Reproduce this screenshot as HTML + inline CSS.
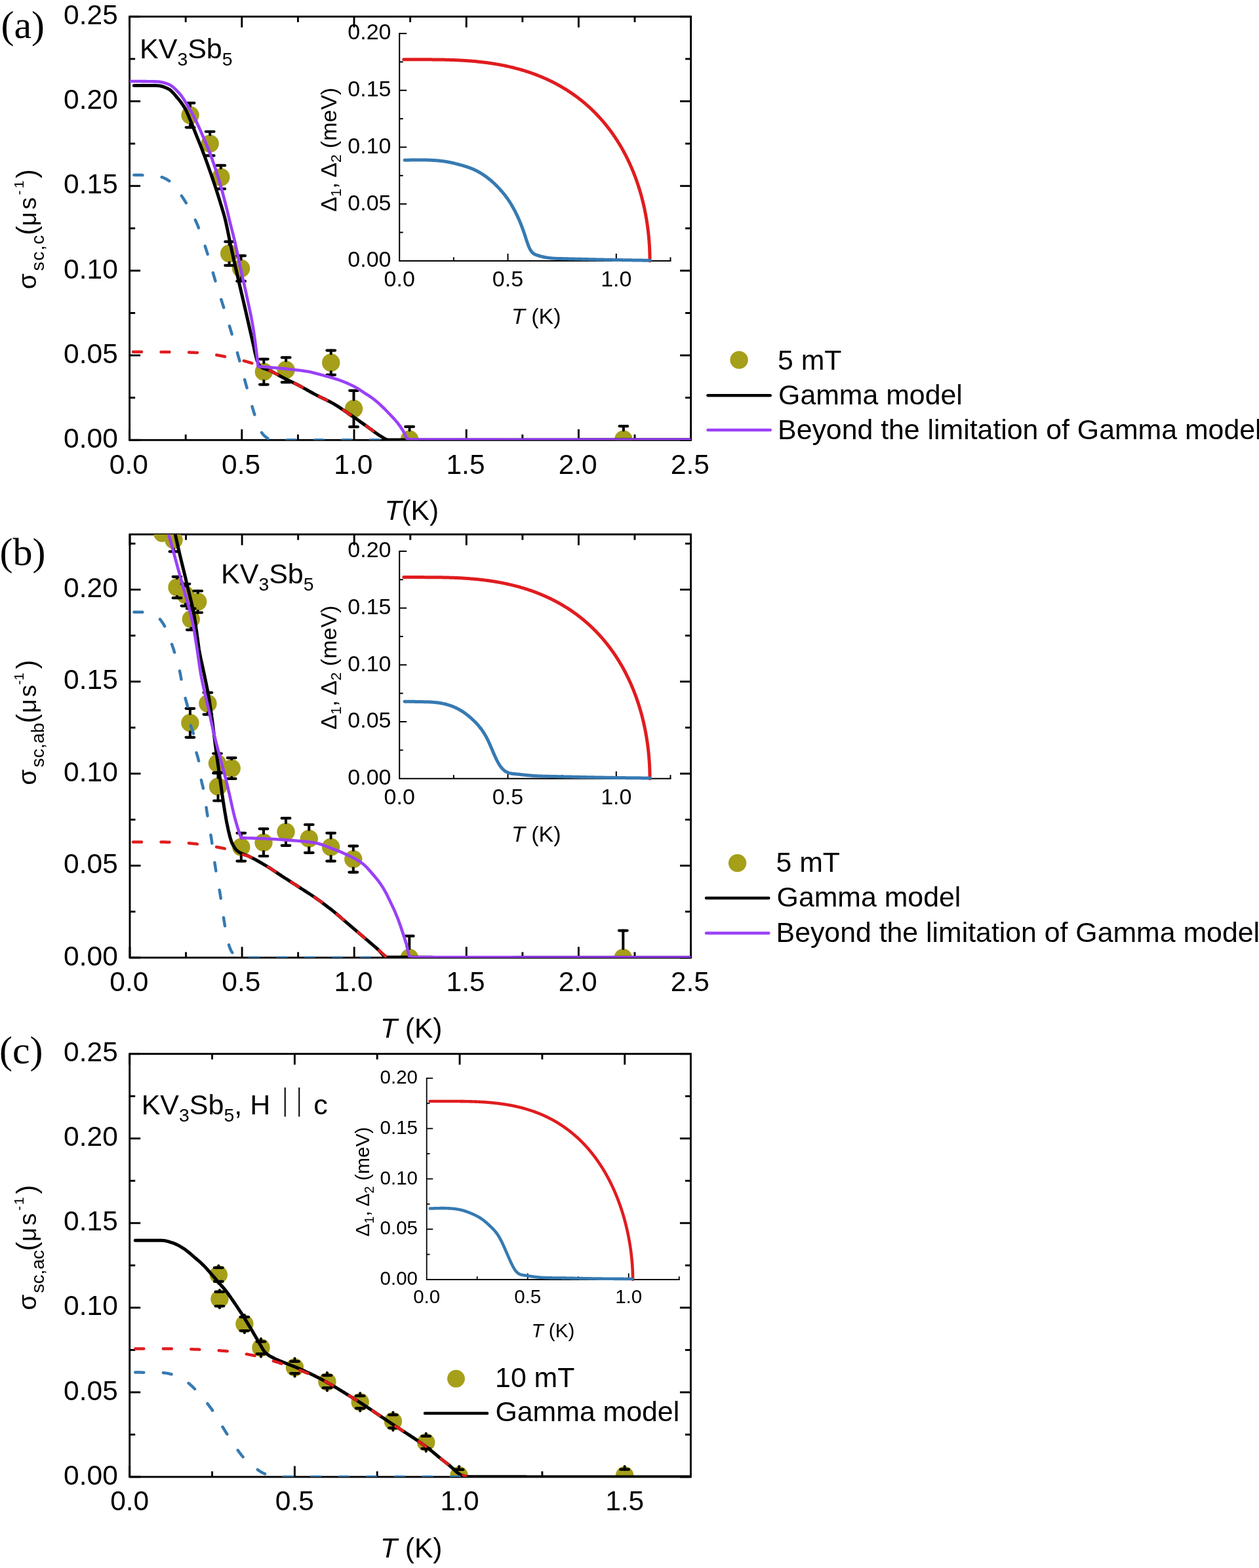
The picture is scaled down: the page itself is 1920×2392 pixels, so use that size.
<!DOCTYPE html>
<html><head><meta charset="utf-8"><title>figure</title>
<style>html,body{margin:0;padding:0;background:#fff;}svg{display:block;}</style></head>
<body><svg width="1920" height="2392" viewBox="0 0 1920 2392">
<rect width="1920" height="2392" fill="#fff"/>
<defs>
<clipPath id="cA"><rect x="197.6" y="25.3" width="856" height="646"/></clipPath>
<clipPath id="cB"><rect x="198" y="815.2" width="855.5" height="645.7"/></clipPath>
<clipPath id="cC"><rect x="197.7" y="1607.7" width="855.7" height="645.3"/></clipPath>
<clipPath id="cA2"><rect x="197.6" y="25.3" width="856" height="649"/></clipPath>
<clipPath id="cB2"><rect x="198" y="815.2" width="855.5" height="648.7"/></clipPath>
<clipPath id="cC2"><rect x="197.7" y="1607.7" width="855.7" height="648.3"/></clipPath>
</defs>
<rect x="197.6" y="25.3" width="856" height="646" fill="none" stroke="#000" stroke-width="2.9"/>
<line x1="197.6" y1="671.3" x2="197.6" y2="654.8" stroke="#000" stroke-width="2.9" stroke-linecap="butt"/>
<line x1="197.6" y1="25.3" x2="197.6" y2="41.8" stroke="#000" stroke-width="2.9" stroke-linecap="butt"/>
<line x1="368.8" y1="671.3" x2="368.8" y2="654.8" stroke="#000" stroke-width="2.9" stroke-linecap="butt"/>
<line x1="368.8" y1="25.3" x2="368.8" y2="41.8" stroke="#000" stroke-width="2.9" stroke-linecap="butt"/>
<line x1="540" y1="671.3" x2="540" y2="654.8" stroke="#000" stroke-width="2.9" stroke-linecap="butt"/>
<line x1="540" y1="25.3" x2="540" y2="41.8" stroke="#000" stroke-width="2.9" stroke-linecap="butt"/>
<line x1="711.2" y1="671.3" x2="711.2" y2="654.8" stroke="#000" stroke-width="2.9" stroke-linecap="butt"/>
<line x1="711.2" y1="25.3" x2="711.2" y2="41.8" stroke="#000" stroke-width="2.9" stroke-linecap="butt"/>
<line x1="882.4" y1="671.3" x2="882.4" y2="654.8" stroke="#000" stroke-width="2.9" stroke-linecap="butt"/>
<line x1="882.4" y1="25.3" x2="882.4" y2="41.8" stroke="#000" stroke-width="2.9" stroke-linecap="butt"/>
<line x1="1053.6" y1="671.3" x2="1053.6" y2="654.8" stroke="#000" stroke-width="2.9" stroke-linecap="butt"/>
<line x1="1053.6" y1="25.3" x2="1053.6" y2="41.8" stroke="#000" stroke-width="2.9" stroke-linecap="butt"/>
<line x1="283.2" y1="671.3" x2="283.2" y2="662.8" stroke="#000" stroke-width="2.9" stroke-linecap="butt"/>
<line x1="283.2" y1="25.3" x2="283.2" y2="33.8" stroke="#000" stroke-width="2.9" stroke-linecap="butt"/>
<line x1="454.4" y1="671.3" x2="454.4" y2="662.8" stroke="#000" stroke-width="2.9" stroke-linecap="butt"/>
<line x1="454.4" y1="25.3" x2="454.4" y2="33.8" stroke="#000" stroke-width="2.9" stroke-linecap="butt"/>
<line x1="625.6" y1="671.3" x2="625.6" y2="662.8" stroke="#000" stroke-width="2.9" stroke-linecap="butt"/>
<line x1="625.6" y1="25.3" x2="625.6" y2="33.8" stroke="#000" stroke-width="2.9" stroke-linecap="butt"/>
<line x1="796.8" y1="671.3" x2="796.8" y2="662.8" stroke="#000" stroke-width="2.9" stroke-linecap="butt"/>
<line x1="796.8" y1="25.3" x2="796.8" y2="33.8" stroke="#000" stroke-width="2.9" stroke-linecap="butt"/>
<line x1="968" y1="671.3" x2="968" y2="662.8" stroke="#000" stroke-width="2.9" stroke-linecap="butt"/>
<line x1="968" y1="25.3" x2="968" y2="33.8" stroke="#000" stroke-width="2.9" stroke-linecap="butt"/>
<line x1="197.6" y1="671.3" x2="214.1" y2="671.3" stroke="#000" stroke-width="2.9" stroke-linecap="butt"/>
<line x1="1053.6" y1="671.3" x2="1037.1" y2="671.3" stroke="#000" stroke-width="2.9" stroke-linecap="butt"/>
<line x1="197.6" y1="542.1" x2="214.1" y2="542.1" stroke="#000" stroke-width="2.9" stroke-linecap="butt"/>
<line x1="1053.6" y1="542.1" x2="1037.1" y2="542.1" stroke="#000" stroke-width="2.9" stroke-linecap="butt"/>
<line x1="197.6" y1="412.9" x2="214.1" y2="412.9" stroke="#000" stroke-width="2.9" stroke-linecap="butt"/>
<line x1="1053.6" y1="412.9" x2="1037.1" y2="412.9" stroke="#000" stroke-width="2.9" stroke-linecap="butt"/>
<line x1="197.6" y1="283.7" x2="214.1" y2="283.7" stroke="#000" stroke-width="2.9" stroke-linecap="butt"/>
<line x1="1053.6" y1="283.7" x2="1037.1" y2="283.7" stroke="#000" stroke-width="2.9" stroke-linecap="butt"/>
<line x1="197.6" y1="154.5" x2="214.1" y2="154.5" stroke="#000" stroke-width="2.9" stroke-linecap="butt"/>
<line x1="1053.6" y1="154.5" x2="1037.1" y2="154.5" stroke="#000" stroke-width="2.9" stroke-linecap="butt"/>
<line x1="197.6" y1="25.3" x2="214.1" y2="25.3" stroke="#000" stroke-width="2.9" stroke-linecap="butt"/>
<line x1="1053.6" y1="25.3" x2="1037.1" y2="25.3" stroke="#000" stroke-width="2.9" stroke-linecap="butt"/>
<line x1="197.6" y1="606.7" x2="206.1" y2="606.7" stroke="#000" stroke-width="2.9" stroke-linecap="butt"/>
<line x1="1053.6" y1="606.7" x2="1045.1" y2="606.7" stroke="#000" stroke-width="2.9" stroke-linecap="butt"/>
<line x1="197.6" y1="477.5" x2="206.1" y2="477.5" stroke="#000" stroke-width="2.9" stroke-linecap="butt"/>
<line x1="1053.6" y1="477.5" x2="1045.1" y2="477.5" stroke="#000" stroke-width="2.9" stroke-linecap="butt"/>
<line x1="197.6" y1="348.3" x2="206.1" y2="348.3" stroke="#000" stroke-width="2.9" stroke-linecap="butt"/>
<line x1="1053.6" y1="348.3" x2="1045.1" y2="348.3" stroke="#000" stroke-width="2.9" stroke-linecap="butt"/>
<line x1="197.6" y1="219.1" x2="206.1" y2="219.1" stroke="#000" stroke-width="2.9" stroke-linecap="butt"/>
<line x1="1053.6" y1="219.1" x2="1045.1" y2="219.1" stroke="#000" stroke-width="2.9" stroke-linecap="butt"/>
<line x1="197.6" y1="89.9" x2="206.1" y2="89.9" stroke="#000" stroke-width="2.9" stroke-linecap="butt"/>
<line x1="1053.6" y1="89.9" x2="1045.1" y2="89.9" stroke="#000" stroke-width="2.9" stroke-linecap="butt"/>
<text x="179.8" y="682.9" font-size="42.5" text-anchor="end" font-family='"Liberation Sans", Arial, Helvetica, sans-serif' >0.00</text>
<text x="179.8" y="553.7" font-size="42.5" text-anchor="end" font-family='"Liberation Sans", Arial, Helvetica, sans-serif' >0.05</text>
<text x="179.8" y="424.5" font-size="42.5" text-anchor="end" font-family='"Liberation Sans", Arial, Helvetica, sans-serif' >0.10</text>
<text x="179.8" y="295.3" font-size="42.5" text-anchor="end" font-family='"Liberation Sans", Arial, Helvetica, sans-serif' >0.15</text>
<text x="179.8" y="166.1" font-size="42.5" text-anchor="end" font-family='"Liberation Sans", Arial, Helvetica, sans-serif' >0.20</text>
<text x="179.8" y="36.9" font-size="42.5" text-anchor="end" font-family='"Liberation Sans", Arial, Helvetica, sans-serif' >0.25</text>
<text x="196.4" y="722.5" font-size="42.5" text-anchor="middle" font-family='"Liberation Sans", Arial, Helvetica, sans-serif' >0.0</text>
<text x="367.6" y="722.5" font-size="42.5" text-anchor="middle" font-family='"Liberation Sans", Arial, Helvetica, sans-serif' >0.5</text>
<text x="538.8" y="722.5" font-size="42.5" text-anchor="middle" font-family='"Liberation Sans", Arial, Helvetica, sans-serif' >1.0</text>
<text x="710" y="722.5" font-size="42.5" text-anchor="middle" font-family='"Liberation Sans", Arial, Helvetica, sans-serif' >1.5</text>
<text x="881.2" y="722.5" font-size="42.5" text-anchor="middle" font-family='"Liberation Sans", Arial, Helvetica, sans-serif' >2.0</text>
<text x="1052.4" y="722.5" font-size="42.5" text-anchor="middle" font-family='"Liberation Sans", Arial, Helvetica, sans-serif' >2.5</text>
<g fill="#a59f19" clip-path="url(#cA)"><circle cx="290.05" cy="175.69" r="13.7"/><circle cx="320.18" cy="219.1" r="13.7"/><circle cx="336.79" cy="270.26" r="13.7"/><circle cx="349.63" cy="386.8" r="13.7"/><circle cx="367.6" cy="409.54" r="13.7"/><circle cx="402.36" cy="567.16" r="13.7"/><circle cx="436.12" cy="564.32" r="13.7"/><circle cx="504.73" cy="553.21" r="13.7"/><circle cx="539.49" cy="623.5" r="13.7"/><circle cx="624.57" cy="670.27" r="13.7"/><circle cx="950.88" cy="670.27" r="13.7"/></g>
<g stroke="#000" stroke-linecap="round" clip-path="url(#cA)"><line x1="290.05" y1="161.99" x2="290.05" y2="157.08" stroke-width="4"/><line x1="290.05" y1="189.39" x2="290.05" y2="194.29" stroke-width="4"/><line x1="283.75" y1="157.08" x2="296.35" y2="157.08" stroke-width="4.2"/><line x1="283.75" y1="194.29" x2="296.35" y2="194.29" stroke-width="4.2"/><line x1="320.18" y1="205.4" x2="320.18" y2="200.75" stroke-width="4"/><line x1="320.18" y1="232.8" x2="320.18" y2="237.45" stroke-width="4"/><line x1="313.88" y1="200.75" x2="326.48" y2="200.75" stroke-width="4.2"/><line x1="313.88" y1="237.45" x2="326.48" y2="237.45" stroke-width="4.2"/><line x1="336.79" y1="256.56" x2="336.79" y2="252.43" stroke-width="4"/><line x1="336.79" y1="283.96" x2="336.79" y2="288.09" stroke-width="4"/><line x1="330.49" y1="252.43" x2="343.09" y2="252.43" stroke-width="4.2"/><line x1="330.49" y1="288.09" x2="343.09" y2="288.09" stroke-width="4.2"/><line x1="349.63" y1="373.1" x2="349.63" y2="368.71" stroke-width="4"/><line x1="349.63" y1="400.5" x2="349.63" y2="404.89" stroke-width="4"/><line x1="343.33" y1="368.71" x2="355.93" y2="368.71" stroke-width="4.2"/><line x1="343.33" y1="404.89" x2="355.93" y2="404.89" stroke-width="4.2"/><line x1="367.6" y1="395.84" x2="367.6" y2="390.16" stroke-width="4"/><line x1="367.6" y1="423.24" x2="367.6" y2="428.92" stroke-width="4"/><line x1="361.3" y1="390.16" x2="373.9" y2="390.16" stroke-width="4.2"/><line x1="361.3" y1="428.92" x2="373.9" y2="428.92" stroke-width="4.2"/><line x1="402.36" y1="553.46" x2="402.36" y2="547.78" stroke-width="4"/><line x1="402.36" y1="580.86" x2="402.36" y2="586.54" stroke-width="4"/><line x1="396.06" y1="547.78" x2="408.66" y2="547.78" stroke-width="4.2"/><line x1="396.06" y1="586.54" x2="408.66" y2="586.54" stroke-width="4.2"/><line x1="436.12" y1="550.62" x2="436.12" y2="545.46" stroke-width="4"/><line x1="436.12" y1="578.02" x2="436.12" y2="583.19" stroke-width="4"/><line x1="429.82" y1="545.46" x2="442.42" y2="545.46" stroke-width="4.2"/><line x1="429.82" y1="583.19" x2="442.42" y2="583.19" stroke-width="4.2"/><line x1="504.73" y1="539.51" x2="504.73" y2="534.61" stroke-width="4"/><line x1="504.73" y1="566.91" x2="504.73" y2="571.82" stroke-width="4"/><line x1="498.43" y1="534.61" x2="511.03" y2="534.61" stroke-width="4.2"/><line x1="498.43" y1="571.82" x2="511.03" y2="571.82" stroke-width="4.2"/><line x1="539.49" y1="609.8" x2="539.49" y2="595.85" stroke-width="4"/><line x1="539.49" y1="637.2" x2="539.49" y2="651.14" stroke-width="4"/><line x1="533.19" y1="595.85" x2="545.79" y2="595.85" stroke-width="4.2"/><line x1="533.19" y1="651.14" x2="545.79" y2="651.14" stroke-width="4.2"/><line x1="624.57" y1="656.57" x2="624.57" y2="650.89" stroke-width="4"/><line x1="624.57" y1="683.97" x2="624.57" y2="689.65" stroke-width="4"/><line x1="618.27" y1="650.89" x2="630.87" y2="650.89" stroke-width="4.2"/><line x1="618.27" y1="689.65" x2="630.87" y2="689.65" stroke-width="4.2"/><line x1="950.88" y1="656.57" x2="950.88" y2="650.11" stroke-width="4"/><line x1="950.88" y1="683.97" x2="950.88" y2="690.42" stroke-width="4"/><line x1="944.58" y1="650.11" x2="957.18" y2="650.11" stroke-width="4.2"/><line x1="944.58" y1="690.42" x2="957.18" y2="690.42" stroke-width="4.2"/></g>
<path d="M204.4 130.6 L207.24 130.6 L210.08 130.6 L212.92 130.6 L215.76 130.6 L218.6 130.6 L221.44 130.6 L224.28 130.6 L227.12 130.6 L229.96 130.6 L232.8 130.6 L235.64 130.6 L238.48 130.6 L241.32 130.64 L244.16 131.01 L247 131.7 L249.84 132.65 L252.68 133.79 L255.52 135.05 L258.36 136.54 L261.2 138.79 L264.04 141.66 L266.88 144.92 L269.72 148.34 L272.56 151.73 L275.4 155.3 L278.24 159.23 L281.08 163.64 L283.92 168.77 L286.76 175.04 L289.6 181.86 L292.44 188.69 L295.28 195.78 L298.12 203.01 L300.96 210.15 L303.8 217.14 L306.64 224.17 L309.48 231.47 L312.33 239.13 L315.17 247.01 L318.01 255 L320.85 263.01 L323.69 271.13 L326.53 279.48 L329.37 288.09 L332.21 296.95 L335.05 306.07 L337.89 315.27 L340.73 324.68 L343.57 335.17 L346.41 347.87 L349.25 362 L352.09 375.72 L354.93 388.65 L357.77 401.35 L360.61 413.88 L363.45 426.32 L366.29 438.56 L369.13 450.69 L371.97 462.84 L374.81 475.1 L377.65 487.57 L380.49 500.15 L383.33 512.7 L386.17 525.3 L389.01 538.72 L391.85 549.57 L394.69 556.66 L397.53 559.66 L400.37 561.28 L403.21 562.42 L406.05 563.32 L408.89 564.22 L411.73 565.37 L414.57 566.78 L417.41 568.28 L420.25 569.83 L423.09 571.41 L425.93 572.98 L428.77 574.53 L431.61 576.02 L434.45 577.46 L437.29 578.87 L440.13 580.27 L442.97 581.65 L445.81 583.03 L448.65 584.43 L451.49 585.84 L454.33 587.28 L457.17 588.76 L460.01 590.28 L462.85 591.84 L465.69 593.43 L468.53 595.03 L471.37 596.64 L474.21 598.23 L477.05 599.8 L479.89 601.34 L482.73 602.84 L485.57 604.27 L488.41 605.66 L491.25 607.02 L494.09 608.37 L496.93 609.74 L499.77 611.13 L502.61 612.58 L505.45 614.09 L508.29 615.68 L511.13 617.37 L513.97 619.12 L516.81 620.94 L519.65 622.81 L522.49 624.71 L525.34 626.63 L528.18 628.57 L531.02 630.5 L533.86 632.42 L536.7 634.36 L539.54 636.33 L542.38 638.33 L545.22 640.33 L548.06 642.34 L550.9 644.36 L553.74 646.37 L556.58 648.37 L559.42 650.37 L562.26 652.43 L565.1 654.52 L567.94 656.63 L570.78 658.72 L573.62 660.77 L576.46 662.74 L579.3 664.62 L582.14 666.37 L584.98 668.08 L587.82 669.9 L590.66 670.89 L593.5 670.9 L596.34 670.9 L599.18 670.9 L602.02 670.9 L604.86 670.9 L607.7 670.9 L610.54 670.9 L613.38 670.9 L616.22 670.9 L619.06 670.9 L621.9 670.9 L624.74 670.9 L627.58 670.9 L630.42 670.9 L633.26 670.9 L636.1 670.9 L638.94 670.9 L641.78 670.9 L644.62 670.9 L647.46 670.9 L650.3 670.9 L653.14 670.9 L655.98 670.9 L658.82 670.9 L661.66 670.9 L664.5 670.9 L667.34 670.9 L670.18 670.9 L673.02 670.9 L675.86 670.9 L678.7 670.9 L681.54 670.9 L684.38 670.9 L687.22 670.9 L690.06 670.9 L692.9 670.9 L695.74 670.9 L698.58 670.9 L701.42 670.9 L704.26 670.9 L707.1 670.9 L709.94 670.9 L712.78 670.9 L715.62 670.9 L718.46 670.9 L721.3 670.9 L724.14 670.9 L726.98 670.9 L729.82 670.9 L732.66 670.9 L735.51 670.9 L738.35 670.9 L741.19 670.9 L744.03 670.9 L746.87 670.9 L749.71 670.9 L752.55 670.9 L755.39 670.9 L758.23 670.9 L761.07 670.9 L763.91 670.89 L766.75 670.89 L769.59 670.89 L772.43 670.89 L775.27 670.89 L778.11 670.89 L780.95 670.89 L783.79 670.89 L786.63 670.89 L789.47 670.89 L792.31 670.89 L795.15 670.89 L797.99 670.89 L800.83 670.89 L803.67 670.89 L806.51 670.89 L809.35 670.89 L812.19 670.89 L815.03 670.89 L817.87 670.89 L820.71 670.89 L823.55 670.89 L826.39 670.89 L829.23 670.89 L832.07 670.89 L834.91 670.89 L837.75 670.88 L840.59 670.88 L843.43 670.88 L846.27 670.88 L849.11 670.88 L851.95 670.88 L854.79 670.88 L857.63 670.88 L860.47 670.88 L863.31 670.88 L866.15 670.88 L868.99 670.88 L871.83 670.88 L874.67 670.88 L877.51 670.88 L880.35 670.88 L883.19 670.87 L886.03 670.87 L888.87 670.87 L891.71 670.87 L894.55 670.87 L897.39 670.87 L900.23 670.87 L903.07 670.87 L905.91 670.87 L908.75 670.87 L911.59 670.87 L914.43 670.87 L917.27 670.86 L920.11 670.86 L922.95 670.86 L925.79 670.86 L928.63 670.86 L931.47 670.86 L934.31 670.86 L937.15 670.86 L939.99 670.86 L942.83 670.86 L945.67 670.85 L948.52 670.85 L951.36 670.85 L954.2 670.85 L957.04 670.85 L959.88 670.85 L962.72 670.85 L965.56 670.85 L968.4 670.85 L971.24 670.84 L974.08 670.84 L976.92 670.84 L979.76 670.84 L982.6 670.84 L985.44 670.84 L988.28 670.84 L991.12 670.84 L993.96 670.83 L996.8 670.83 L999.64 670.83 L1002.48 670.83 L1005.32 670.83 L1008.16 670.83 L1011 670.83 L1013.84 670.82 L1016.68 670.82 L1019.52 670.82 L1022.36 670.82 L1025.2 670.82 L1028.04 670.82 L1030.88 670.81 L1033.72 670.81 L1036.56 670.81 L1039.4 670.81 L1042.24 670.81 L1045.08 670.81 L1047.92 670.8 L1050.76 670.8 L1053.6 670.8" fill="none" stroke="#000" stroke-width="5" stroke-linejoin="round" stroke-linecap="round" clip-path="url(#cA)"/>
<path d="M203 536.8 L204.3 536.8 L205.6 536.8 L206.89 536.8 L208.19 536.8 L209.49 536.8 L210.79 536.8 L212.08 536.8 L213.38 536.81 L214.68 536.81 L215.98 536.81 L217.27 536.81 L218.57 536.81 L219.87 536.81 L221.17 536.82 L222.46 536.82 L223.76 536.82 L225.06 536.82 L226.36 536.83 L227.66 536.83 L228.95 536.83 L230.25 536.84 L231.55 536.84 L232.85 536.84 L234.14 536.85 L235.44 536.85 L236.74 536.85 L238.04 536.86 L239.33 536.86 L240.63 536.87 L241.93 536.87 L243.23 536.88 L244.53 536.88 L245.82 536.88 L247.12 536.89 L248.42 536.89 L249.72 536.9 L251.01 536.9 L252.31 536.91 L253.61 536.92 L254.91 536.93 L256.2 536.94 L257.5 536.95 L258.8 536.96 L260.1 536.98 L261.39 536.99 L262.69 537.01 L263.99 537.02 L265.29 537.04 L266.59 537.06 L267.88 537.08 L269.18 537.11 L270.48 537.13 L271.78 537.15 L273.07 537.18 L274.37 537.21 L275.67 537.23 L276.97 537.26 L278.26 537.29 L279.56 537.33 L280.86 537.36 L282.16 537.39 L283.45 537.43 L284.75 537.46 L286.05 537.5 L287.35 537.54 L288.65 537.58 L289.94 537.62 L291.24 537.66 L292.54 537.71 L293.84 537.75 L295.13 537.8 L296.43 537.84 L297.73 537.89 L299.03 537.94 L300.32 537.99 L301.62 538.04 L302.92 538.09 L304.22 538.15 L305.52 538.2 L306.81 538.26 L308.11 538.34 L309.41 538.44 L310.71 538.55 L312 538.67 L313.3 538.81 L314.6 538.96 L315.9 539.12 L317.19 539.29 L318.49 539.47 L319.79 539.67 L321.09 539.87 L322.38 540.08 L323.68 540.3 L324.98 540.52 L326.28 540.75 L327.58 540.99 L328.87 541.24 L330.17 541.48 L331.47 541.73 L332.77 541.99 L334.06 542.24 L335.36 542.5 L336.66 542.76 L337.96 543.02 L339.25 543.28 L340.55 543.54 L341.85 543.8 L343.15 544.05 L344.44 544.3 L345.74 544.55 L347.04 544.8 L348.34 545.05 L349.64 545.31 L350.93 545.57 L352.23 545.83 L353.53 546.11 L354.83 546.38 L356.12 546.66 L357.42 546.95 L358.72 547.24 L360.02 547.54 L361.31 547.84 L362.61 548.14 L363.91 548.45 L365.21 548.77 L366.51 549.09 L367.8 549.42 L369.1 549.75 L370.4 550.08 L371.7 550.42 L372.99 550.76 L374.29 551.12 L375.59 551.48 L376.89 551.84 L378.18 552.22 L379.48 552.6 L380.78 552.99 L382.08 553.39 L383.37 553.8 L384.67 554.21 L385.97 554.64 L387.27 555.07 L388.57 555.51 L389.86 555.96 L391.16 556.42 L392.46 556.89 L393.76 557.38 L395.05 557.88 L396.35 558.4 L397.65 558.93 L398.95 559.48 L400.24 560.04 L401.54 560.61 L402.84 561.19 L404.14 561.78 L405.43 562.38 L406.73 562.98 L408.03 563.59 L409.33 564.21 L410.63 564.83 L411.92 565.46 L413.22 566.1 L414.52 566.76 L415.82 567.43 L417.11 568.13 L418.41 568.83 L419.71 569.54 L421.01 570.26 L422.3 570.98 L423.6 571.7 L424.9 572.42 L426.2 573.13 L427.49 573.84 L428.79 574.54 L430.09 575.23 L431.39 575.9 L432.69 576.57 L433.98 577.22 L435.28 577.88 L436.58 578.52 L437.88 579.16 L439.17 579.8 L440.47 580.43 L441.77 581.07 L443.07 581.7 L444.36 582.33 L445.66 582.96 L446.96 583.6 L448.26 584.23 L449.56 584.87 L450.85 585.52 L452.15 586.17 L453.45 586.83 L454.75 587.49 L456.04 588.17 L457.34 588.85 L458.64 589.54 L459.94 590.24 L461.23 590.95 L462.53 591.67 L463.83 592.39 L465.13 593.11 L466.42 593.84 L467.72 594.58 L469.02 595.31 L470.32 596.04 L471.62 596.77 L472.91 597.5 L474.21 598.23 L475.51 598.95 L476.81 599.67 L478.1 600.38 L479.4 601.08 L480.7 601.77 L482 602.46 L483.29 603.13 L484.59 603.78 L485.89 604.43 L487.19 605.07 L488.48 605.69 L489.78 606.32 L491.08 606.94 L492.38 607.56 L493.68 608.18 L494.97 608.79 L496.27 609.42 L497.57 610.05 L498.87 610.68 L500.16 611.33 L501.46 611.98 L502.76 612.65 L504.06 613.33 L505.35 614.03 L506.65 614.75 L507.95 615.48 L509.25 616.24 L510.55 617.01 L511.84 617.8 L513.14 618.6 L514.44 619.42 L515.74 620.24 L517.03 621.08 L518.33 621.93 L519.63 622.79 L520.93 623.65 L522.22 624.53 L523.52 625.4 L524.82 626.28 L526.12 627.16 L527.41 628.05 L528.71 628.93 L530.01 629.81 L531.31 630.69 L532.61 631.57 L533.9 632.45 L535.2 633.34 L536.5 634.23 L537.8 635.12 L539.09 636.03 L540.39 636.93 L541.69 637.84 L542.99 638.76 L544.28 639.67 L545.58 640.59 L546.88 641.51 L548.18 642.43 L549.47 643.35 L550.77 644.27 L552.07 645.19 L553.37 646.11 L554.67 647.03 L555.96 647.94 L557.26 648.85 L558.56 649.76 L559.86 650.69 L561.15 651.62 L562.45 652.57 L563.75 653.52 L565.05 654.48 L566.34 655.45 L567.64 656.41 L568.94 657.37 L570.24 658.32 L571.54 659.27 L572.83 660.21 L574.13 661.13 L575.43 662.04 L576.73 662.92 L578.02 663.79 L579.32 664.63 L580.62 665.45 L581.92 666.24 L583.21 666.99 L584.51 667.72 L585.81 668.4 L587.11 669.06 L588.4 669.69 L589.7 670.3 L591 670.9" fill="none" stroke="#e01c1f" stroke-width="4.5" stroke-linejoin="round" stroke-linecap="round" stroke-dasharray="13 29.5" clip-path="url(#cA)"/>
<path d="M204.4 267 L205.71 267 L207.01 267.01 L208.32 267.01 L209.63 267.02 L210.93 267.03 L212.24 267.05 L213.54 267.07 L214.85 267.08 L216.16 267.11 L217.46 267.13 L218.77 267.15 L220.08 267.18 L221.38 267.21 L222.69 267.24 L224 267.27 L225.3 267.31 L226.61 267.36 L227.91 267.42 L229.22 267.51 L230.53 267.61 L231.83 267.73 L233.14 267.86 L234.45 268.01 L235.75 268.17 L237.06 268.35 L238.37 268.55 L239.67 268.75 L240.98 268.97 L242.28 269.2 L243.59 269.44 L244.9 269.71 L246.2 270.06 L247.51 270.48 L248.82 270.97 L250.12 271.53 L251.43 272.14 L252.74 272.81 L254.04 273.53 L255.35 274.3 L256.65 275.11 L257.96 275.96 L259.27 276.84 L260.57 277.81 L261.88 278.96 L263.19 280.27 L264.49 281.73 L265.8 283.31 L267.11 284.99 L268.41 286.75 L269.72 288.58 L271.02 290.44 L272.33 292.33 L273.64 294.21 L274.94 296.08 L276.25 297.91 L277.56 299.8 L278.86 301.73 L280.17 303.73 L281.47 305.78 L282.78 307.88 L284.09 310.04 L285.39 312.25 L286.7 314.49 L288.01 316.77 L289.31 319.08 L290.62 321.44 L291.93 323.85 L293.23 326.32 L294.54 328.86 L295.84 331.48 L297.15 334.19 L298.46 337 L299.76 339.92 L301.07 342.97 L302.38 346.18 L303.68 349.53 L304.99 353.01 L306.3 356.61 L307.6 360.3 L308.91 364.08 L310.21 367.94 L311.52 371.85 L312.83 375.81 L314.13 379.8 L315.44 383.88 L316.75 388.12 L318.05 392.5 L319.36 396.99 L320.67 401.55 L321.97 406.15 L323.28 410.77 L324.58 415.37 L325.89 419.92 L327.2 424.41 L328.5 428.78 L329.81 433.06 L331.12 437.29 L332.42 441.47 L333.73 445.62 L335.04 449.75 L336.34 453.87 L337.65 457.98 L338.95 462.09 L340.26 466.22 L341.57 470.38 L342.87 474.57 L344.18 478.79 L345.49 483 L346.79 487.22 L348.1 491.45 L349.41 495.7 L350.71 499.98 L352.02 504.28 L353.32 508.62 L354.63 513 L355.94 517.43 L357.24 521.88 L358.55 526.36 L359.86 530.88 L361.16 535.43 L362.47 540.01 L363.78 544.63 L365.08 549.29 L366.39 553.98 L367.69 558.75 L369 563.62 L370.31 568.53 L371.61 573.47 L372.92 578.41 L374.23 583.3 L375.53 588.12 L376.84 592.84 L378.15 597.56 L379.45 602.27 L380.76 606.96 L382.06 611.61 L383.37 616.19 L384.68 620.69 L385.98 625.08 L387.29 629.35 L388.6 633.54 L389.9 637.84 L391.21 642.15 L392.52 646.27 L393.82 650.03 L395.13 653.24 L396.43 655.77 L397.74 657.96 L399.05 659.92 L400.35 661.68 L401.66 663.23 L402.97 664.57 L404.27 665.73 L405.58 666.8 L406.88 667.81 L408.19 668.72 L409.5 669.49 L410.8 670.07 L412.11 670.42 L413.42 670.66 L414.72 670.87 L416.03 671.04 L417.34 671.18 L418.64 671.27 L419.95 671.3 L421.25 671.3 L422.56 671.3 L423.87 671.3 L425.17 671.3 L426.48 671.3 L427.79 671.3 L429.09 671.3 L430.4 671.3 L431.71 671.3 L433.01 671.3 L434.32 671.3 L435.62 671.3 L436.93 671.3 L438.24 671.3 L439.54 671.3 L440.85 671.3 L442.16 671.3 L443.46 671.3 L444.77 671.3 L446.08 671.3 L447.38 671.3 L448.69 671.3 L449.99 671.3 L451.3 671.3 L452.61 671.3 L453.91 671.3 L455.22 671.3 L456.53 671.3 L457.83 671.3 L459.14 671.3 L460.45 671.3 L461.75 671.3 L463.06 671.3 L464.36 671.3 L465.67 671.3 L466.98 671.3 L468.28 671.3 L469.59 671.3 L470.9 671.3 L472.2 671.3 L473.51 671.3 L474.82 671.3 L476.12 671.3 L477.43 671.3 L478.73 671.3 L480.04 671.3 L481.35 671.3 L482.65 671.3 L483.96 671.3 L485.27 671.3 L486.57 671.3 L487.88 671.3 L489.19 671.3 L490.49 671.3 L491.8 671.3 L493.1 671.3 L494.41 671.3 L495.72 671.3 L497.02 671.3 L498.33 671.3 L499.64 671.3 L500.94 671.3 L502.25 671.3 L503.56 671.3 L504.86 671.3 L506.17 671.3 L507.47 671.3 L508.78 671.3 L510.09 671.3 L511.39 671.3 L512.7 671.3 L514.01 671.3 L515.31 671.3 L516.62 671.3 L517.93 671.3 L519.23 671.3 L520.54 671.3 L521.84 671.3 L523.15 671.3 L524.46 671.3 L525.76 671.3 L527.07 671.3 L528.38 671.3 L529.68 671.3 L530.99 671.3 L532.29 671.3 L533.6 671.3 L534.91 671.3 L536.21 671.3 L537.52 671.3 L538.83 671.3 L540.13 671.3 L541.44 671.3 L542.75 671.3 L544.05 671.3 L545.36 671.3 L546.66 671.3 L547.97 671.3 L549.28 671.3 L550.58 671.3 L551.89 671.3 L553.2 671.3 L554.5 671.3 L555.81 671.3 L557.12 671.3 L558.42 671.3 L559.73 671.3 L561.03 671.3 L562.34 671.3 L563.65 671.3 L564.95 671.3 L566.26 671.3 L567.57 671.3 L568.87 671.3 L570.18 671.3 L571.49 671.3 L572.79 671.3 L574.1 671.3 L575.4 671.3 L576.71 671.3 L578.02 671.3 L579.32 671.3 L580.63 671.3 L581.94 671.3 L583.24 671.3 L584.55 671.3 L585.86 671.3 L587.16 671.3 L588.47 671.3 L589.77 671.3 L591.08 671.3 L592.39 671.3 L593.69 671.3 L595 671.3" fill="none" stroke="#367ab2" stroke-width="4.5" stroke-linejoin="round" stroke-linecap="round" stroke-dasharray="13 29.5" clip-path="url(#cA)"/>
<path d="M198.7 124 L199.97 124 L201.25 124 L202.52 124 L203.8 124.01 L205.07 124.01 L206.34 124.01 L207.62 124.02 L208.89 124.03 L210.16 124.03 L211.44 124.04 L212.71 124.05 L213.99 124.06 L215.26 124.07 L216.53 124.08 L217.81 124.1 L219.08 124.11 L220.36 124.13 L221.63 124.14 L222.9 124.16 L224.18 124.18 L225.45 124.2 L226.72 124.22 L228 124.24 L229.27 124.26 L230.55 124.29 L231.82 124.31 L233.09 124.34 L234.37 124.36 L235.64 124.39 L236.92 124.42 L238.19 124.45 L239.46 124.49 L240.74 124.53 L242.01 124.62 L243.28 124.76 L244.56 124.95 L245.83 125.18 L247.11 125.45 L248.38 125.75 L249.65 126.09 L250.93 126.46 L252.2 126.85 L253.48 127.27 L254.75 127.7 L256.02 128.15 L257.3 128.63 L258.57 129.22 L259.85 129.93 L261.12 130.75 L262.39 131.67 L263.67 132.67 L264.94 133.76 L266.21 134.92 L267.49 136.14 L268.76 137.41 L270.04 138.72 L271.31 140.06 L272.58 141.42 L273.86 142.8 L275.13 144.31 L276.41 145.96 L277.68 147.73 L278.95 149.6 L280.23 151.56 L281.5 153.58 L282.77 155.65 L284.05 157.75 L285.32 159.86 L286.6 161.96 L287.87 164.07 L289.14 166.23 L290.42 168.43 L291.69 170.69 L292.97 172.99 L294.24 175.35 L295.51 177.75 L296.79 180.21 L298.06 182.72 L299.33 185.31 L300.61 187.97 L301.88 190.71 L303.16 193.51 L304.43 196.36 L305.7 199.24 L306.98 202.15 L308.25 205.08 L309.53 208.01 L310.8 210.95 L312.07 213.91 L313.35 216.9 L314.62 219.93 L315.89 223 L317.17 226.13 L318.44 229.33 L319.72 232.6 L320.99 235.95 L322.26 239.39 L323.54 242.91 L324.81 246.52 L326.09 250.2 L327.36 253.95 L328.63 257.78 L329.91 261.68 L331.18 265.68 L332.45 269.78 L333.73 273.97 L335 278.25 L336.28 282.63 L337.55 287.09 L338.82 291.68 L340.1 296.38 L341.37 301.18 L342.65 306.06 L343.92 311.02 L345.19 316.07 L346.47 321.29 L347.74 326.63 L349.02 332.02 L350.29 337.35 L351.56 342.56 L352.84 347.57 L354.11 352.48 L355.38 357.42 L356.66 362.5 L357.93 367.85 L359.21 373.47 L360.48 379.3 L361.75 385.26 L363.03 391.31 L364.3 397.38 L365.58 403.4 L366.85 409.31 L368.12 415.08 L369.4 420.77 L370.67 426.41 L371.94 432.03 L373.22 437.69 L374.49 443.41 L375.77 449.23 L377.04 455.19 L378.31 461.14 L379.59 467 L380.86 472.92 L382.14 479.02 L383.41 485.43 L384.68 492.29 L385.96 499.74 L387.23 507.93 L388.5 516.91 L389.78 526.6 L391.05 536.92 L392.33 547.78 L393.6 559.1 L398.53 559.44 L403.45 559.81 L408.38 560.19 L413.3 560.59 L418.23 561.01 L423.15 561.45 L428.08 561.91 L433 562.39 L437.93 562.9 L442.85 563.43 L447.78 563.97 L452.7 564.51 L457.63 565.09 L462.56 565.72 L467.48 566.45 L472.41 567.33 L477.33 568.41 L482.26 569.66 L487.18 571 L492.11 572.37 L497.03 573.72 L501.96 575.08 L506.88 576.5 L511.81 578 L516.73 579.62 L521.66 581.39 L526.59 583.33 L531.51 585.46 L536.44 587.78 L541.36 590.29 L546.29 593.12 L551.21 596.39 L556.14 599.68 L561.06 602.77 L565.99 605.99 L570.91 609.67 L575.84 613.82 L580.76 618.27 L585.69 622.98 L590.61 627.99 L595.54 633.13 L600.47 638.32 L605.39 643.99 L610.32 650.57 L615.24 658.1 L620.17 668.51 L625.09 670.41 L630.02 670.42 L634.94 670.43 L639.87 670.45 L644.79 670.46 L649.72 670.47 L654.64 670.48 L659.57 670.49 L664.5 670.51 L669.42 670.52 L674.35 670.53 L679.27 670.54 L684.2 670.55 L689.12 670.56 L694.05 670.57 L698.97 670.58 L703.9 670.58 L708.82 670.59 L713.75 670.6 L718.67 670.61 L723.6 670.62 L728.53 670.63 L733.45 670.63 L738.38 670.64 L743.3 670.65 L748.23 670.66 L753.15 670.66 L758.08 670.67 L763 670.68 L767.93 670.68 L772.85 670.69 L777.78 670.69 L782.7 670.7 L787.63 670.7 L792.56 670.71 L797.48 670.71 L802.41 670.72 L807.33 670.72 L812.26 670.73 L817.18 670.73 L822.11 670.74 L827.03 670.74 L831.96 670.74 L836.88 670.75 L841.81 670.75 L846.73 670.75 L851.66 670.76 L856.59 670.76 L861.51 670.76 L866.44 670.77 L871.36 670.77 L876.29 670.77 L881.21 670.77 L886.14 670.77 L891.06 670.78 L895.99 670.78 L900.91 670.78 L905.84 670.78 L910.76 670.78 L915.69 670.79 L920.61 670.79 L925.54 670.79 L930.47 670.79 L935.39 670.79 L940.32 670.79 L945.24 670.79 L950.17 670.79 L955.09 670.79 L960.02 670.8 L964.94 670.8 L969.87 670.8 L974.79 670.8 L979.72 670.8 L984.64 670.8 L989.57 670.8 L994.5 670.8 L999.42 670.8 L1004.35 670.8 L1009.27 670.8 L1014.2 670.8 L1019.12 670.8 L1024.05 670.8 L1028.97 670.8 L1033.9 670.8 L1038.82 670.8 L1043.75 670.8 L1048.67 670.8 L1053.6 670.8" fill="none" stroke="#9a40f8" stroke-width="4.6" stroke-linejoin="round" stroke-linecap="round" clip-path="url(#cA)"/>
<rect x="198" y="815.2" width="855.5" height="645.7" fill="none" stroke="#000" stroke-width="2.9"/>
<line x1="198" y1="1460.9" x2="198" y2="1444.4" stroke="#000" stroke-width="2.9" stroke-linecap="butt"/>
<line x1="198" y1="815.2" x2="198" y2="831.7" stroke="#000" stroke-width="2.9" stroke-linecap="butt"/>
<line x1="369.1" y1="1460.9" x2="369.1" y2="1444.4" stroke="#000" stroke-width="2.9" stroke-linecap="butt"/>
<line x1="369.1" y1="815.2" x2="369.1" y2="831.7" stroke="#000" stroke-width="2.9" stroke-linecap="butt"/>
<line x1="540.2" y1="1460.9" x2="540.2" y2="1444.4" stroke="#000" stroke-width="2.9" stroke-linecap="butt"/>
<line x1="540.2" y1="815.2" x2="540.2" y2="831.7" stroke="#000" stroke-width="2.9" stroke-linecap="butt"/>
<line x1="711.3" y1="1460.9" x2="711.3" y2="1444.4" stroke="#000" stroke-width="2.9" stroke-linecap="butt"/>
<line x1="711.3" y1="815.2" x2="711.3" y2="831.7" stroke="#000" stroke-width="2.9" stroke-linecap="butt"/>
<line x1="882.4" y1="1460.9" x2="882.4" y2="1444.4" stroke="#000" stroke-width="2.9" stroke-linecap="butt"/>
<line x1="882.4" y1="815.2" x2="882.4" y2="831.7" stroke="#000" stroke-width="2.9" stroke-linecap="butt"/>
<line x1="1053.5" y1="1460.9" x2="1053.5" y2="1444.4" stroke="#000" stroke-width="2.9" stroke-linecap="butt"/>
<line x1="1053.5" y1="815.2" x2="1053.5" y2="831.7" stroke="#000" stroke-width="2.9" stroke-linecap="butt"/>
<line x1="283.55" y1="1460.9" x2="283.55" y2="1452.4" stroke="#000" stroke-width="2.9" stroke-linecap="butt"/>
<line x1="283.55" y1="815.2" x2="283.55" y2="823.7" stroke="#000" stroke-width="2.9" stroke-linecap="butt"/>
<line x1="454.65" y1="1460.9" x2="454.65" y2="1452.4" stroke="#000" stroke-width="2.9" stroke-linecap="butt"/>
<line x1="454.65" y1="815.2" x2="454.65" y2="823.7" stroke="#000" stroke-width="2.9" stroke-linecap="butt"/>
<line x1="625.75" y1="1460.9" x2="625.75" y2="1452.4" stroke="#000" stroke-width="2.9" stroke-linecap="butt"/>
<line x1="625.75" y1="815.2" x2="625.75" y2="823.7" stroke="#000" stroke-width="2.9" stroke-linecap="butt"/>
<line x1="796.85" y1="1460.9" x2="796.85" y2="1452.4" stroke="#000" stroke-width="2.9" stroke-linecap="butt"/>
<line x1="796.85" y1="815.2" x2="796.85" y2="823.7" stroke="#000" stroke-width="2.9" stroke-linecap="butt"/>
<line x1="967.95" y1="1460.9" x2="967.95" y2="1452.4" stroke="#000" stroke-width="2.9" stroke-linecap="butt"/>
<line x1="967.95" y1="815.2" x2="967.95" y2="823.7" stroke="#000" stroke-width="2.9" stroke-linecap="butt"/>
<line x1="198" y1="1460.9" x2="214.5" y2="1460.9" stroke="#000" stroke-width="2.9" stroke-linecap="butt"/>
<line x1="1053.5" y1="1460.9" x2="1037" y2="1460.9" stroke="#000" stroke-width="2.9" stroke-linecap="butt"/>
<line x1="198" y1="1320.53" x2="214.5" y2="1320.53" stroke="#000" stroke-width="2.9" stroke-linecap="butt"/>
<line x1="1053.5" y1="1320.53" x2="1037" y2="1320.53" stroke="#000" stroke-width="2.9" stroke-linecap="butt"/>
<line x1="198" y1="1180.16" x2="214.5" y2="1180.16" stroke="#000" stroke-width="2.9" stroke-linecap="butt"/>
<line x1="1053.5" y1="1180.16" x2="1037" y2="1180.16" stroke="#000" stroke-width="2.9" stroke-linecap="butt"/>
<line x1="198" y1="1039.79" x2="214.5" y2="1039.79" stroke="#000" stroke-width="2.9" stroke-linecap="butt"/>
<line x1="1053.5" y1="1039.79" x2="1037" y2="1039.79" stroke="#000" stroke-width="2.9" stroke-linecap="butt"/>
<line x1="198" y1="899.42" x2="214.5" y2="899.42" stroke="#000" stroke-width="2.9" stroke-linecap="butt"/>
<line x1="1053.5" y1="899.42" x2="1037" y2="899.42" stroke="#000" stroke-width="2.9" stroke-linecap="butt"/>
<line x1="198" y1="1390.72" x2="206.5" y2="1390.72" stroke="#000" stroke-width="2.9" stroke-linecap="butt"/>
<line x1="1053.5" y1="1390.72" x2="1045" y2="1390.72" stroke="#000" stroke-width="2.9" stroke-linecap="butt"/>
<line x1="198" y1="1250.35" x2="206.5" y2="1250.35" stroke="#000" stroke-width="2.9" stroke-linecap="butt"/>
<line x1="1053.5" y1="1250.35" x2="1045" y2="1250.35" stroke="#000" stroke-width="2.9" stroke-linecap="butt"/>
<line x1="198" y1="1109.98" x2="206.5" y2="1109.98" stroke="#000" stroke-width="2.9" stroke-linecap="butt"/>
<line x1="1053.5" y1="1109.98" x2="1045" y2="1109.98" stroke="#000" stroke-width="2.9" stroke-linecap="butt"/>
<line x1="198" y1="969.61" x2="206.5" y2="969.61" stroke="#000" stroke-width="2.9" stroke-linecap="butt"/>
<line x1="1053.5" y1="969.61" x2="1045" y2="969.61" stroke="#000" stroke-width="2.9" stroke-linecap="butt"/>
<line x1="198" y1="829.24" x2="206.5" y2="829.24" stroke="#000" stroke-width="2.9" stroke-linecap="butt"/>
<line x1="1053.5" y1="829.24" x2="1045" y2="829.24" stroke="#000" stroke-width="2.9" stroke-linecap="butt"/>
<text x="179.8" y="1472.5" font-size="42.5" text-anchor="end" font-family='"Liberation Sans", Arial, Helvetica, sans-serif' >0.00</text>
<text x="179.8" y="1332.13" font-size="42.5" text-anchor="end" font-family='"Liberation Sans", Arial, Helvetica, sans-serif' >0.05</text>
<text x="179.8" y="1191.76" font-size="42.5" text-anchor="end" font-family='"Liberation Sans", Arial, Helvetica, sans-serif' >0.10</text>
<text x="179.8" y="1051.39" font-size="42.5" text-anchor="end" font-family='"Liberation Sans", Arial, Helvetica, sans-serif' >0.15</text>
<text x="179.8" y="911.02" font-size="42.5" text-anchor="end" font-family='"Liberation Sans", Arial, Helvetica, sans-serif' >0.20</text>
<text x="196.8" y="1512.3" font-size="42.5" text-anchor="middle" font-family='"Liberation Sans", Arial, Helvetica, sans-serif' >0.0</text>
<text x="367.9" y="1512.3" font-size="42.5" text-anchor="middle" font-family='"Liberation Sans", Arial, Helvetica, sans-serif' >0.5</text>
<text x="539" y="1512.3" font-size="42.5" text-anchor="middle" font-family='"Liberation Sans", Arial, Helvetica, sans-serif' >1.0</text>
<text x="710.1" y="1512.3" font-size="42.5" text-anchor="middle" font-family='"Liberation Sans", Arial, Helvetica, sans-serif' >1.5</text>
<text x="881.2" y="1512.3" font-size="42.5" text-anchor="middle" font-family='"Liberation Sans", Arial, Helvetica, sans-serif' >2.0</text>
<text x="1052.3" y="1512.3" font-size="42.5" text-anchor="middle" font-family='"Liberation Sans", Arial, Helvetica, sans-serif' >2.5</text>
<g fill="#a59f19" clip-path="url(#cB)"><circle cx="247.6" cy="813.3" r="13.7"/><circle cx="265" cy="823.7" r="13.7"/><circle cx="270" cy="896" r="13.7"/><circle cx="283" cy="907.6" r="13.7"/><circle cx="301.7" cy="918" r="13.7"/><circle cx="291.3" cy="944.6" r="13.7"/><circle cx="289.9" cy="1102.8" r="13.7"/><circle cx="316.9" cy="1073.2" r="13.7"/><circle cx="331.5" cy="1164.5" r="13.7"/><circle cx="353.2" cy="1172" r="13.7"/><circle cx="332.5" cy="1200" r="13.7"/><circle cx="367.8" cy="1292.2" r="13.7"/><circle cx="402" cy="1285.2" r="13.7"/><circle cx="436" cy="1269" r="13.7"/><circle cx="471.3" cy="1279.4" r="13.7"/><circle cx="504.6" cy="1292.2" r="13.7"/><circle cx="538.8" cy="1310.6" r="13.7"/><circle cx="624.3" cy="1460.9" r="13.7"/><circle cx="950.3" cy="1460.9" r="13.7"/></g>
<g stroke="#000" stroke-linecap="round" clip-path="url(#cB)"><line x1="265" y1="810" x2="265" y2="806" stroke-width="4"/><line x1="265" y1="837.4" x2="265" y2="841.4" stroke-width="4"/><line x1="258.7" y1="806" x2="271.3" y2="806" stroke-width="4.2"/><line x1="258.7" y1="841.4" x2="271.3" y2="841.4" stroke-width="4.2"/><line x1="270" y1="882.3" x2="270" y2="879.8" stroke-width="4"/><line x1="270" y1="909.7" x2="270" y2="912.2" stroke-width="4"/><line x1="263.7" y1="879.8" x2="276.3" y2="879.8" stroke-width="4.2"/><line x1="263.7" y1="912.2" x2="276.3" y2="912.2" stroke-width="4.2"/><line x1="283" y1="893.9" x2="283" y2="890.85" stroke-width="4"/><line x1="283" y1="921.3" x2="283" y2="924.35" stroke-width="4"/><line x1="276.7" y1="890.85" x2="289.3" y2="890.85" stroke-width="4.2"/><line x1="276.7" y1="924.35" x2="289.3" y2="924.35" stroke-width="4.2"/><line x1="301.7" y1="904.3" x2="301.7" y2="901.5" stroke-width="4"/><line x1="301.7" y1="931.7" x2="301.7" y2="934.5" stroke-width="4"/><line x1="295.4" y1="901.5" x2="308" y2="901.5" stroke-width="4.2"/><line x1="295.4" y1="934.5" x2="308" y2="934.5" stroke-width="4.2"/><line x1="291.3" y1="930.9" x2="291.3" y2="928.4" stroke-width="4"/><line x1="291.3" y1="958.3" x2="291.3" y2="960.8" stroke-width="4"/><line x1="285" y1="928.4" x2="297.6" y2="928.4" stroke-width="4.2"/><line x1="285" y1="960.8" x2="297.6" y2="960.8" stroke-width="4.2"/><line x1="289.9" y1="1089.1" x2="289.9" y2="1080.8" stroke-width="4"/><line x1="289.9" y1="1116.5" x2="289.9" y2="1124.8" stroke-width="4"/><line x1="283.6" y1="1080.8" x2="296.2" y2="1080.8" stroke-width="4.2"/><line x1="283.6" y1="1124.8" x2="296.2" y2="1124.8" stroke-width="4.2"/><line x1="316.9" y1="1059.5" x2="316.9" y2="1056.6" stroke-width="4"/><line x1="316.9" y1="1086.9" x2="316.9" y2="1089.8" stroke-width="4"/><line x1="310.6" y1="1056.6" x2="323.2" y2="1056.6" stroke-width="4.2"/><line x1="310.6" y1="1089.8" x2="323.2" y2="1089.8" stroke-width="4.2"/><line x1="331.5" y1="1150.8" x2="331.5" y2="1149.5" stroke-width="4"/><line x1="331.5" y1="1178.2" x2="331.5" y2="1179.5" stroke-width="4"/><line x1="325.2" y1="1149.5" x2="337.8" y2="1149.5" stroke-width="4.2"/><line x1="325.2" y1="1179.5" x2="337.8" y2="1179.5" stroke-width="4.2"/><line x1="353.2" y1="1158.3" x2="353.2" y2="1156.1" stroke-width="4"/><line x1="353.2" y1="1185.7" x2="353.2" y2="1187.9" stroke-width="4"/><line x1="346.9" y1="1156.1" x2="359.5" y2="1156.1" stroke-width="4.2"/><line x1="346.9" y1="1187.9" x2="359.5" y2="1187.9" stroke-width="4.2"/><line x1="332.5" y1="1186.3" x2="332.5" y2="1178.5" stroke-width="4"/><line x1="332.5" y1="1213.7" x2="332.5" y2="1221.5" stroke-width="4"/><line x1="326.2" y1="1178.5" x2="338.8" y2="1178.5" stroke-width="4.2"/><line x1="326.2" y1="1221.5" x2="338.8" y2="1221.5" stroke-width="4.2"/><line x1="367.8" y1="1278.5" x2="367.8" y2="1270.8" stroke-width="4"/><line x1="367.8" y1="1305.9" x2="367.8" y2="1313.6" stroke-width="4"/><line x1="361.5" y1="1270.8" x2="374.1" y2="1270.8" stroke-width="4.2"/><line x1="361.5" y1="1313.6" x2="374.1" y2="1313.6" stroke-width="4.2"/><line x1="402" y1="1271.5" x2="402" y2="1264.4" stroke-width="4"/><line x1="402" y1="1298.9" x2="402" y2="1306" stroke-width="4"/><line x1="395.7" y1="1264.4" x2="408.3" y2="1264.4" stroke-width="4.2"/><line x1="395.7" y1="1306" x2="408.3" y2="1306" stroke-width="4.2"/><line x1="436" y1="1255.3" x2="436" y2="1248.2" stroke-width="4"/><line x1="436" y1="1282.7" x2="436" y2="1289.8" stroke-width="4"/><line x1="429.7" y1="1248.2" x2="442.3" y2="1248.2" stroke-width="4.2"/><line x1="429.7" y1="1289.8" x2="442.3" y2="1289.8" stroke-width="4.2"/><line x1="471.3" y1="1265.7" x2="471.3" y2="1258" stroke-width="4"/><line x1="471.3" y1="1293.1" x2="471.3" y2="1300.8" stroke-width="4"/><line x1="465" y1="1258" x2="477.6" y2="1258" stroke-width="4.2"/><line x1="465" y1="1300.8" x2="477.6" y2="1300.8" stroke-width="4.2"/><line x1="504.6" y1="1278.5" x2="504.6" y2="1270.8" stroke-width="4"/><line x1="504.6" y1="1305.9" x2="504.6" y2="1313.6" stroke-width="4"/><line x1="498.3" y1="1270.8" x2="510.9" y2="1270.8" stroke-width="4.2"/><line x1="498.3" y1="1313.6" x2="510.9" y2="1313.6" stroke-width="4.2"/><line x1="538.8" y1="1296.9" x2="538.8" y2="1290.6" stroke-width="4"/><line x1="538.8" y1="1324.3" x2="538.8" y2="1330.6" stroke-width="4"/><line x1="532.5" y1="1290.6" x2="545.1" y2="1290.6" stroke-width="4.2"/><line x1="532.5" y1="1330.6" x2="545.1" y2="1330.6" stroke-width="4.2"/><line x1="624.3" y1="1447.2" x2="624.3" y2="1427.9" stroke-width="4"/><line x1="624.3" y1="1474.6" x2="624.3" y2="1493.9" stroke-width="4"/><line x1="618" y1="1427.9" x2="630.6" y2="1427.9" stroke-width="4.2"/><line x1="618" y1="1493.9" x2="630.6" y2="1493.9" stroke-width="4.2"/><line x1="950.3" y1="1447.2" x2="950.3" y2="1419.6" stroke-width="4"/><line x1="950.3" y1="1474.6" x2="950.3" y2="1502.2" stroke-width="4"/><line x1="944" y1="1419.6" x2="956.6" y2="1419.6" stroke-width="4.2"/><line x1="944" y1="1502.2" x2="956.6" y2="1502.2" stroke-width="4.2"/></g>
<path d="M266.6 812 L269.23 824.11 L271.86 835.86 L274.5 847.23 L277.13 858.11 L279.76 868.8 L282.39 879.71 L285.02 890.74 L287.65 901.79 L290.29 912.32 L292.92 923 L295.55 935.81 L298.18 952.02 L300.81 970.89 L303.44 990.36 L306.08 1004.17 L308.71 1016.03 L311.34 1028.32 L313.97 1040.77 L316.6 1053.77 L319.24 1068.78 L321.87 1086.2 L324.5 1105.18 L327.13 1126.55 L329.76 1147.24 L332.39 1165.61 L335.03 1184.01 L337.66 1203.47 L340.29 1221.99 L342.92 1238.69 L345.55 1253.89 L348.18 1266.31 L350.82 1277.23 L353.45 1285.41 L356.08 1290.5 L358.71 1294.52 L361.34 1297.56 L363.98 1299.62 L366.61 1301.14 L369.24 1302.34 L371.87 1303.35 L374.5 1304.28 L377.13 1305.25 L379.77 1306.39 L382.4 1307.68 L385.03 1309.03 L387.66 1310.41 L390.29 1311.82 L392.93 1313.27 L395.56 1314.76 L398.19 1316.26 L400.82 1317.79 L403.45 1319.34 L406.08 1320.91 L408.72 1322.52 L411.35 1324.18 L413.98 1325.88 L416.61 1327.6 L419.24 1329.34 L421.87 1331.1 L424.51 1332.85 L427.14 1334.6 L429.77 1336.33 L432.4 1338.04 L435.03 1339.74 L437.67 1341.44 L440.3 1343.14 L442.93 1344.84 L445.56 1346.54 L448.19 1348.24 L450.82 1349.95 L453.46 1351.65 L456.09 1353.36 L458.72 1355.07 L461.35 1356.76 L463.98 1358.44 L466.61 1360.12 L469.25 1361.81 L471.88 1363.51 L474.51 1365.23 L477.14 1366.98 L479.77 1368.77 L482.41 1370.59 L485.04 1372.45 L487.67 1374.34 L490.3 1376.25 L492.93 1378.19 L495.56 1380.16 L498.2 1382.16 L500.83 1384.18 L503.46 1386.23 L506.09 1388.3 L508.72 1390.4 L511.35 1392.56 L513.99 1394.75 L516.62 1396.99 L519.25 1399.25 L521.88 1401.52 L524.51 1403.81 L527.15 1406.09 L529.78 1408.37 L532.41 1410.62 L535.04 1412.87 L537.67 1415.11 L540.3 1417.35 L542.94 1419.6 L545.57 1421.84 L548.2 1424.09 L550.83 1426.34 L553.46 1428.59 L556.09 1430.85 L558.73 1433.11 L561.36 1435.37 L563.99 1437.62 L566.62 1439.88 L569.25 1442.15 L571.89 1444.43 L574.52 1446.72 L577.15 1449.03 L579.78 1451.8 L582.41 1454.92 L585.04 1457.78 L587.68 1459.76 L590.31 1460.3 L592.94 1460.3 L595.57 1460.31 L598.2 1460.31 L600.84 1460.31 L603.47 1460.32 L606.1 1460.32 L608.73 1460.32 L611.36 1460.33 L613.99 1460.33 L616.63 1460.33 L619.26 1460.33 L621.89 1460.34 L624.52 1460.34 L627.15 1460.34 L629.78 1460.35 L632.42 1460.35 L635.05 1460.35 L637.68 1460.35 L640.31 1460.36 L642.94 1460.36 L645.58 1460.36 L648.21 1460.36 L650.84 1460.37 L653.47 1460.37 L656.1 1460.37 L658.73 1460.37 L661.37 1460.38 L664 1460.38 L666.63 1460.38 L669.26 1460.38 L671.89 1460.39 L674.52 1460.39 L677.16 1460.39 L679.79 1460.39 L682.42 1460.4 L685.05 1460.4 L687.68 1460.4 L690.32 1460.4 L692.95 1460.4 L695.58 1460.41 L698.21 1460.41 L700.84 1460.41 L703.47 1460.41 L706.11 1460.41 L708.74 1460.42 L711.37 1460.42 L714 1460.42 L716.63 1460.42 L719.26 1460.42 L721.9 1460.42 L724.53 1460.43 L727.16 1460.43 L729.79 1460.43 L732.42 1460.43 L735.06 1460.43 L737.69 1460.43 L740.32 1460.44 L742.95 1460.44 L745.58 1460.44 L748.21 1460.44 L750.85 1460.44 L753.48 1460.44 L756.11 1460.44 L758.74 1460.45 L761.37 1460.45 L764.01 1460.45 L766.64 1460.45 L769.27 1460.45 L771.9 1460.45 L774.53 1460.45 L777.16 1460.46 L779.8 1460.46 L782.43 1460.46 L785.06 1460.46 L787.69 1460.46 L790.32 1460.46 L792.95 1460.46 L795.59 1460.46 L798.22 1460.46 L800.85 1460.47 L803.48 1460.47 L806.11 1460.47 L808.75 1460.47 L811.38 1460.47 L814.01 1460.47 L816.64 1460.47 L819.27 1460.47 L821.9 1460.47 L824.54 1460.47 L827.17 1460.47 L829.8 1460.48 L832.43 1460.48 L835.06 1460.48 L837.69 1460.48 L840.33 1460.48 L842.96 1460.48 L845.59 1460.48 L848.22 1460.48 L850.85 1460.48 L853.49 1460.48 L856.12 1460.48 L858.75 1460.48 L861.38 1460.48 L864.01 1460.48 L866.64 1460.49 L869.28 1460.49 L871.91 1460.49 L874.54 1460.49 L877.17 1460.49 L879.8 1460.49 L882.43 1460.49 L885.07 1460.49 L887.7 1460.49 L890.33 1460.49 L892.96 1460.49 L895.59 1460.49 L898.23 1460.49 L900.86 1460.49 L903.49 1460.49 L906.12 1460.49 L908.75 1460.49 L911.38 1460.49 L914.02 1460.49 L916.65 1460.49 L919.28 1460.49 L921.91 1460.49 L924.54 1460.49 L927.17 1460.5 L929.81 1460.5 L932.44 1460.5 L935.07 1460.5 L937.7 1460.5 L940.33 1460.5 L942.97 1460.5 L945.6 1460.5 L948.23 1460.5 L950.86 1460.5 L953.49 1460.5 L956.12 1460.5 L958.76 1460.5 L961.39 1460.5 L964.02 1460.5 L966.65 1460.5 L969.28 1460.5 L971.92 1460.5 L974.55 1460.5 L977.18 1460.5 L979.81 1460.5 L982.44 1460.5 L985.07 1460.5 L987.71 1460.5 L990.34 1460.5 L992.97 1460.5 L995.6 1460.5 L998.23 1460.5 L1000.86 1460.5 L1003.5 1460.5 L1006.13 1460.5 L1008.76 1460.5 L1011.39 1460.5 L1014.02 1460.5 L1016.66 1460.5 L1019.29 1460.5 L1021.92 1460.5 L1024.55 1460.5 L1027.18 1460.5 L1029.81 1460.5 L1032.45 1460.5 L1035.08 1460.5 L1037.71 1460.5 L1040.34 1460.5 L1042.97 1460.5 L1045.6 1460.5 L1048.24 1460.5 L1050.87 1460.5 L1053.5 1460.5" fill="none" stroke="#000" stroke-width="5" stroke-linejoin="round" stroke-linecap="round" clip-path="url(#cB)"/>
<path d="M203 1284.5 L204.29 1284.5 L205.59 1284.5 L206.88 1284.5 L208.17 1284.5 L209.47 1284.5 L210.76 1284.5 L212.05 1284.5 L213.35 1284.5 L214.64 1284.51 L215.93 1284.51 L217.23 1284.51 L218.52 1284.51 L219.81 1284.51 L221.11 1284.52 L222.4 1284.52 L223.69 1284.52 L224.99 1284.52 L226.28 1284.52 L227.57 1284.53 L228.87 1284.53 L230.16 1284.53 L231.45 1284.54 L232.75 1284.54 L234.04 1284.54 L235.33 1284.55 L236.63 1284.55 L237.92 1284.56 L239.21 1284.56 L240.51 1284.56 L241.8 1284.57 L243.09 1284.57 L244.39 1284.58 L245.68 1284.58 L246.97 1284.59 L248.27 1284.59 L249.56 1284.6 L250.85 1284.6 L252.15 1284.62 L253.44 1284.63 L254.73 1284.65 L256.03 1284.68 L257.32 1284.71 L258.61 1284.74 L259.91 1284.78 L261.2 1284.82 L262.49 1284.87 L263.79 1284.92 L265.08 1284.97 L266.37 1285.03 L267.67 1285.08 L268.96 1285.15 L270.25 1285.21 L271.55 1285.28 L272.84 1285.35 L274.13 1285.42 L275.43 1285.5 L276.72 1285.58 L278.01 1285.66 L279.31 1285.74 L280.6 1285.82 L281.89 1285.9 L283.19 1285.99 L284.48 1286.08 L285.77 1286.16 L287.07 1286.25 L288.36 1286.34 L289.65 1286.43 L290.95 1286.53 L292.24 1286.64 L293.53 1286.76 L294.83 1286.89 L296.12 1287.03 L297.41 1287.17 L298.71 1287.33 L300 1287.49 L301.29 1287.66 L302.58 1287.83 L303.88 1288.01 L305.17 1288.2 L306.46 1288.39 L307.76 1288.58 L309.05 1288.78 L310.34 1288.98 L311.64 1289.18 L312.93 1289.38 L314.22 1289.59 L315.52 1289.79 L316.81 1290 L318.1 1290.2 L319.4 1290.41 L320.69 1290.61 L321.98 1290.81 L323.28 1291.02 L324.57 1291.23 L325.86 1291.44 L327.16 1291.65 L328.45 1291.87 L329.74 1292.09 L331.04 1292.31 L332.33 1292.54 L333.62 1292.78 L334.92 1293.02 L336.21 1293.26 L337.5 1293.52 L338.8 1293.77 L340.09 1294.04 L341.38 1294.31 L342.68 1294.6 L343.97 1294.89 L345.26 1295.18 L346.56 1295.49 L347.85 1295.81 L349.14 1296.16 L350.44 1296.54 L351.73 1296.94 L353.02 1297.36 L354.32 1297.79 L355.61 1298.24 L356.9 1298.71 L358.2 1299.18 L359.49 1299.67 L360.78 1300.15 L362.08 1300.64 L363.37 1301.13 L364.66 1301.61 L365.96 1302.09 L367.25 1302.56 L368.54 1303.02 L369.84 1303.47 L371.13 1303.9 L372.42 1304.31 L373.72 1304.69 L375.01 1305.04 L376.3 1305.38 L377.6 1305.74 L378.89 1306.12 L380.18 1306.57 L381.48 1307.06 L382.77 1307.59 L384.06 1308.17 L385.36 1308.77 L386.65 1309.41 L387.94 1310.08 L389.24 1310.78 L390.53 1311.5 L391.82 1312.24 L393.12 1312.99 L394.41 1313.77 L395.7 1314.55 L397 1315.34 L398.29 1316.14 L399.58 1316.94 L400.88 1317.74 L402.17 1318.54 L403.46 1319.33 L404.76 1320.11 L406.05 1320.89 L407.34 1321.67 L408.64 1322.47 L409.93 1323.28 L411.22 1324.1 L412.52 1324.93 L413.81 1325.77 L415.1 1326.61 L416.4 1327.46 L417.69 1328.31 L418.98 1329.17 L420.28 1330.03 L421.57 1330.89 L422.86 1331.76 L424.16 1332.62 L425.45 1333.48 L426.74 1334.34 L428.04 1335.19 L429.33 1336.04 L430.62 1336.89 L431.92 1337.72 L433.21 1338.56 L434.5 1339.4 L435.8 1340.23 L437.09 1341.07 L438.38 1341.91 L439.68 1342.74 L440.97 1343.58 L442.26 1344.41 L443.56 1345.25 L444.85 1346.08 L446.14 1346.92 L447.44 1347.75 L448.73 1348.59 L450.02 1349.43 L451.32 1350.27 L452.61 1351.1 L453.9 1351.94 L455.2 1352.78 L456.49 1353.62 L457.78 1354.46 L459.08 1355.29 L460.37 1356.13 L461.66 1356.95 L462.96 1357.78 L464.25 1358.61 L465.54 1359.43 L466.84 1360.26 L468.13 1361.09 L469.42 1361.92 L470.72 1362.76 L472.01 1363.6 L473.3 1364.44 L474.6 1365.29 L475.89 1366.15 L477.18 1367.01 L478.48 1367.88 L479.77 1368.76 L481.06 1369.66 L482.36 1370.56 L483.65 1371.47 L484.94 1372.38 L486.24 1373.31 L487.53 1374.24 L488.82 1375.17 L490.12 1376.12 L491.41 1377.07 L492.7 1378.02 L493.99 1378.98 L495.29 1379.95 L496.58 1380.93 L497.87 1381.91 L499.17 1382.9 L500.46 1383.9 L501.75 1384.9 L503.05 1385.9 L504.34 1386.92 L505.63 1387.94 L506.93 1388.96 L508.22 1390 L509.51 1391.05 L510.81 1392.11 L512.1 1393.18 L513.39 1394.26 L514.69 1395.35 L515.98 1396.44 L517.27 1397.55 L518.57 1398.66 L519.86 1399.77 L521.15 1400.89 L522.45 1402.01 L523.74 1403.14 L525.03 1404.26 L526.33 1405.38 L527.62 1406.5 L528.91 1407.62 L530.21 1408.74 L531.5 1409.85 L532.79 1410.95 L534.09 1412.05 L535.38 1413.16 L536.67 1414.26 L537.97 1415.36 L539.26 1416.46 L540.55 1417.56 L541.85 1418.67 L543.14 1419.77 L544.43 1420.87 L545.73 1421.98 L547.02 1423.08 L548.31 1424.19 L549.61 1425.29 L550.9 1426.4 L552.19 1427.51 L553.49 1428.61 L554.78 1429.72 L556.07 1430.83 L557.37 1431.94 L558.66 1433.05 L559.95 1434.16 L561.25 1435.27 L562.54 1436.38 L563.83 1437.49 L565.13 1438.6 L566.42 1439.71 L567.71 1440.82 L569.01 1441.94 L570.3 1443.06 L571.59 1444.18 L572.89 1445.3 L574.18 1446.43 L575.47 1447.56 L576.77 1448.69 L578.06 1449.84 L579.35 1450.98 L580.65 1452.13 L581.94 1453.29 L583.23 1454.45 L584.53 1455.61 L585.82 1456.78 L587.11 1457.95 L588.41 1459.12 L589.7 1460.3" fill="none" stroke="#e01c1f" stroke-width="4.5" stroke-linejoin="round" stroke-linecap="round" stroke-dasharray="13 29.5" clip-path="url(#cB)"/>
<path d="M204.4 933.7 L205.62 933.7 L206.84 933.7 L208.06 933.7 L209.28 933.7 L210.5 933.7 L211.72 933.7 L212.94 933.7 L214.16 933.7 L215.37 933.7 L216.59 933.7 L217.81 933.7 L219.03 933.7 L220.25 933.7 L221.47 933.74 L222.69 933.84 L223.91 934.02 L225.13 934.27 L226.35 934.58 L227.57 934.95 L228.79 935.37 L230.01 935.85 L231.23 936.37 L232.45 936.94 L233.67 937.54 L234.88 938.18 L236.1 938.86 L237.32 939.56 L238.54 940.29 L239.76 941.04 L240.98 941.82 L242.2 942.81 L243.42 944.02 L244.64 945.44 L245.86 947.02 L247.08 948.75 L248.3 950.6 L249.52 952.55 L250.74 954.56 L251.96 956.79 L253.18 959.32 L254.4 962.12 L255.61 965.12 L256.83 968.29 L258.05 971.57 L259.27 974.91 L260.49 978.26 L261.71 981.64 L262.93 985.2 L264.15 988.91 L265.37 992.75 L266.59 996.69 L267.81 1000.65 L269.03 1004.64 L270.25 1008.77 L271.47 1013.13 L272.69 1017.81 L273.91 1022.96 L275.13 1029.14 L276.34 1035.62 L277.56 1041.68 L278.78 1047.73 L280 1053.64 L281.22 1059.28 L282.44 1064.48 L283.66 1068.87 L284.88 1073.03 L286.1 1077.88 L287.32 1084.82 L288.54 1093.71 L289.76 1102.02 L290.98 1107.52 L292.2 1111.15 L293.42 1114.31 L294.64 1118.15 L295.85 1124.17 L297.07 1132.77 L298.29 1141.5 L299.51 1147.92 L300.73 1152.24 L301.95 1156.17 L303.17 1161.25 L304.39 1169.98 L305.61 1180.97 L306.83 1189.7 L308.05 1195.15 L309.27 1199.75 L310.49 1205.27 L311.71 1212.42 L312.93 1220.56 L314.15 1229.1 L315.37 1237.41 L316.58 1245.04 L317.8 1252.31 L319.02 1259.43 L320.24 1266.58 L321.46 1273.93 L322.68 1281.68 L323.9 1290.13 L325.12 1299.17 L326.34 1308.33 L327.56 1317.14 L328.78 1325.14 L330 1332.32 L331.22 1339.02 L332.44 1345.49 L333.66 1352.02 L334.88 1358.88 L336.09 1366.33 L337.31 1374.49 L338.53 1383.04 L339.75 1391.65 L340.97 1399.97 L342.19 1407.67 L343.41 1414.86 L344.63 1421.97 L345.85 1428.62 L347.07 1434.41 L348.29 1438.97 L349.51 1442.9 L350.73 1446.43 L351.95 1449.43 L353.17 1451.77 L354.39 1453.38 L355.61 1454.78 L356.82 1456.09 L358.04 1457.29 L359.26 1458.36 L360.48 1459.27 L361.7 1460 L362.92 1460.53 L364.14 1460.84 L365.36 1460.9 L366.58 1460.9 L367.8 1460.9 L369.02 1460.9 L370.24 1460.9 L371.46 1460.9 L372.68 1460.9 L373.9 1460.9 L375.12 1460.9 L376.34 1460.9 L377.55 1460.9 L378.77 1460.9 L379.99 1460.9 L381.21 1460.9 L382.43 1460.9 L383.65 1460.9 L384.87 1460.9 L386.09 1460.9 L387.31 1460.9 L388.53 1460.9 L389.75 1460.9 L390.97 1460.9 L392.19 1460.9 L393.41 1460.9 L394.63 1460.9 L395.85 1460.9 L397.06 1460.9 L398.28 1460.9 L399.5 1460.9 L400.72 1460.9 L401.94 1460.9 L403.16 1460.9 L404.38 1460.9 L405.6 1460.9 L406.82 1460.9 L408.04 1460.9 L409.26 1460.9 L410.48 1460.9 L411.7 1460.9 L412.92 1460.9 L414.14 1460.9 L415.36 1460.9 L416.58 1460.9 L417.79 1460.9 L419.01 1460.9 L420.23 1460.9 L421.45 1460.9 L422.67 1460.9 L423.89 1460.9 L425.11 1460.9 L426.33 1460.9 L427.55 1460.9 L428.77 1460.9 L429.99 1460.9 L431.21 1460.9 L432.43 1460.9 L433.65 1460.9 L434.87 1460.9 L436.09 1460.9 L437.31 1460.9 L438.52 1460.9 L439.74 1460.9 L440.96 1460.9 L442.18 1460.9 L443.4 1460.9 L444.62 1460.9 L445.84 1460.9 L447.06 1460.9 L448.28 1460.9 L449.5 1460.9 L450.72 1460.9 L451.94 1460.9 L453.16 1460.9 L454.38 1460.9 L455.6 1460.9 L456.82 1460.9 L458.03 1460.9 L459.25 1460.9 L460.47 1460.9 L461.69 1460.9 L462.91 1460.9 L464.13 1460.9 L465.35 1460.9 L466.57 1460.9 L467.79 1460.9 L469.01 1460.9 L470.23 1460.9 L471.45 1460.9 L472.67 1460.9 L473.89 1460.9 L475.11 1460.9 L476.33 1460.9 L477.55 1460.9 L478.76 1460.9 L479.98 1460.9 L481.2 1460.9 L482.42 1460.9 L483.64 1460.9 L484.86 1460.9 L486.08 1460.9 L487.3 1460.9 L488.52 1460.9 L489.74 1460.9 L490.96 1460.9 L492.18 1460.9 L493.4 1460.9 L494.62 1460.9 L495.84 1460.9 L497.06 1460.9 L498.27 1460.9 L499.49 1460.9 L500.71 1460.9 L501.93 1460.9 L503.15 1460.9 L504.37 1460.9 L505.59 1460.9 L506.81 1460.9 L508.03 1460.9 L509.25 1460.9 L510.47 1460.9 L511.69 1460.9 L512.91 1460.9 L514.13 1460.9 L515.35 1460.9 L516.57 1460.9 L517.79 1460.9 L519 1460.9 L520.22 1460.9 L521.44 1460.9 L522.66 1460.9 L523.88 1460.9 L525.1 1460.9 L526.32 1460.9 L527.54 1460.9 L528.76 1460.9 L529.98 1460.9 L531.2 1460.9 L532.42 1460.9 L533.64 1460.9 L534.86 1460.9 L536.08 1460.9 L537.3 1460.9 L538.52 1460.9 L539.73 1460.9 L540.95 1460.9 L542.17 1460.9 L543.39 1460.9 L544.61 1460.9 L545.83 1460.9 L547.05 1460.9 L548.27 1460.9 L549.49 1460.9 L550.71 1460.9 L551.93 1460.9 L553.15 1460.9 L554.37 1460.9 L555.59 1460.9 L556.81 1460.9 L558.03 1460.9 L559.24 1460.9 L560.46 1460.9 L561.68 1460.9 L562.9 1460.9 L564.12 1460.9 L565.34 1460.9 L566.56 1460.9 L567.78 1460.9 L569 1460.9" fill="none" stroke="#367ab2" stroke-width="4.5" stroke-linejoin="round" stroke-linecap="round" stroke-dasharray="13 29.5" clip-path="url(#cB)"/>
<path d="M256.2 812 L257.06 815.03 L257.92 818.06 L258.78 821.11 L259.63 824.17 L260.49 827.23 L261.35 830.31 L262.21 833.4 L263.07 836.49 L263.93 839.59 L264.78 842.71 L265.64 845.84 L266.5 849 L267.36 852.18 L268.22 855.36 L269.08 858.54 L269.94 861.71 L270.79 864.86 L271.65 867.99 L272.51 871.09 L273.37 874.18 L274.23 877.25 L275.09 880.31 L275.94 883.36 L276.8 886.41 L277.66 889.46 L278.52 892.5 L279.38 895.56 L280.24 898.6 L281.1 901.61 L281.95 904.59 L282.81 907.55 L283.67 910.53 L284.53 913.53 L285.39 916.57 L286.25 919.67 L287.1 922.85 L287.96 926.13 L288.82 929.43 L289.68 932.74 L290.54 936.11 L291.4 939.57 L292.26 943.15 L293.11 946.91 L293.97 950.86 L294.83 955.06 L295.69 959.67 L296.55 964.69 L297.41 969.99 L298.26 975.45 L299.12 980.92 L299.98 986.38 L300.84 992.1 L301.7 998.02 L302.56 1004.03 L303.42 1010.02 L304.27 1015.89 L305.13 1021.51 L305.99 1026.79 L306.85 1031.6 L307.71 1036.08 L308.57 1040.33 L309.42 1044.39 L310.28 1048.29 L311.14 1052.07 L312 1055.76 L312.86 1059.38 L313.72 1062.99 L314.58 1066.6 L315.43 1070.26 L316.29 1073.99 L317.15 1077.83 L318.01 1081.74 L318.87 1085.67 L319.73 1089.63 L320.58 1093.6 L321.44 1097.57 L322.3 1101.52 L323.16 1105.44 L324.02 1109.32 L324.88 1113.14 L325.74 1116.9 L326.59 1120.57 L327.45 1124.16 L328.31 1127.67 L329.17 1131.11 L330.03 1134.5 L330.89 1137.84 L331.74 1141.14 L332.6 1144.41 L333.46 1147.66 L334.32 1150.91 L335.18 1154.15 L336.04 1157.4 L336.9 1160.65 L337.75 1163.84 L338.61 1167 L339.47 1170.13 L340.33 1173.25 L341.19 1176.4 L342.05 1179.57 L342.9 1182.8 L343.76 1186.1 L344.62 1189.49 L345.48 1192.99 L346.34 1196.59 L347.2 1200.26 L348.06 1203.95 L348.91 1207.63 L349.77 1211.34 L350.63 1215.13 L351.49 1218.99 L352.35 1222.88 L353.21 1226.78 L354.06 1230.64 L354.92 1234.45 L355.78 1238.17 L356.64 1241.78 L357.5 1245.23 L358.36 1248.51 L359.22 1251.62 L360.07 1254.65 L360.93 1257.62 L361.79 1260.5 L362.65 1263.31 L363.51 1266.04 L364.37 1268.68 L365.22 1271.23 L366.08 1273.69 L366.94 1276.04 L367.8 1278.3 L372.14 1278.36 L376.48 1278.45 L380.82 1278.55 L385.16 1278.67 L389.5 1278.8 L393.84 1278.94 L398.18 1279.1 L402.52 1279.28 L406.86 1279.48 L411.2 1279.71 L415.54 1279.96 L419.88 1280.23 L424.22 1280.52 L428.56 1280.82 L432.9 1281.13 L437.24 1281.45 L441.58 1281.78 L445.92 1282.11 L450.26 1282.45 L454.6 1282.79 L458.94 1283.17 L463.28 1283.58 L467.62 1284.03 L471.96 1284.55 L476.3 1285.14 L480.64 1285.81 L484.98 1286.76 L489.32 1288.02 L493.66 1289.53 L498 1291.18 L502.34 1292.91 L506.68 1294.61 L511.02 1296.27 L515.36 1297.97 L519.7 1299.74 L524.04 1301.6 L528.38 1303.55 L532.72 1305.61 L537.06 1307.79 L541.39 1310.07 L545.73 1312.54 L550.07 1315.31 L554.41 1318.51 L558.75 1322.58 L563.09 1327.38 L567.43 1332.38 L571.77 1337.37 L576.11 1342.73 L580.45 1348.67 L584.79 1355.28 L589.13 1363.06 L593.47 1372.05 L597.81 1381.05 L602.15 1390.29 L606.49 1400.81 L610.83 1412.77 L615.17 1425.97 L619.51 1439.56 L623.85 1458.38 L628.19 1460.21 L632.53 1460.22 L636.87 1460.22 L641.21 1460.23 L645.55 1460.24 L649.89 1460.25 L654.23 1460.26 L658.57 1460.27 L662.91 1460.27 L667.25 1460.28 L671.59 1460.29 L675.93 1460.29 L680.27 1460.3 L684.61 1460.31 L688.95 1460.32 L693.29 1460.32 L697.63 1460.33 L701.97 1460.33 L706.31 1460.34 L710.65 1460.35 L714.99 1460.35 L719.33 1460.36 L723.67 1460.36 L728.01 1460.37 L732.35 1460.37 L736.69 1460.38 L741.03 1460.38 L745.37 1460.39 L749.71 1460.39 L754.05 1460.4 L758.39 1460.4 L762.73 1460.41 L767.07 1460.41 L771.41 1460.41 L775.75 1460.42 L780.09 1460.42 L784.43 1460.43 L788.77 1460.43 L793.11 1460.43 L797.45 1460.44 L801.79 1460.44 L806.13 1460.44 L810.47 1460.44 L814.81 1460.45 L819.15 1460.45 L823.49 1460.45 L827.83 1460.46 L832.17 1460.46 L836.51 1460.46 L840.85 1460.46 L845.19 1460.47 L849.53 1460.47 L853.87 1460.47 L858.21 1460.47 L862.55 1460.47 L866.89 1460.47 L871.23 1460.48 L875.57 1460.48 L879.91 1460.48 L884.24 1460.48 L888.58 1460.48 L892.92 1460.48 L897.26 1460.49 L901.6 1460.49 L905.94 1460.49 L910.28 1460.49 L914.62 1460.49 L918.96 1460.49 L923.3 1460.49 L927.64 1460.49 L931.98 1460.49 L936.32 1460.49 L940.66 1460.49 L945 1460.49 L949.34 1460.5 L953.68 1460.5 L958.02 1460.5 L962.36 1460.5 L966.7 1460.5 L971.04 1460.5 L975.38 1460.5 L979.72 1460.5 L984.06 1460.5 L988.4 1460.5 L992.74 1460.5 L997.08 1460.5 L1001.42 1460.5 L1005.76 1460.5 L1010.1 1460.5 L1014.44 1460.5 L1018.78 1460.5 L1023.12 1460.5 L1027.46 1460.5 L1031.8 1460.5 L1036.14 1460.5 L1040.48 1460.5 L1044.82 1460.5 L1049.16 1460.5 L1053.5 1460.5" fill="none" stroke="#9a40f8" stroke-width="4.6" stroke-linejoin="round" stroke-linecap="round" clip-path="url(#cB)"/>
<rect x="197.7" y="1607.7" width="855.7" height="645.3" fill="none" stroke="#000" stroke-width="2.9"/>
<line x1="197.7" y1="2253" x2="197.7" y2="2236.5" stroke="#000" stroke-width="2.9" stroke-linecap="butt"/>
<line x1="197.7" y1="1607.7" x2="197.7" y2="1624.2" stroke="#000" stroke-width="2.9" stroke-linecap="butt"/>
<line x1="449.38" y1="2253" x2="449.38" y2="2236.5" stroke="#000" stroke-width="2.9" stroke-linecap="butt"/>
<line x1="449.38" y1="1607.7" x2="449.38" y2="1624.2" stroke="#000" stroke-width="2.9" stroke-linecap="butt"/>
<line x1="701.05" y1="2253" x2="701.05" y2="2236.5" stroke="#000" stroke-width="2.9" stroke-linecap="butt"/>
<line x1="701.05" y1="1607.7" x2="701.05" y2="1624.2" stroke="#000" stroke-width="2.9" stroke-linecap="butt"/>
<line x1="952.73" y1="2253" x2="952.73" y2="2236.5" stroke="#000" stroke-width="2.9" stroke-linecap="butt"/>
<line x1="952.73" y1="1607.7" x2="952.73" y2="1624.2" stroke="#000" stroke-width="2.9" stroke-linecap="butt"/>
<line x1="323.54" y1="2253" x2="323.54" y2="2244.5" stroke="#000" stroke-width="2.9" stroke-linecap="butt"/>
<line x1="323.54" y1="1607.7" x2="323.54" y2="1616.2" stroke="#000" stroke-width="2.9" stroke-linecap="butt"/>
<line x1="575.21" y1="2253" x2="575.21" y2="2244.5" stroke="#000" stroke-width="2.9" stroke-linecap="butt"/>
<line x1="575.21" y1="1607.7" x2="575.21" y2="1616.2" stroke="#000" stroke-width="2.9" stroke-linecap="butt"/>
<line x1="826.89" y1="2253" x2="826.89" y2="2244.5" stroke="#000" stroke-width="2.9" stroke-linecap="butt"/>
<line x1="826.89" y1="1607.7" x2="826.89" y2="1616.2" stroke="#000" stroke-width="2.9" stroke-linecap="butt"/>
<line x1="197.7" y1="2253" x2="214.2" y2="2253" stroke="#000" stroke-width="2.9" stroke-linecap="butt"/>
<line x1="1053.4" y1="2253" x2="1036.9" y2="2253" stroke="#000" stroke-width="2.9" stroke-linecap="butt"/>
<line x1="197.7" y1="2123.94" x2="214.2" y2="2123.94" stroke="#000" stroke-width="2.9" stroke-linecap="butt"/>
<line x1="1053.4" y1="2123.94" x2="1036.9" y2="2123.94" stroke="#000" stroke-width="2.9" stroke-linecap="butt"/>
<line x1="197.7" y1="1994.88" x2="214.2" y2="1994.88" stroke="#000" stroke-width="2.9" stroke-linecap="butt"/>
<line x1="1053.4" y1="1994.88" x2="1036.9" y2="1994.88" stroke="#000" stroke-width="2.9" stroke-linecap="butt"/>
<line x1="197.7" y1="1865.82" x2="214.2" y2="1865.82" stroke="#000" stroke-width="2.9" stroke-linecap="butt"/>
<line x1="1053.4" y1="1865.82" x2="1036.9" y2="1865.82" stroke="#000" stroke-width="2.9" stroke-linecap="butt"/>
<line x1="197.7" y1="1736.76" x2="214.2" y2="1736.76" stroke="#000" stroke-width="2.9" stroke-linecap="butt"/>
<line x1="1053.4" y1="1736.76" x2="1036.9" y2="1736.76" stroke="#000" stroke-width="2.9" stroke-linecap="butt"/>
<line x1="197.7" y1="1607.7" x2="214.2" y2="1607.7" stroke="#000" stroke-width="2.9" stroke-linecap="butt"/>
<line x1="1053.4" y1="1607.7" x2="1036.9" y2="1607.7" stroke="#000" stroke-width="2.9" stroke-linecap="butt"/>
<line x1="197.7" y1="2188.47" x2="206.2" y2="2188.47" stroke="#000" stroke-width="2.9" stroke-linecap="butt"/>
<line x1="1053.4" y1="2188.47" x2="1044.9" y2="2188.47" stroke="#000" stroke-width="2.9" stroke-linecap="butt"/>
<line x1="197.7" y1="2059.41" x2="206.2" y2="2059.41" stroke="#000" stroke-width="2.9" stroke-linecap="butt"/>
<line x1="1053.4" y1="2059.41" x2="1044.9" y2="2059.41" stroke="#000" stroke-width="2.9" stroke-linecap="butt"/>
<line x1="197.7" y1="1930.35" x2="206.2" y2="1930.35" stroke="#000" stroke-width="2.9" stroke-linecap="butt"/>
<line x1="1053.4" y1="1930.35" x2="1044.9" y2="1930.35" stroke="#000" stroke-width="2.9" stroke-linecap="butt"/>
<line x1="197.7" y1="1801.29" x2="206.2" y2="1801.29" stroke="#000" stroke-width="2.9" stroke-linecap="butt"/>
<line x1="1053.4" y1="1801.29" x2="1044.9" y2="1801.29" stroke="#000" stroke-width="2.9" stroke-linecap="butt"/>
<line x1="197.7" y1="1672.23" x2="206.2" y2="1672.23" stroke="#000" stroke-width="2.9" stroke-linecap="butt"/>
<line x1="1053.4" y1="1672.23" x2="1044.9" y2="1672.23" stroke="#000" stroke-width="2.9" stroke-linecap="butt"/>
<text x="179.8" y="2264.6" font-size="42.5" text-anchor="end" font-family='"Liberation Sans", Arial, Helvetica, sans-serif' >0.00</text>
<text x="179.8" y="2135.54" font-size="42.5" text-anchor="end" font-family='"Liberation Sans", Arial, Helvetica, sans-serif' >0.05</text>
<text x="179.8" y="2006.48" font-size="42.5" text-anchor="end" font-family='"Liberation Sans", Arial, Helvetica, sans-serif' >0.10</text>
<text x="179.8" y="1877.42" font-size="42.5" text-anchor="end" font-family='"Liberation Sans", Arial, Helvetica, sans-serif' >0.15</text>
<text x="179.8" y="1748.36" font-size="42.5" text-anchor="end" font-family='"Liberation Sans", Arial, Helvetica, sans-serif' >0.20</text>
<text x="179.8" y="1619.3" font-size="42.5" text-anchor="end" font-family='"Liberation Sans", Arial, Helvetica, sans-serif' >0.25</text>
<text x="197.7" y="2304.3" font-size="42.5" text-anchor="middle" font-family='"Liberation Sans", Arial, Helvetica, sans-serif' >0.0</text>
<text x="449.38" y="2304.3" font-size="42.5" text-anchor="middle" font-family='"Liberation Sans", Arial, Helvetica, sans-serif' >0.5</text>
<text x="701.05" y="2304.3" font-size="42.5" text-anchor="middle" font-family='"Liberation Sans", Arial, Helvetica, sans-serif' >1.0</text>
<text x="952.73" y="2304.3" font-size="42.5" text-anchor="middle" font-family='"Liberation Sans", Arial, Helvetica, sans-serif' >1.5</text>
<g fill="#a59f19" clip-path="url(#cC)"><circle cx="333.3" cy="1944.4" r="13.7"/><circle cx="334.9" cy="1981.6" r="13.7"/><circle cx="372.9" cy="2019.6" r="13.7"/><circle cx="398" cy="2056" r="13.7"/><circle cx="449.5" cy="2086" r="13.7"/><circle cx="498.9" cy="2107.7" r="13.7"/><circle cx="549.2" cy="2138.9" r="13.7"/><circle cx="599.4" cy="2168.3" r="13.7"/><circle cx="649.7" cy="2200.4" r="13.7"/><circle cx="700" cy="2250.6" r="13.7"/><circle cx="952.6" cy="2250.7" r="13.7"/></g>
<g stroke="#000" stroke-linecap="round" clip-path="url(#cC)"><line x1="333.3" y1="1930.7" x2="333.3" y2="1933.9" stroke-width="4"/><line x1="333.3" y1="1958.1" x2="333.3" y2="1954.9" stroke-width="4"/><line x1="327" y1="1933.9" x2="339.6" y2="1933.9" stroke-width="4.2"/><line x1="327" y1="1954.9" x2="339.6" y2="1954.9" stroke-width="4.2"/><line x1="334.9" y1="1967.9" x2="334.9" y2="1970.7" stroke-width="4"/><line x1="334.9" y1="1995.3" x2="334.9" y2="1992.5" stroke-width="4"/><line x1="328.6" y1="1970.7" x2="341.2" y2="1970.7" stroke-width="4.2"/><line x1="328.6" y1="1992.5" x2="341.2" y2="1992.5" stroke-width="4.2"/><line x1="372.9" y1="2005.9" x2="372.9" y2="2009.1" stroke-width="4"/><line x1="372.9" y1="2033.3" x2="372.9" y2="2030.1" stroke-width="4"/><line x1="366.6" y1="2009.1" x2="379.2" y2="2009.1" stroke-width="4.2"/><line x1="366.6" y1="2030.1" x2="379.2" y2="2030.1" stroke-width="4.2"/><line x1="398" y1="2042.3" x2="398" y2="2046.7" stroke-width="4"/><line x1="398" y1="2069.7" x2="398" y2="2065.3" stroke-width="4"/><line x1="391.7" y1="2046.7" x2="404.3" y2="2046.7" stroke-width="4.2"/><line x1="391.7" y1="2065.3" x2="404.3" y2="2065.3" stroke-width="4.2"/><line x1="449.5" y1="2072.3" x2="449.5" y2="2076.9" stroke-width="4"/><line x1="449.5" y1="2099.7" x2="449.5" y2="2095.1" stroke-width="4"/><line x1="443.2" y1="2076.9" x2="455.8" y2="2076.9" stroke-width="4.2"/><line x1="443.2" y1="2095.1" x2="455.8" y2="2095.1" stroke-width="4.2"/><line x1="498.9" y1="2094" x2="498.9" y2="2098.2" stroke-width="4"/><line x1="498.9" y1="2121.4" x2="498.9" y2="2117.2" stroke-width="4"/><line x1="492.6" y1="2098.2" x2="505.2" y2="2098.2" stroke-width="4.2"/><line x1="492.6" y1="2117.2" x2="505.2" y2="2117.2" stroke-width="4.2"/><line x1="549.2" y1="2125.2" x2="549.2" y2="2129.4" stroke-width="4"/><line x1="549.2" y1="2152.6" x2="549.2" y2="2148.4" stroke-width="4"/><line x1="542.9" y1="2129.4" x2="555.5" y2="2129.4" stroke-width="4.2"/><line x1="542.9" y1="2148.4" x2="555.5" y2="2148.4" stroke-width="4.2"/><line x1="599.4" y1="2154.6" x2="599.4" y2="2158.3" stroke-width="4"/><line x1="599.4" y1="2182" x2="599.4" y2="2178.3" stroke-width="4"/><line x1="593.1" y1="2158.3" x2="605.7" y2="2158.3" stroke-width="4.2"/><line x1="593.1" y1="2178.3" x2="605.7" y2="2178.3" stroke-width="4.2"/><line x1="649.7" y1="2186.7" x2="649.7" y2="2190.9" stroke-width="4"/><line x1="649.7" y1="2214.1" x2="649.7" y2="2209.9" stroke-width="4"/><line x1="643.4" y1="2190.9" x2="656" y2="2190.9" stroke-width="4.2"/><line x1="643.4" y1="2209.9" x2="656" y2="2209.9" stroke-width="4.2"/><line x1="700" y1="2236.9" x2="700" y2="2241.9" stroke-width="4"/><line x1="700" y1="2264.3" x2="700" y2="2259.3" stroke-width="4"/><line x1="693.7" y1="2241.9" x2="706.3" y2="2241.9" stroke-width="4.2"/><line x1="693.7" y1="2259.3" x2="706.3" y2="2259.3" stroke-width="4.2"/><line x1="952.6" y1="2237" x2="952.6" y2="2241.7" stroke-width="4"/><line x1="952.6" y1="2264.4" x2="952.6" y2="2259.7" stroke-width="4"/><line x1="946.3" y1="2241.7" x2="958.9" y2="2241.7" stroke-width="4.2"/><line x1="946.3" y1="2259.7" x2="958.9" y2="2259.7" stroke-width="4.2"/></g>
<path d="M206.3 1892.3 L209.13 1892.3 L211.97 1892.3 L214.8 1892.3 L217.63 1892.3 L220.47 1892.3 L223.3 1892.3 L226.13 1892.3 L228.96 1892.3 L231.8 1892.3 L234.63 1892.3 L237.46 1892.3 L240.3 1892.3 L243.13 1892.3 L245.96 1892.3 L248.8 1892.39 L251.63 1892.76 L254.46 1893.38 L257.3 1894.16 L260.13 1895.03 L262.96 1895.92 L265.8 1896.93 L268.63 1898.16 L271.46 1899.57 L274.29 1901.13 L277.13 1902.8 L279.96 1904.54 L282.79 1906.51 L285.63 1908.7 L288.46 1911.04 L291.29 1913.46 L294.13 1915.9 L296.96 1918.31 L299.79 1920.73 L302.63 1923.19 L305.46 1925.73 L308.29 1928.37 L311.13 1931.12 L313.96 1934.07 L316.79 1937.21 L319.62 1940.47 L322.46 1943.77 L325.29 1947.01 L328.12 1950.26 L330.96 1953.52 L333.79 1956.79 L336.62 1960.06 L339.46 1963.27 L342.29 1966.51 L345.12 1969.95 L347.96 1973.69 L350.79 1977.69 L353.62 1981.83 L356.45 1986 L359.29 1990.15 L362.12 1994.35 L364.95 1998.6 L367.79 2002.93 L370.62 2007.34 L373.45 2011.86 L376.29 2016.46 L379.12 2021.12 L381.95 2025.82 L384.79 2030.59 L387.62 2035.46 L390.45 2040.35 L393.29 2045.12 L396.12 2049.94 L398.95 2055.01 L401.78 2059.72 L404.62 2063.43 L407.45 2065.9 L410.28 2067.89 L413.12 2069.57 L415.95 2071.06 L418.78 2072.49 L421.62 2073.84 L424.45 2075.08 L427.28 2076.25 L430.12 2077.36 L432.95 2078.46 L435.78 2079.57 L438.62 2080.71 L441.45 2081.84 L444.28 2082.96 L447.11 2084.07 L449.95 2085.2 L452.78 2086.37 L455.61 2087.58 L458.45 2088.82 L461.28 2090.08 L464.11 2091.37 L466.95 2092.68 L469.78 2094.01 L472.61 2095.36 L475.45 2096.71 L478.28 2098.09 L481.11 2099.48 L483.94 2100.9 L486.78 2102.34 L489.61 2103.82 L492.44 2105.34 L495.28 2106.89 L498.11 2108.47 L500.94 2110.07 L503.78 2111.69 L506.61 2113.33 L509.44 2114.99 L512.28 2116.67 L515.11 2118.37 L517.94 2120.08 L520.78 2121.81 L523.61 2123.55 L526.44 2125.29 L529.27 2127.05 L532.11 2128.82 L534.94 2130.6 L537.77 2132.38 L540.61 2134.16 L543.44 2135.95 L546.27 2137.74 L549.11 2139.55 L551.94 2141.39 L554.77 2143.23 L557.61 2145.1 L560.44 2146.97 L563.27 2148.86 L566.11 2150.75 L568.94 2152.66 L571.77 2154.56 L574.6 2156.48 L577.44 2158.39 L580.27 2160.31 L583.1 2162.23 L585.94 2164.14 L588.77 2166.05 L591.6 2167.96 L594.44 2169.86 L597.27 2171.74 L600.1 2173.61 L602.94 2175.47 L605.77 2177.32 L608.6 2179.15 L611.43 2180.98 L614.27 2182.81 L617.1 2184.64 L619.93 2186.48 L622.77 2188.32 L625.6 2190.18 L628.43 2192.04 L631.27 2193.93 L634.1 2195.84 L636.93 2197.77 L639.77 2199.72 L642.6 2201.71 L645.43 2203.74 L648.27 2205.79 L651.1 2207.92 L653.93 2210.12 L656.76 2212.38 L659.6 2214.68 L662.43 2217.02 L665.26 2219.37 L668.1 2221.73 L670.93 2224.07 L673.76 2226.39 L676.6 2228.67 L679.43 2230.89 L682.26 2233.05 L685.1 2235.28 L687.93 2237.75 L690.76 2240.36 L693.59 2242.99 L696.43 2245.51 L699.26 2247.83 L702.09 2249.82 L704.93 2251.38 L707.76 2252.37 L710.59 2252.7 L713.43 2252.71 L716.26 2252.71 L719.09 2252.72 L721.93 2252.73 L724.76 2252.73 L727.59 2252.74 L730.43 2252.75 L733.26 2252.75 L736.09 2252.76 L738.92 2252.76 L741.76 2252.77 L744.59 2252.78 L747.42 2252.78 L750.26 2252.79 L753.09 2252.79 L755.92 2252.8 L758.76 2252.8 L761.59 2252.81 L764.42 2252.81 L767.26 2252.82 L770.09 2252.82 L772.92 2252.83 L775.76 2252.83 L778.59 2252.84 L781.42 2252.84 L784.25 2252.85 L787.09 2252.85 L789.92 2252.86 L792.75 2252.86 L795.59 2252.86 L798.42 2252.87 L801.25 2252.87 L804.09 2252.88 L806.92 2252.88 L809.75 2252.88 L812.59 2252.89 L815.42 2252.89 L818.25 2252.89 L821.08 2252.9 L823.92 2252.9 L826.75 2252.9 L829.58 2252.91 L832.42 2252.91 L835.25 2252.91 L838.08 2252.92 L840.92 2252.92 L843.75 2252.92 L846.58 2252.92 L849.42 2252.93 L852.25 2252.93 L855.08 2252.93 L857.92 2252.94 L860.75 2252.94 L863.58 2252.94 L866.41 2252.94 L869.25 2252.94 L872.08 2252.95 L874.91 2252.95 L877.75 2252.95 L880.58 2252.95 L883.41 2252.96 L886.25 2252.96 L889.08 2252.96 L891.91 2252.96 L894.75 2252.96 L897.58 2252.96 L900.41 2252.97 L903.25 2252.97 L906.08 2252.97 L908.91 2252.97 L911.74 2252.97 L914.58 2252.97 L917.41 2252.98 L920.24 2252.98 L923.08 2252.98 L925.91 2252.98 L928.74 2252.98 L931.58 2252.98 L934.41 2252.98 L937.24 2252.98 L940.08 2252.98 L942.91 2252.99 L945.74 2252.99 L948.57 2252.99 L951.41 2252.99 L954.24 2252.99 L957.07 2252.99 L959.91 2252.99 L962.74 2252.99 L965.57 2252.99 L968.41 2252.99 L971.24 2252.99 L974.07 2252.99 L976.91 2252.99 L979.74 2252.99 L982.57 2253 L985.41 2253 L988.24 2253 L991.07 2253 L993.9 2253 L996.74 2253 L999.57 2253 L1002.4 2253 L1005.24 2253 L1008.07 2253 L1010.9 2253 L1013.74 2253 L1016.57 2253 L1019.4 2253 L1022.24 2253 L1025.07 2253 L1027.9 2253 L1030.74 2253 L1033.57 2253 L1036.4 2253 L1039.23 2253 L1042.07 2253 L1044.9 2253 L1047.73 2253 L1050.57 2253 L1053.4 2253" fill="none" stroke="#000" stroke-width="5" stroke-linejoin="round" stroke-linecap="round" clip-path="url(#cC)"/>
<path d="M206.3 2057.6 L207.99 2057.6 L209.67 2057.6 L211.36 2057.6 L213.04 2057.6 L214.73 2057.6 L216.42 2057.6 L218.1 2057.6 L219.79 2057.6 L221.47 2057.6 L223.16 2057.6 L224.85 2057.6 L226.53 2057.6 L228.22 2057.6 L229.9 2057.6 L231.59 2057.6 L233.28 2057.6 L234.96 2057.6 L236.65 2057.6 L238.33 2057.6 L240.02 2057.6 L241.71 2057.6 L243.39 2057.6 L245.08 2057.6 L246.76 2057.6 L248.45 2057.6 L250.13 2057.6 L251.82 2057.6 L253.51 2057.6 L255.19 2057.6 L256.88 2057.6 L258.56 2057.6 L260.25 2057.61 L261.94 2057.62 L263.62 2057.63 L265.31 2057.65 L266.99 2057.67 L268.68 2057.69 L270.37 2057.72 L272.05 2057.75 L273.74 2057.78 L275.42 2057.82 L277.11 2057.86 L278.8 2057.9 L280.48 2057.94 L282.17 2057.99 L283.85 2058.03 L285.54 2058.08 L287.23 2058.13 L288.91 2058.18 L290.6 2058.23 L292.28 2058.28 L293.97 2058.33 L295.66 2058.39 L297.34 2058.44 L299.03 2058.49 L300.71 2058.54 L302.4 2058.6 L304.09 2058.66 L305.77 2058.72 L307.46 2058.79 L309.14 2058.86 L310.83 2058.93 L312.52 2059.01 L314.2 2059.09 L315.89 2059.17 L317.57 2059.26 L319.26 2059.34 L320.94 2059.44 L322.63 2059.53 L324.32 2059.63 L326 2059.74 L327.69 2059.84 L329.37 2059.95 L331.06 2060.06 L332.75 2060.18 L334.43 2060.3 L336.12 2060.42 L337.8 2060.55 L339.49 2060.68 L341.18 2060.82 L342.86 2060.96 L344.55 2061.1 L346.23 2061.27 L347.92 2061.44 L349.61 2061.62 L351.29 2061.82 L352.98 2062.03 L354.66 2062.24 L356.35 2062.47 L358.04 2062.7 L359.72 2062.95 L361.41 2063.2 L363.09 2063.46 L364.78 2063.73 L366.47 2064.01 L368.15 2064.3 L369.84 2064.59 L371.52 2064.88 L373.21 2065.19 L374.9 2065.5 L376.58 2065.81 L378.27 2066.13 L379.95 2066.45 L381.64 2066.78 L383.33 2067.11 L385.01 2067.44 L386.7 2067.79 L388.38 2068.16 L390.07 2068.54 L391.75 2068.94 L393.44 2069.36 L395.13 2069.79 L396.81 2070.23 L398.5 2070.68 L400.18 2071.15 L401.87 2071.63 L403.56 2072.11 L405.24 2072.61 L406.93 2073.11 L408.61 2073.62 L410.3 2074.14 L411.99 2074.66 L413.67 2075.19 L415.36 2075.72 L417.04 2076.26 L418.73 2076.79 L420.42 2077.33 L422.1 2077.87 L423.79 2078.41 L425.47 2078.95 L427.16 2079.49 L428.85 2080.05 L430.53 2080.61 L432.22 2081.18 L433.9 2081.75 L435.59 2082.34 L437.28 2082.93 L438.96 2083.53 L440.65 2084.13 L442.33 2084.74 L444.02 2085.36 L445.71 2085.98 L447.39 2086.61 L449.08 2087.24 L450.76 2087.88 L452.45 2088.52 L454.14 2089.17 L455.82 2089.82 L457.51 2090.47 L459.19 2091.13 L460.88 2091.8 L462.56 2092.47 L464.25 2093.14 L465.94 2093.81 L467.62 2094.49 L469.31 2095.17 L470.99 2095.85 L472.68 2096.53 L474.37 2097.23 L476.05 2097.92 L477.74 2098.63 L479.42 2099.34 L481.11 2100.07 L482.8 2100.81 L484.48 2101.56 L486.17 2102.32 L487.85 2103.1 L489.54 2103.9 L491.23 2104.72 L492.91 2105.55 L494.6 2106.41 L496.28 2107.28 L497.97 2108.17 L499.66 2109.08 L501.34 2110.01 L503.03 2110.94 L504.71 2111.9 L506.4 2112.86 L508.09 2113.84 L509.77 2114.83 L511.46 2115.84 L513.14 2116.85 L514.83 2117.87 L516.52 2118.9 L518.2 2119.94 L519.89 2120.99 L521.57 2122.04 L523.26 2123.1 L524.95 2124.17 L526.63 2125.24 L528.32 2126.31 L530 2127.38 L531.69 2128.46 L533.37 2129.54 L535.06 2130.61 L536.75 2131.69 L538.43 2132.77 L540.12 2133.84 L541.8 2134.91 L543.49 2135.98 L545.18 2137.04 L546.86 2138.12 L548.55 2139.2 L550.23 2140.28 L551.92 2141.37 L553.61 2142.47 L555.29 2143.57 L556.98 2144.68 L558.66 2145.79 L560.35 2146.91 L562.04 2148.03 L563.72 2149.16 L565.41 2150.28 L567.09 2151.42 L568.78 2152.55 L570.47 2153.68 L572.15 2154.82 L573.84 2155.96 L575.52 2157.1 L577.21 2158.24 L578.9 2159.38 L580.58 2160.52 L582.27 2161.66 L583.95 2162.8 L585.64 2163.94 L587.33 2165.08 L589.01 2166.22 L590.7 2167.35 L592.38 2168.48 L594.07 2169.61 L595.76 2170.74 L597.44 2171.86 L599.13 2172.97 L600.81 2174.08 L602.5 2175.19 L604.18 2176.29 L605.87 2177.38 L607.56 2178.48 L609.24 2179.57 L610.93 2180.66 L612.61 2181.74 L614.3 2182.83 L615.99 2183.92 L617.67 2185.01 L619.36 2186.1 L621.04 2187.2 L622.73 2188.3 L624.42 2189.4 L626.1 2190.51 L627.79 2191.62 L629.47 2192.73 L631.16 2193.86 L632.85 2194.99 L634.53 2196.13 L636.22 2197.28 L637.9 2198.43 L639.59 2199.6 L641.28 2200.78 L642.96 2201.97 L644.65 2203.17 L646.33 2204.39 L648.02 2205.61 L649.71 2206.86 L651.39 2208.14 L653.08 2209.45 L654.76 2210.78 L656.45 2212.12 L658.14 2213.49 L659.82 2214.87 L661.51 2216.25 L663.19 2217.65 L664.88 2219.05 L666.57 2220.45 L668.25 2221.85 L669.94 2223.25 L671.62 2224.64 L673.31 2226.02 L674.99 2227.39 L676.68 2228.73 L678.37 2230.07 L680.05 2231.37 L681.74 2232.66 L683.42 2233.91 L685.11 2235.16 L686.8 2236.39 L688.48 2237.62 L690.17 2238.83 L691.85 2240.04 L693.54 2241.24 L695.23 2242.43 L696.91 2243.61 L698.6 2244.78 L700.28 2245.94 L701.97 2247.09 L703.66 2248.23 L705.34 2249.36 L707.03 2250.48 L708.71 2251.6 L710.4 2252.7" fill="none" stroke="#e01c1f" stroke-width="4.5" stroke-linejoin="round" stroke-linecap="round" stroke-dasharray="13 29.5" clip-path="url(#cC)"/>
<path d="M206.3 2093.6 L207.97 2093.6 L209.64 2093.6 L211.3 2093.61 L212.97 2093.61 L214.64 2093.62 L216.31 2093.63 L217.98 2093.64 L219.64 2093.65 L221.31 2093.67 L222.98 2093.69 L224.65 2093.71 L226.31 2093.73 L227.98 2093.75 L229.65 2093.77 L231.32 2093.8 L232.99 2093.83 L234.65 2093.86 L236.32 2093.89 L237.99 2093.93 L239.66 2093.97 L241.33 2094.01 L242.99 2094.05 L244.66 2094.09 L246.33 2094.14 L248 2094.19 L249.67 2094.26 L251.33 2094.41 L253 2094.62 L254.67 2094.89 L256.34 2095.22 L258 2095.58 L259.67 2095.99 L261.34 2096.41 L263.01 2096.86 L264.68 2097.32 L266.34 2097.83 L268.01 2098.44 L269.68 2099.13 L271.35 2099.89 L273.02 2100.72 L274.68 2101.62 L276.35 2102.58 L278.02 2103.58 L279.69 2104.63 L281.36 2105.72 L283.02 2106.83 L284.69 2107.97 L286.36 2109.14 L288.03 2110.42 L289.69 2111.82 L291.36 2113.31 L293.03 2114.89 L294.7 2116.53 L296.37 2118.22 L298.03 2119.95 L299.7 2121.69 L301.37 2123.45 L303.04 2125.25 L304.71 2127.09 L306.37 2128.98 L308.04 2130.92 L309.71 2132.89 L311.38 2134.91 L313.05 2136.97 L314.71 2139.07 L316.38 2141.22 L318.05 2143.4 L319.72 2145.62 L321.38 2147.88 L323.05 2150.19 L324.72 2152.61 L326.39 2155.12 L328.06 2157.72 L329.72 2160.39 L331.39 2163.12 L333.06 2165.89 L334.73 2168.69 L336.4 2171.5 L338.06 2174.32 L339.73 2177.12 L341.4 2179.89 L343.07 2182.62 L344.74 2185.29 L346.4 2187.89 L348.07 2190.41 L349.74 2192.92 L351.41 2195.46 L353.07 2198.01 L354.74 2200.56 L356.41 2203.1 L358.08 2205.61 L359.75 2208.09 L361.41 2210.52 L363.08 2212.9 L364.75 2215.22 L366.42 2217.45 L368.09 2219.6 L369.75 2221.64 L371.42 2223.58 L373.09 2225.39 L374.76 2227.11 L376.43 2228.76 L378.09 2230.34 L379.76 2231.86 L381.43 2233.32 L383.1 2234.72 L384.76 2236.07 L386.43 2237.37 L388.1 2238.63 L389.77 2239.84 L391.44 2241.02 L393.1 2242.19 L394.77 2243.33 L396.44 2244.43 L398.11 2245.46 L399.78 2246.42 L401.44 2247.29 L403.11 2248.04 L404.78 2248.72 L406.45 2249.4 L408.12 2250.07 L409.78 2250.72 L411.45 2251.32 L413.12 2251.86 L414.79 2252.31 L416.45 2252.67 L418.12 2252.9 L419.79 2253 L421.46 2253 L423.13 2253 L424.79 2253 L426.46 2253 L428.13 2253 L429.8 2253 L431.47 2253 L433.13 2253 L434.8 2253 L436.47 2253 L438.14 2253 L439.81 2253 L441.47 2253 L443.14 2253 L444.81 2253 L446.48 2253 L448.14 2253 L449.81 2253 L451.48 2253 L453.15 2253 L454.82 2253 L456.48 2253 L458.15 2253 L459.82 2253 L461.49 2253 L463.16 2253 L464.82 2253 L466.49 2253 L468.16 2253 L469.83 2253 L471.49 2253 L473.16 2253 L474.83 2253 L476.5 2253 L478.17 2253 L479.83 2253 L481.5 2253 L483.17 2253 L484.84 2253 L486.51 2253 L488.17 2253 L489.84 2253 L491.51 2253 L493.18 2253 L494.85 2253 L496.51 2253 L498.18 2253 L499.85 2253 L501.52 2253 L503.18 2253 L504.85 2253 L506.52 2253 L508.19 2253 L509.86 2253 L511.52 2253 L513.19 2253 L514.86 2253 L516.53 2253 L518.2 2253 L519.86 2253 L521.53 2253 L523.2 2253 L524.87 2253 L526.54 2253 L528.2 2253 L529.87 2253 L531.54 2253 L533.21 2253 L534.87 2253 L536.54 2253 L538.21 2253 L539.88 2253 L541.55 2253 L543.21 2253 L544.88 2253 L546.55 2253 L548.22 2253 L549.89 2253 L551.55 2253 L553.22 2253 L554.89 2253 L556.56 2253 L558.23 2253 L559.89 2253 L561.56 2253 L563.23 2253 L564.9 2253 L566.56 2253 L568.23 2253 L569.9 2253 L571.57 2253 L573.24 2253 L574.9 2253 L576.57 2253 L578.24 2253 L579.91 2253 L581.58 2253 L583.24 2253 L584.91 2253 L586.58 2253 L588.25 2253 L589.92 2253 L591.58 2253 L593.25 2253 L594.92 2253 L596.59 2253 L598.25 2253 L599.92 2253 L601.59 2253 L603.26 2253 L604.93 2253 L606.59 2253 L608.26 2253 L609.93 2253 L611.6 2253 L613.27 2253 L614.93 2253 L616.6 2253 L618.27 2253 L619.94 2253 L621.61 2253 L623.27 2253 L624.94 2253 L626.61 2253 L628.28 2253 L629.94 2253 L631.61 2253 L633.28 2253 L634.95 2253 L636.62 2253 L638.28 2253 L639.95 2253 L641.62 2253 L643.29 2253 L644.96 2253 L646.62 2253 L648.29 2253 L649.96 2253 L651.63 2253 L653.3 2253 L654.96 2253 L656.63 2253 L658.3 2253 L659.97 2253 L661.63 2253 L663.3 2253 L664.97 2253 L666.64 2253 L668.31 2253 L669.97 2253 L671.64 2253 L673.31 2253 L674.98 2253 L676.65 2253 L678.31 2253 L679.98 2253 L681.65 2253 L683.32 2253 L684.99 2253 L686.65 2253 L688.32 2253 L689.99 2253 L691.66 2253 L693.32 2253 L694.99 2253 L696.66 2253 L698.33 2253 L700 2253 L701.66 2253 L703.33 2253 L705 2253" fill="none" stroke="#367ab2" stroke-width="4.5" stroke-linejoin="round" stroke-linecap="round" stroke-dasharray="13 29.5" clip-path="url(#cC)"/>
<path d="M609.2 51.1 V397.9 H1022.45" fill="none" stroke="#000" stroke-width="2" stroke-linejoin="miter" stroke-linecap="square"/>
<line x1="774.5" y1="397.9" x2="774.5" y2="386.9" stroke="#000" stroke-width="2" stroke-linecap="butt"/>
<line x1="939.8" y1="397.9" x2="939.8" y2="386.9" stroke="#000" stroke-width="2" stroke-linecap="butt"/>
<line x1="691.85" y1="397.9" x2="691.85" y2="392.4" stroke="#000" stroke-width="2" stroke-linecap="butt"/>
<line x1="857.15" y1="397.9" x2="857.15" y2="392.4" stroke="#000" stroke-width="2" stroke-linecap="butt"/>
<line x1="1022.45" y1="397.9" x2="1022.45" y2="392.4" stroke="#000" stroke-width="2" stroke-linecap="butt"/>
<line x1="609.2" y1="311.2" x2="620.2" y2="311.2" stroke="#000" stroke-width="2" stroke-linecap="butt"/>
<line x1="609.2" y1="224.5" x2="620.2" y2="224.5" stroke="#000" stroke-width="2" stroke-linecap="butt"/>
<line x1="609.2" y1="137.8" x2="620.2" y2="137.8" stroke="#000" stroke-width="2" stroke-linecap="butt"/>
<line x1="609.2" y1="51.1" x2="620.2" y2="51.1" stroke="#000" stroke-width="2" stroke-linecap="butt"/>
<line x1="609.2" y1="354.55" x2="614.7" y2="354.55" stroke="#000" stroke-width="2" stroke-linecap="butt"/>
<line x1="609.2" y1="267.85" x2="614.7" y2="267.85" stroke="#000" stroke-width="2" stroke-linecap="butt"/>
<line x1="609.2" y1="181.15" x2="614.7" y2="181.15" stroke="#000" stroke-width="2" stroke-linecap="butt"/>
<line x1="609.2" y1="94.45" x2="614.7" y2="94.45" stroke="#000" stroke-width="2" stroke-linecap="butt"/>
<text x="596.5" y="407.2" font-size="34" text-anchor="end" font-family='"Liberation Sans", Arial, Helvetica, sans-serif' >0.00</text>
<text x="596.5" y="320.5" font-size="34" text-anchor="end" font-family='"Liberation Sans", Arial, Helvetica, sans-serif' >0.05</text>
<text x="596.5" y="233.8" font-size="34" text-anchor="end" font-family='"Liberation Sans", Arial, Helvetica, sans-serif' >0.10</text>
<text x="596.5" y="147.1" font-size="34" text-anchor="end" font-family='"Liberation Sans", Arial, Helvetica, sans-serif' >0.15</text>
<text x="596.5" y="60.4" font-size="34" text-anchor="end" font-family='"Liberation Sans", Arial, Helvetica, sans-serif' >0.20</text>
<text x="609.2" y="437.2" font-size="34" text-anchor="middle" font-family='"Liberation Sans", Arial, Helvetica, sans-serif' >0.0</text>
<text x="774.5" y="437.2" font-size="34" text-anchor="middle" font-family='"Liberation Sans", Arial, Helvetica, sans-serif' >0.5</text>
<text x="939.8" y="437.2" font-size="34" text-anchor="middle" font-family='"Liberation Sans", Arial, Helvetica, sans-serif' >1.0</text>
<path d="M609.2 840.9 V1187.7 H1022.45" fill="none" stroke="#000" stroke-width="2" stroke-linejoin="miter" stroke-linecap="square"/>
<line x1="774.5" y1="1187.7" x2="774.5" y2="1176.7" stroke="#000" stroke-width="2" stroke-linecap="butt"/>
<line x1="939.8" y1="1187.7" x2="939.8" y2="1176.7" stroke="#000" stroke-width="2" stroke-linecap="butt"/>
<line x1="691.85" y1="1187.7" x2="691.85" y2="1182.2" stroke="#000" stroke-width="2" stroke-linecap="butt"/>
<line x1="857.15" y1="1187.7" x2="857.15" y2="1182.2" stroke="#000" stroke-width="2" stroke-linecap="butt"/>
<line x1="1022.45" y1="1187.7" x2="1022.45" y2="1182.2" stroke="#000" stroke-width="2" stroke-linecap="butt"/>
<line x1="609.2" y1="1101" x2="620.2" y2="1101" stroke="#000" stroke-width="2" stroke-linecap="butt"/>
<line x1="609.2" y1="1014.3" x2="620.2" y2="1014.3" stroke="#000" stroke-width="2" stroke-linecap="butt"/>
<line x1="609.2" y1="927.6" x2="620.2" y2="927.6" stroke="#000" stroke-width="2" stroke-linecap="butt"/>
<line x1="609.2" y1="840.9" x2="620.2" y2="840.9" stroke="#000" stroke-width="2" stroke-linecap="butt"/>
<line x1="609.2" y1="1144.35" x2="614.7" y2="1144.35" stroke="#000" stroke-width="2" stroke-linecap="butt"/>
<line x1="609.2" y1="1057.65" x2="614.7" y2="1057.65" stroke="#000" stroke-width="2" stroke-linecap="butt"/>
<line x1="609.2" y1="970.95" x2="614.7" y2="970.95" stroke="#000" stroke-width="2" stroke-linecap="butt"/>
<line x1="609.2" y1="884.25" x2="614.7" y2="884.25" stroke="#000" stroke-width="2" stroke-linecap="butt"/>
<text x="596.5" y="1197" font-size="34" text-anchor="end" font-family='"Liberation Sans", Arial, Helvetica, sans-serif' >0.00</text>
<text x="596.5" y="1110.3" font-size="34" text-anchor="end" font-family='"Liberation Sans", Arial, Helvetica, sans-serif' >0.05</text>
<text x="596.5" y="1023.6" font-size="34" text-anchor="end" font-family='"Liberation Sans", Arial, Helvetica, sans-serif' >0.10</text>
<text x="596.5" y="936.9" font-size="34" text-anchor="end" font-family='"Liberation Sans", Arial, Helvetica, sans-serif' >0.15</text>
<text x="596.5" y="850.2" font-size="34" text-anchor="end" font-family='"Liberation Sans", Arial, Helvetica, sans-serif' >0.20</text>
<text x="609.2" y="1227" font-size="34" text-anchor="middle" font-family='"Liberation Sans", Arial, Helvetica, sans-serif' >0.0</text>
<text x="774.5" y="1227" font-size="34" text-anchor="middle" font-family='"Liberation Sans", Arial, Helvetica, sans-serif' >0.5</text>
<text x="939.8" y="1227" font-size="34" text-anchor="middle" font-family='"Liberation Sans", Arial, Helvetica, sans-serif' >1.0</text>
<path d="M650.7 1644.8 V1952 H1035.7" fill="none" stroke="#000" stroke-width="1.8" stroke-linejoin="miter" stroke-linecap="square"/>
<line x1="804.7" y1="1952" x2="804.7" y2="1942.5" stroke="#000" stroke-width="1.8" stroke-linecap="butt"/>
<line x1="958.7" y1="1952" x2="958.7" y2="1942.5" stroke="#000" stroke-width="1.8" stroke-linecap="butt"/>
<line x1="727.7" y1="1952" x2="727.7" y2="1947.2" stroke="#000" stroke-width="1.8" stroke-linecap="butt"/>
<line x1="881.7" y1="1952" x2="881.7" y2="1947.2" stroke="#000" stroke-width="1.8" stroke-linecap="butt"/>
<line x1="1035.7" y1="1952" x2="1035.7" y2="1947.2" stroke="#000" stroke-width="1.8" stroke-linecap="butt"/>
<line x1="650.7" y1="1875.2" x2="660.2" y2="1875.2" stroke="#000" stroke-width="1.8" stroke-linecap="butt"/>
<line x1="650.7" y1="1798.4" x2="660.2" y2="1798.4" stroke="#000" stroke-width="1.8" stroke-linecap="butt"/>
<line x1="650.7" y1="1721.6" x2="660.2" y2="1721.6" stroke="#000" stroke-width="1.8" stroke-linecap="butt"/>
<line x1="650.7" y1="1644.8" x2="660.2" y2="1644.8" stroke="#000" stroke-width="1.8" stroke-linecap="butt"/>
<line x1="650.7" y1="1913.6" x2="655.5" y2="1913.6" stroke="#000" stroke-width="1.8" stroke-linecap="butt"/>
<line x1="650.7" y1="1836.8" x2="655.5" y2="1836.8" stroke="#000" stroke-width="1.8" stroke-linecap="butt"/>
<line x1="650.7" y1="1760" x2="655.5" y2="1760" stroke="#000" stroke-width="1.8" stroke-linecap="butt"/>
<line x1="650.7" y1="1683.2" x2="655.5" y2="1683.2" stroke="#000" stroke-width="1.8" stroke-linecap="butt"/>
<text x="637" y="1960.1" font-size="29.5" text-anchor="end" font-family='"Liberation Sans", Arial, Helvetica, sans-serif' >0.00</text>
<text x="637" y="1883.3" font-size="29.5" text-anchor="end" font-family='"Liberation Sans", Arial, Helvetica, sans-serif' >0.05</text>
<text x="637" y="1806.5" font-size="29.5" text-anchor="end" font-family='"Liberation Sans", Arial, Helvetica, sans-serif' >0.10</text>
<text x="637" y="1729.7" font-size="29.5" text-anchor="end" font-family='"Liberation Sans", Arial, Helvetica, sans-serif' >0.15</text>
<text x="637" y="1652.9" font-size="29.5" text-anchor="end" font-family='"Liberation Sans", Arial, Helvetica, sans-serif' >0.20</text>
<text x="650.7" y="1987.5" font-size="29.5" text-anchor="middle" font-family='"Liberation Sans", Arial, Helvetica, sans-serif' >0.0</text>
<text x="804.7" y="1987.5" font-size="29.5" text-anchor="middle" font-family='"Liberation Sans", Arial, Helvetica, sans-serif' >0.5</text>
<text x="958.7" y="1987.5" font-size="29.5" text-anchor="middle" font-family='"Liberation Sans", Arial, Helvetica, sans-serif' >1.0</text>
<path d="M615.81 90.81 L617.19 90.81 L618.56 90.81 L619.93 90.81 L621.3 90.81 L622.67 90.81 L624.03 90.81 L625.39 90.81 L626.75 90.81 L628.1 90.81 L629.46 90.81 L630.8 90.81 L632.15 90.81 L633.49 90.81 L634.84 90.81 L636.17 90.81 L637.51 90.81 L638.84 90.81 L640.17 90.81 L641.5 90.81 L642.82 90.82 L644.15 90.82 L645.46 90.82 L646.78 90.82 L648.09 90.83 L649.41 90.83 L650.71 90.83 L652.02 90.84 L653.32 90.84 L654.62 90.85 L655.92 90.86 L657.21 90.86 L658.5 90.87 L659.79 90.88 L661.08 90.89 L662.36 90.9 L663.64 90.91 L664.92 90.93 L666.2 90.94 L667.47 90.96 L668.74 90.97 L670.01 90.99 L671.27 91.01 L672.53 91.03 L673.79 91.05 L675.05 91.07 L676.3 91.1 L677.55 91.12 L678.8 91.15 L680.04 91.18 L681.29 91.21 L682.53 91.24 L683.76 91.28 L685 91.31 L686.23 91.35 L687.46 91.39 L688.69 91.43 L689.91 91.47 L691.13 91.51 L692.35 91.56 L693.56 91.61 L694.78 91.66 L695.99 91.71 L697.2 91.76 L698.4 91.82 L699.6 91.88 L700.8 91.94 L702 92 L703.19 92.06 L704.38 92.13 L705.57 92.2 L706.76 92.27 L707.94 92.34 L709.12 92.41 L710.3 92.49 L711.47 92.57 L712.65 92.65 L713.82 92.73 L714.98 92.82 L716.15 92.91 L717.31 93 L718.47 93.09 L719.62 93.19 L720.78 93.28 L721.93 93.38 L723.08 93.49 L724.22 93.59 L725.37 93.7 L726.51 93.81 L727.64 93.92 L728.78 94.04 L729.91 94.15 L731.04 94.27 L732.17 94.39 L733.29 94.52 L734.41 94.64 L735.53 94.77 L736.65 94.91 L737.76 95.04 L738.87 95.18 L739.98 95.32 L741.09 95.46 L742.19 95.6 L743.29 95.75 L744.39 95.9 L745.48 96.05 L746.57 96.21 L747.66 96.37 L748.75 96.53 L749.84 96.69 L750.92 96.85 L752 97.02 L753.07 97.19 L754.15 97.37 L755.22 97.54 L756.29 97.72 L757.35 97.9 L758.41 98.09 L759.47 98.27 L760.53 98.46 L761.59 98.65 L762.64 98.85 L763.69 99.04 L764.74 99.24 L765.78 99.45 L766.82 99.65 L767.86 99.86 L768.9 100.07 L769.93 100.28 L770.97 100.5 L771.99 100.72 L773.02 100.94 L774.04 101.16 L775.07 101.39 L776.08 101.62 L777.1 101.85 L778.11 102.08 L779.12 102.32 L780.13 102.56 L781.14 102.8 L782.14 103.05 L783.14 103.29 L784.14 103.55 L785.13 103.8 L786.12 104.05 L787.11 104.31 L788.1 104.57 L789.08 104.84 L790.07 105.1 L791.04 105.37 L792.02 105.64 L792.99 105.92 L793.97 106.2 L794.93 106.48 L795.9 106.76 L796.86 107.04 L797.82 107.33 L798.78 107.62 L799.74 107.91 L800.69 108.21 L801.64 108.51 L802.59 108.81 L803.54 109.11 L804.48 109.42 L805.42 109.73 L806.36 110.04 L807.29 110.35 L808.22 110.67 L809.15 110.99 L810.08 111.31 L811 111.63 L811.93 111.96 L812.85 112.29 L813.76 112.62 L814.68 112.96 L815.59 113.3 L816.5 113.64 L817.4 113.98 L818.31 114.32 L819.21 114.67 L820.11 115.02 L821 115.38 L821.9 115.73 L822.79 116.09 L823.68 116.45 L824.56 116.81 L825.45 117.18 L826.33 117.55 L827.21 117.92 L828.08 118.29 L828.95 118.67 L829.83 119.05 L830.69 119.43 L831.56 119.81 L832.42 120.2 L833.28 120.59 L834.14 120.98 L835 121.37 L835.85 121.77 L836.7 122.17 L837.55 122.57 L838.39 122.97 L839.23 123.38 L840.07 123.79 L840.91 124.2 L841.75 124.61 L842.58 125.03 L843.41 125.45 L844.24 125.87 L845.06 126.29 L845.88 126.72 L846.7 127.14 L847.52 127.57 L848.33 128.01 L849.15 128.44 L849.96 128.88 L850.76 129.32 L851.57 129.76 L852.37 130.21 L853.17 130.66 L853.97 131.11 L854.76 131.56 L855.55 132.02 L856.34 132.47 L857.13 132.93 L857.91 133.39 L858.69 133.86 L859.47 134.32 L860.25 134.79 L861.02 135.27 L861.8 135.74 L862.57 136.21 L863.33 136.69 L864.1 137.17 L864.86 137.66 L865.62 138.14 L866.38 138.63 L867.13 139.12 L867.88 139.61 L868.63 140.11 L869.38 140.6 L870.12 141.1 L870.86 141.6 L871.6 142.11 L872.34 142.61 L873.07 143.12 L873.81 143.63 L874.54 144.14 L875.26 144.66 L875.99 145.17 L876.71 145.69 L877.43 146.21 L878.15 146.74 L878.86 147.26 L879.57 147.79 L880.28 148.32 L880.99 148.85 L881.69 149.39 L882.4 149.92 L883.1 150.46 L883.79 151 L884.49 151.55 L885.18 152.09 L885.87 152.64 L886.56 153.19 L887.24 153.74 L887.92 154.29 L888.6 154.85 L889.28 155.41 L889.96 155.97 L890.63 156.53 L891.3 157.09 L891.97 157.66 L892.63 158.23 L893.3 158.8 L893.96 159.37 L894.61 159.94 L895.27 160.52 L895.92 161.1 L896.57 161.68 L897.22 162.26 L897.87 162.84 L898.51 163.43 L899.15 164.02 L899.79 164.61 L900.43 165.2 L901.06 165.79 L901.69 166.39 L902.32 166.99 L902.95 167.59 L903.57 168.19 L904.19 168.79 L904.81 169.4 L905.43 170.01 L906.04 170.61 L906.65 171.23 L907.26 171.84 L907.87 172.45 L908.48 173.07 L909.08 173.69 L909.68 174.31 L910.28 174.93 L910.87 175.56 L911.46 176.18 L912.05 176.81 L912.64 177.44 L913.23 178.07 L913.81 178.71 L914.39 179.34 L914.97 179.98 L915.55 180.62 L916.12 181.26 L916.69 181.9 L917.26 182.54 L917.82 183.19 L918.39 183.84 L918.95 184.49 L919.51 185.14 L920.07 185.79 L920.62 186.44 L921.17 187.1 L921.72 187.76 L922.27 188.42 L922.82 189.08 L923.36 189.74 L923.9 190.41 L924.44 191.07 L924.97 191.74 L925.51 192.41 L926.04 193.08 L926.56 193.75 L927.09 194.43 L927.61 195.1 L928.14 195.78 L928.66 196.46 L929.17 197.14 L929.69 197.82 L930.2 198.5 L930.71 199.19 L931.22 199.87 L931.72 200.56 L932.22 201.25 L932.72 201.94 L933.22 202.64 L933.72 203.33 L934.21 204.03 L934.7 204.72 L935.19 205.42 L935.68 206.12 L936.16 206.82 L936.64 207.53 L937.12 208.23 L937.6 208.94 L938.07 209.64 L938.55 210.35 L939.02 211.06 L939.49 211.77 L939.95 212.48 L940.41 213.2 L940.88 213.91 L941.33 214.63 L941.79 215.35 L942.24 216.07 L942.7 216.79 L943.15 217.51 L943.59 218.23 L944.04 218.96 L944.48 219.68 L944.92 220.41 L945.36 221.14 L945.8 221.87 L946.23 222.6 L946.66 223.33 L947.09 224.07 L947.52 224.8 L947.94 225.54 L948.36 226.27 L948.78 227.01 L949.2 227.75 L949.62 228.49 L950.03 229.23 L950.44 229.98 L950.85 230.72 L951.25 231.47 L951.66 232.21 L952.06 232.96 L952.46 233.71 L952.86 234.46 L953.25 235.21 L953.65 235.96 L954.04 236.71 L954.42 237.47 L954.81 238.22 L955.19 238.98 L955.58 239.73 L955.96 240.49 L956.33 241.25 L956.71 242.01 L957.08 242.77 L957.45 243.53 L957.82 244.3 L958.19 245.06 L958.55 245.83 L958.91 246.59 L959.27 247.36 L959.63 248.13 L959.98 248.9 L960.34 249.66 L960.69 250.43 L961.04 251.21 L961.38 251.98 L961.73 252.75 L962.07 253.52 L962.41 254.3 L962.75 255.07 L963.08 255.85 L963.41 256.63 L963.75 257.41 L964.07 258.18 L964.4 258.96 L964.73 259.74 L965.05 260.53 L965.37 261.31 L965.69 262.09 L966 262.87 L966.32 263.66 L966.63 264.44 L966.94 265.23 L967.24 266.01 L967.55 266.8 L967.85 267.59 L968.15 268.37 L968.45 269.16 L968.75 269.95 L969.04 270.74 L969.34 271.53 L969.63 272.32 L969.91 273.11 L970.2 273.91 L970.48 274.7 L970.76 275.49 L971.04 276.29 L971.32 277.08 L971.6 277.88 L971.87 278.67 L972.14 279.47 L972.41 280.26 L972.68 281.06 L972.94 281.86 L973.2 282.66 L973.46 283.45 L973.72 284.25 L973.98 285.05 L974.23 285.85 L974.49 286.65 L974.74 287.45 L974.98 288.25 L975.23 289.05 L975.47 289.85 L975.72 290.66 L975.96 291.46 L976.19 292.26 L976.43 293.06 L976.66 293.86 L976.9 294.67 L977.12 295.47 L977.35 296.28 L977.58 297.08 L977.8 297.88 L978.02 298.69 L978.24 299.49 L978.46 300.3 L978.67 301.1 L978.89 301.91 L979.1 302.71 L979.31 303.52 L979.52 304.32 L979.72 305.13 L979.92 305.93 L980.12 306.74 L980.32 307.55 L980.52 308.35 L980.72 309.16 L980.91 309.96 L981.1 310.77 L981.29 311.58 L981.48 312.38 L981.66 313.19 L981.85 314 L982.03 314.8 L982.21 315.61 L982.38 316.41 L982.56 317.22 L982.73 318.02 L982.9 318.83 L983.07 319.64 L983.24 320.44 L983.41 321.25 L983.57 322.05 L983.73 322.86 L983.89 323.66 L984.05 324.47 L984.21 325.27 L984.36 326.07 L984.51 326.88 L984.66 327.68 L984.81 328.48 L984.96 329.29 L985.1 330.09 L985.24 330.89 L985.39 331.69 L985.52 332.5 L985.66 333.3 L985.8 334.1 L985.93 334.9 L986.06 335.7 L986.19 336.5 L986.32 337.3 L986.44 338.1 L986.57 338.89 L986.69 339.69 L986.81 340.49 L986.93 341.28 L987.05 342.08 L987.16 342.88 L987.27 343.67 L987.38 344.46 L987.49 345.26 L987.6 346.05 L987.71 346.84 L987.81 347.63 L987.91 348.42 L988.01 349.21 L988.11 350 L988.21 350.79 L988.3 351.58 L988.4 352.36 L988.49 353.15 L988.58 353.93 L988.67 354.72 L988.75 355.5 L988.84 356.28 L988.92 357.06 L989 357.84 L989.08 358.62 L989.16 359.4 L989.23 360.18 L989.31 360.95 L989.38 361.73 L989.45 362.5 L989.52 363.27 L989.59 364.04 L989.65 364.81 L989.72 365.58 L989.78 366.34 L989.84 367.11 L989.9 367.87 L989.96 368.64 L990.01 369.4 L990.07 370.15 L990.12 370.91 L990.17 371.67 L990.22 372.42 L990.27 373.17 L990.32 373.92 L990.36 374.67 L990.41 375.42 L990.45 376.16 L990.49 376.9 L990.53 377.64 L990.56 378.38 L990.6 379.12 L990.63 379.85 L990.67 380.58 L990.7 381.31 L990.73 382.03 L990.75 382.76 L990.78 383.48 L990.81 384.19 L990.83 384.91 L990.85 385.62 L990.87 386.32 L990.89 387.03 L990.91 387.72 L990.93 388.42 L990.95 389.11 L990.96 389.8 L990.97 390.48 L990.99 391.15 L991 391.82 L991.01 392.48 L991.01 393.14 L991.02 393.79 L991.03 394.43 L991.03 395.06 L991.04 395.67 L991.04 396.28 L991.04 396.86 L991.04 397.41 L991.04 397.9" fill="none" stroke="#e01c1f" stroke-width="5" stroke-linejoin="round" stroke-linecap="round"/>
<path d="M617 244.3 L617.94 244.28 L618.87 244.26 L619.81 244.24 L620.75 244.22 L621.69 244.2 L622.62 244.18 L623.56 244.16 L624.5 244.14 L625.44 244.12 L626.37 244.1 L627.31 244.09 L628.25 244.07 L629.19 244.06 L630.12 244.04 L631.06 244.03 L632 244.02 L632.93 244 L633.87 243.99 L634.81 243.99 L635.75 243.98 L636.68 243.97 L637.62 243.97 L638.56 243.96 L639.5 243.96 L640.43 243.96 L641.37 243.97 L642.31 243.97 L643.25 243.97 L644.18 243.98 L645.12 243.99 L646.06 244 L646.99 244.02 L647.93 244.03 L648.87 244.05 L649.81 244.07 L650.74 244.1 L651.68 244.12 L652.62 244.15 L653.56 244.18 L654.49 244.21 L655.43 244.25 L656.37 244.29 L657.31 244.33 L658.24 244.38 L659.18 244.43 L660.12 244.48 L661.06 244.53 L661.99 244.59 L662.93 244.65 L663.87 244.72 L664.8 244.79 L665.74 244.86 L666.68 244.94 L667.62 245.02 L668.55 245.11 L669.49 245.2 L670.43 245.29 L671.37 245.39 L672.3 245.5 L673.24 245.61 L674.18 245.72 L675.12 245.84 L676.05 245.97 L676.99 246.1 L677.93 246.23 L678.86 246.37 L679.8 246.52 L680.74 246.67 L681.68 246.83 L682.61 247 L683.55 247.17 L684.49 247.34 L685.43 247.53 L686.36 247.71 L687.3 247.9 L688.24 248.1 L689.18 248.3 L690.11 248.51 L691.05 248.72 L691.99 248.94 L692.92 249.16 L693.86 249.39 L694.8 249.62 L695.74 249.85 L696.67 250.09 L697.61 250.33 L698.55 250.58 L699.49 250.83 L700.42 251.08 L701.36 251.34 L702.3 251.6 L703.24 251.86 L704.17 252.13 L705.11 252.4 L706.05 252.67 L706.98 252.95 L707.92 253.23 L708.86 253.52 L709.8 253.81 L710.73 254.1 L711.67 254.41 L712.61 254.71 L713.55 255.03 L714.48 255.36 L715.42 255.69 L716.36 256.03 L717.3 256.38 L718.23 256.74 L719.17 257.11 L720.11 257.5 L721.05 257.89 L721.98 258.3 L722.92 258.72 L723.86 259.15 L724.79 259.59 L725.73 260.05 L726.67 260.52 L727.61 261.01 L728.54 261.5 L729.48 262.01 L730.42 262.53 L731.36 263.07 L732.29 263.61 L733.23 264.18 L734.17 264.75 L735.11 265.34 L736.04 265.94 L736.98 266.55 L737.92 267.18 L738.85 267.82 L739.79 268.48 L740.73 269.15 L741.67 269.83 L742.6 270.53 L743.54 271.24 L744.48 271.97 L745.42 272.71 L746.35 273.46 L747.29 274.23 L748.23 275.02 L749.17 275.82 L750.1 276.63 L751.04 277.46 L751.98 278.31 L752.91 279.17 L753.85 280.04 L754.79 280.93 L755.73 281.84 L756.66 282.77 L757.6 283.71 L758.54 284.66 L759.48 285.64 L760.41 286.62 L761.35 287.63 L762.29 288.66 L763.23 289.7 L764.16 290.76 L765.1 291.83 L766.04 292.93 L766.97 294.04 L767.91 295.18 L768.85 296.33 L769.79 297.51 L770.72 298.71 L771.66 299.94 L772.6 301.2 L773.54 302.5 L774.47 303.83 L775.41 305.19 L776.35 306.59 L777.29 308.04 L778.22 309.52 L779.16 311.06 L780.1 312.63 L781.04 314.25 L781.97 315.9 L782.91 317.6 L783.85 319.34 L784.78 321.12 L785.72 322.94 L786.66 324.8 L787.6 326.69 L788.53 328.64 L789.47 330.63 L790.41 332.67 L791.35 334.77 L792.28 336.93 L793.22 339.16 L794.16 341.45 L795.1 343.82 L796.03 346.26 L796.97 348.78 L797.91 351.37 L798.84 354.04 L799.78 356.79 L800.72 359.61 L801.66 362.5 L802.59 365.4 L803.53 368.25 L804.47 370.99 L805.41 373.56 L806.34 375.91 L807.28 378.03 L808.22 379.93 L809.16 381.6 L810.09 383.06 L811.03 384.3 L811.97 385.34 L812.9 386.21 L813.84 386.92 L814.78 387.52 L815.72 388.01 L816.65 388.42 L817.59 388.78 L818.53 389.1 L819.47 389.42 L820.4 389.72 L821.34 390.01 L822.28 390.3 L823.22 390.57 L824.15 390.84 L825.09 391.09 L826.03 391.33 L826.96 391.57 L827.9 391.79 L828.84 392.01 L829.78 392.21 L830.71 392.4 L831.65 392.59 L832.59 392.76 L833.53 392.92 L834.46 393.08 L835.4 393.22 L836.34 393.36 L837.28 393.48 L838.21 393.6 L839.15 393.7 L840.09 393.8 L841.03 393.89 L841.96 393.98 L842.9 394.06 L843.84 394.13 L844.77 394.19 L845.71 394.25 L846.65 394.31 L847.59 394.35 L848.52 394.4 L849.46 394.44 L850.4 394.48 L851.34 394.51 L852.27 394.54 L853.21 394.57 L854.15 394.59 L855.09 394.62 L856.02 394.64 L856.96 394.66 L857.9 394.68 L858.83 394.7 L859.77 394.72 L860.71 394.74 L861.65 394.76 L862.58 394.79 L863.52 394.81 L864.46 394.83 L865.4 394.85 L866.33 394.87 L867.27 394.9 L868.21 394.92 L869.15 394.94 L870.08 394.96 L871.02 394.98 L871.96 395.01 L872.89 395.03 L873.83 395.05 L874.77 395.07 L875.71 395.1 L876.64 395.12 L877.58 395.14 L878.52 395.16 L879.46 395.19 L880.39 395.21 L881.33 395.23 L882.27 395.25 L883.21 395.28 L884.14 395.3 L885.08 395.32 L886.02 395.34 L886.95 395.37 L887.89 395.39 L888.83 395.41 L889.77 395.43 L890.7 395.45 L891.64 395.48 L892.58 395.5 L893.52 395.52 L894.45 395.54 L895.39 395.56 L896.33 395.58 L897.27 395.61 L898.2 395.63 L899.14 395.65 L900.08 395.67 L901.02 395.69 L901.95 395.71 L902.89 395.73 L903.83 395.75 L904.76 395.77 L905.7 395.8 L906.64 395.82 L907.58 395.84 L908.51 395.86 L909.45 395.88 L910.39 395.9 L911.33 395.92 L912.26 395.94 L913.2 395.96 L914.14 395.98 L915.08 396 L916.01 396.02 L916.95 396.04 L917.89 396.06 L918.82 396.08 L919.76 396.1 L920.7 396.12 L921.64 396.13 L922.57 396.15 L923.51 396.17 L924.45 396.19 L925.39 396.21 L926.32 396.23 L927.26 396.25 L928.2 396.27 L929.14 396.28 L930.07 396.3 L931.01 396.32 L931.95 396.34 L932.88 396.35 L933.82 396.37 L934.76 396.39 L935.7 396.41 L936.63 396.42 L937.57 396.44 L938.51 396.46 L939.45 396.48 L940.38 396.49 L941.32 396.51 L942.26 396.53 L943.2 396.54 L944.13 396.56 L945.07 396.58 L946.01 396.59 L946.94 396.61 L947.88 396.62 L948.82 396.64 L949.76 396.66 L950.69 396.67 L951.63 396.69 L952.57 396.7 L953.51 396.72 L954.44 396.73 L955.38 396.75 L956.32 396.76 L957.26 396.78 L958.19 396.8 L959.13 396.81 L960.07 396.83 L961.01 396.84 L961.94 396.86 L962.88 396.87 L963.82 396.89 L964.75 396.9 L965.69 396.92 L966.63 396.93 L967.57 396.94 L968.5 396.96 L969.44 396.97 L970.38 396.99 L971.32 397 L972.25 397.02 L973.19 397.03 L974.13 397.05 L975.07 397.06 L976 397.07 L976.94 397.09 L977.88 397.1 L978.81 397.12 L979.75 397.13 L980.69 397.15 L981.63 397.16 L982.56 397.17 L983.5 397.19 L984.44 397.2 L985.38 397.22 L986.31 397.23 L987.25 397.24 L988.19 397.26 L989.13 397.27 L990.06 397.29 L991 397.3" fill="none" stroke="#367ab2" stroke-width="5" stroke-linejoin="round" stroke-linecap="round"/>
<path d="M615.81 880.61 L617.19 880.61 L618.56 880.61 L619.93 880.61 L621.3 880.61 L622.67 880.61 L624.03 880.61 L625.39 880.61 L626.75 880.61 L628.1 880.61 L629.46 880.61 L630.8 880.61 L632.15 880.61 L633.49 880.61 L634.84 880.61 L636.17 880.61 L637.51 880.61 L638.84 880.61 L640.17 880.61 L641.5 880.61 L642.82 880.62 L644.15 880.62 L645.46 880.62 L646.78 880.62 L648.09 880.63 L649.41 880.63 L650.71 880.63 L652.02 880.64 L653.32 880.64 L654.62 880.65 L655.92 880.66 L657.21 880.66 L658.5 880.67 L659.79 880.68 L661.08 880.69 L662.36 880.7 L663.64 880.71 L664.92 880.73 L666.2 880.74 L667.47 880.76 L668.74 880.77 L670.01 880.79 L671.27 880.81 L672.53 880.83 L673.79 880.85 L675.05 880.87 L676.3 880.9 L677.55 880.92 L678.8 880.95 L680.04 880.98 L681.29 881.01 L682.53 881.04 L683.76 881.08 L685 881.11 L686.23 881.15 L687.46 881.19 L688.69 881.23 L689.91 881.27 L691.13 881.31 L692.35 881.36 L693.56 881.41 L694.78 881.46 L695.99 881.51 L697.2 881.56 L698.4 881.62 L699.6 881.68 L700.8 881.74 L702 881.8 L703.19 881.86 L704.38 881.93 L705.57 882 L706.76 882.07 L707.94 882.14 L709.12 882.21 L710.3 882.29 L711.47 882.37 L712.65 882.45 L713.82 882.53 L714.98 882.62 L716.15 882.71 L717.31 882.8 L718.47 882.89 L719.62 882.99 L720.78 883.08 L721.93 883.18 L723.08 883.29 L724.22 883.39 L725.37 883.5 L726.51 883.61 L727.64 883.72 L728.78 883.84 L729.91 883.95 L731.04 884.07 L732.17 884.19 L733.29 884.32 L734.41 884.44 L735.53 884.57 L736.65 884.71 L737.76 884.84 L738.87 884.98 L739.98 885.12 L741.09 885.26 L742.19 885.4 L743.29 885.55 L744.39 885.7 L745.48 885.85 L746.57 886.01 L747.66 886.17 L748.75 886.33 L749.84 886.49 L750.92 886.65 L752 886.82 L753.07 886.99 L754.15 887.17 L755.22 887.34 L756.29 887.52 L757.35 887.7 L758.41 887.89 L759.47 888.07 L760.53 888.26 L761.59 888.45 L762.64 888.65 L763.69 888.84 L764.74 889.04 L765.78 889.25 L766.82 889.45 L767.86 889.66 L768.9 889.87 L769.93 890.08 L770.97 890.3 L771.99 890.52 L773.02 890.74 L774.04 890.96 L775.07 891.19 L776.08 891.42 L777.1 891.65 L778.11 891.88 L779.12 892.12 L780.13 892.36 L781.14 892.6 L782.14 892.85 L783.14 893.09 L784.14 893.35 L785.13 893.6 L786.12 893.85 L787.11 894.11 L788.1 894.37 L789.08 894.64 L790.07 894.9 L791.04 895.17 L792.02 895.44 L792.99 895.72 L793.97 896 L794.93 896.28 L795.9 896.56 L796.86 896.84 L797.82 897.13 L798.78 897.42 L799.74 897.71 L800.69 898.01 L801.64 898.31 L802.59 898.61 L803.54 898.91 L804.48 899.22 L805.42 899.53 L806.36 899.84 L807.29 900.15 L808.22 900.47 L809.15 900.79 L810.08 901.11 L811 901.43 L811.93 901.76 L812.85 902.09 L813.76 902.42 L814.68 902.76 L815.59 903.1 L816.5 903.44 L817.4 903.78 L818.31 904.12 L819.21 904.47 L820.11 904.82 L821 905.18 L821.9 905.53 L822.79 905.89 L823.68 906.25 L824.56 906.61 L825.45 906.98 L826.33 907.35 L827.21 907.72 L828.08 908.09 L828.95 908.47 L829.83 908.85 L830.69 909.23 L831.56 909.61 L832.42 910 L833.28 910.39 L834.14 910.78 L835 911.17 L835.85 911.57 L836.7 911.97 L837.55 912.37 L838.39 912.77 L839.23 913.18 L840.07 913.59 L840.91 914 L841.75 914.41 L842.58 914.83 L843.41 915.25 L844.24 915.67 L845.06 916.09 L845.88 916.52 L846.7 916.94 L847.52 917.37 L848.33 917.81 L849.15 918.24 L849.96 918.68 L850.76 919.12 L851.57 919.56 L852.37 920.01 L853.17 920.46 L853.97 920.91 L854.76 921.36 L855.55 921.82 L856.34 922.27 L857.13 922.73 L857.91 923.19 L858.69 923.66 L859.47 924.12 L860.25 924.59 L861.02 925.07 L861.8 925.54 L862.57 926.01 L863.33 926.49 L864.1 926.97 L864.86 927.46 L865.62 927.94 L866.38 928.43 L867.13 928.92 L867.88 929.41 L868.63 929.91 L869.38 930.4 L870.12 930.9 L870.86 931.4 L871.6 931.91 L872.34 932.41 L873.07 932.92 L873.81 933.43 L874.54 933.94 L875.26 934.46 L875.99 934.97 L876.71 935.49 L877.43 936.01 L878.15 936.54 L878.86 937.06 L879.57 937.59 L880.28 938.12 L880.99 938.65 L881.69 939.19 L882.4 939.72 L883.1 940.26 L883.79 940.8 L884.49 941.35 L885.18 941.89 L885.87 942.44 L886.56 942.99 L887.24 943.54 L887.92 944.09 L888.6 944.65 L889.28 945.21 L889.96 945.77 L890.63 946.33 L891.3 946.89 L891.97 947.46 L892.63 948.03 L893.3 948.6 L893.96 949.17 L894.61 949.74 L895.27 950.32 L895.92 950.9 L896.57 951.48 L897.22 952.06 L897.87 952.64 L898.51 953.23 L899.15 953.82 L899.79 954.41 L900.43 955 L901.06 955.59 L901.69 956.19 L902.32 956.79 L902.95 957.39 L903.57 957.99 L904.19 958.59 L904.81 959.2 L905.43 959.81 L906.04 960.41 L906.65 961.03 L907.26 961.64 L907.87 962.25 L908.48 962.87 L909.08 963.49 L909.68 964.11 L910.28 964.73 L910.87 965.36 L911.46 965.98 L912.05 966.61 L912.64 967.24 L913.23 967.87 L913.81 968.51 L914.39 969.14 L914.97 969.78 L915.55 970.42 L916.12 971.06 L916.69 971.7 L917.26 972.34 L917.82 972.99 L918.39 973.64 L918.95 974.29 L919.51 974.94 L920.07 975.59 L920.62 976.24 L921.17 976.9 L921.72 977.56 L922.27 978.22 L922.82 978.88 L923.36 979.54 L923.9 980.21 L924.44 980.87 L924.97 981.54 L925.51 982.21 L926.04 982.88 L926.56 983.55 L927.09 984.23 L927.61 984.9 L928.14 985.58 L928.66 986.26 L929.17 986.94 L929.69 987.62 L930.2 988.3 L930.71 988.99 L931.22 989.67 L931.72 990.36 L932.22 991.05 L932.72 991.74 L933.22 992.44 L933.72 993.13 L934.21 993.83 L934.7 994.52 L935.19 995.22 L935.68 995.92 L936.16 996.62 L936.64 997.33 L937.12 998.03 L937.6 998.74 L938.07 999.44 L938.55 1000.15 L939.02 1000.86 L939.49 1001.57 L939.95 1002.28 L940.41 1003 L940.88 1003.71 L941.33 1004.43 L941.79 1005.15 L942.24 1005.87 L942.7 1006.59 L943.15 1007.31 L943.59 1008.03 L944.04 1008.76 L944.48 1009.48 L944.92 1010.21 L945.36 1010.94 L945.8 1011.67 L946.23 1012.4 L946.66 1013.13 L947.09 1013.87 L947.52 1014.6 L947.94 1015.34 L948.36 1016.07 L948.78 1016.81 L949.2 1017.55 L949.62 1018.29 L950.03 1019.03 L950.44 1019.78 L950.85 1020.52 L951.25 1021.27 L951.66 1022.01 L952.06 1022.76 L952.46 1023.51 L952.86 1024.26 L953.25 1025.01 L953.65 1025.76 L954.04 1026.51 L954.42 1027.27 L954.81 1028.02 L955.19 1028.78 L955.58 1029.53 L955.96 1030.29 L956.33 1031.05 L956.71 1031.81 L957.08 1032.57 L957.45 1033.33 L957.82 1034.1 L958.19 1034.86 L958.55 1035.63 L958.91 1036.39 L959.27 1037.16 L959.63 1037.93 L959.98 1038.7 L960.34 1039.46 L960.69 1040.23 L961.04 1041.01 L961.38 1041.78 L961.73 1042.55 L962.07 1043.32 L962.41 1044.1 L962.75 1044.87 L963.08 1045.65 L963.41 1046.43 L963.75 1047.21 L964.07 1047.98 L964.4 1048.76 L964.73 1049.54 L965.05 1050.33 L965.37 1051.11 L965.69 1051.89 L966 1052.67 L966.32 1053.46 L966.63 1054.24 L966.94 1055.03 L967.24 1055.81 L967.55 1056.6 L967.85 1057.39 L968.15 1058.17 L968.45 1058.96 L968.75 1059.75 L969.04 1060.54 L969.34 1061.33 L969.63 1062.12 L969.91 1062.91 L970.2 1063.71 L970.48 1064.5 L970.76 1065.29 L971.04 1066.09 L971.32 1066.88 L971.6 1067.68 L971.87 1068.47 L972.14 1069.27 L972.41 1070.06 L972.68 1070.86 L972.94 1071.66 L973.2 1072.46 L973.46 1073.25 L973.72 1074.05 L973.98 1074.85 L974.23 1075.65 L974.49 1076.45 L974.74 1077.25 L974.98 1078.05 L975.23 1078.85 L975.47 1079.65 L975.72 1080.46 L975.96 1081.26 L976.19 1082.06 L976.43 1082.86 L976.66 1083.66 L976.9 1084.47 L977.12 1085.27 L977.35 1086.08 L977.58 1086.88 L977.8 1087.68 L978.02 1088.49 L978.24 1089.29 L978.46 1090.1 L978.67 1090.9 L978.89 1091.71 L979.1 1092.51 L979.31 1093.32 L979.52 1094.12 L979.72 1094.93 L979.92 1095.73 L980.12 1096.54 L980.32 1097.35 L980.52 1098.15 L980.72 1098.96 L980.91 1099.76 L981.1 1100.57 L981.29 1101.38 L981.48 1102.18 L981.66 1102.99 L981.85 1103.8 L982.03 1104.6 L982.21 1105.41 L982.38 1106.21 L982.56 1107.02 L982.73 1107.82 L982.9 1108.63 L983.07 1109.44 L983.24 1110.24 L983.41 1111.05 L983.57 1111.85 L983.73 1112.66 L983.89 1113.46 L984.05 1114.27 L984.21 1115.07 L984.36 1115.87 L984.51 1116.68 L984.66 1117.48 L984.81 1118.28 L984.96 1119.09 L985.1 1119.89 L985.24 1120.69 L985.39 1121.49 L985.52 1122.3 L985.66 1123.1 L985.8 1123.9 L985.93 1124.7 L986.06 1125.5 L986.19 1126.3 L986.32 1127.1 L986.44 1127.9 L986.57 1128.69 L986.69 1129.49 L986.81 1130.29 L986.93 1131.08 L987.05 1131.88 L987.16 1132.68 L987.27 1133.47 L987.38 1134.26 L987.49 1135.06 L987.6 1135.85 L987.71 1136.64 L987.81 1137.43 L987.91 1138.22 L988.01 1139.01 L988.11 1139.8 L988.21 1140.59 L988.3 1141.38 L988.4 1142.16 L988.49 1142.95 L988.58 1143.73 L988.67 1144.52 L988.75 1145.3 L988.84 1146.08 L988.92 1146.86 L989 1147.64 L989.08 1148.42 L989.16 1149.2 L989.23 1149.98 L989.31 1150.75 L989.38 1151.53 L989.45 1152.3 L989.52 1153.07 L989.59 1153.84 L989.65 1154.61 L989.72 1155.38 L989.78 1156.14 L989.84 1156.91 L989.9 1157.67 L989.96 1158.44 L990.01 1159.2 L990.07 1159.95 L990.12 1160.71 L990.17 1161.47 L990.22 1162.22 L990.27 1162.97 L990.32 1163.72 L990.36 1164.47 L990.41 1165.22 L990.45 1165.96 L990.49 1166.7 L990.53 1167.44 L990.56 1168.18 L990.6 1168.92 L990.63 1169.65 L990.67 1170.38 L990.7 1171.11 L990.73 1171.83 L990.75 1172.56 L990.78 1173.28 L990.81 1173.99 L990.83 1174.71 L990.85 1175.42 L990.87 1176.12 L990.89 1176.83 L990.91 1177.52 L990.93 1178.22 L990.95 1178.91 L990.96 1179.6 L990.97 1180.28 L990.99 1180.95 L991 1181.62 L991.01 1182.28 L991.01 1182.94 L991.02 1183.59 L991.03 1184.23 L991.03 1184.86 L991.04 1185.47 L991.04 1186.08 L991.04 1186.66 L991.04 1187.21 L991.04 1187.7" fill="none" stroke="#e01c1f" stroke-width="5" stroke-linejoin="round" stroke-linecap="round"/>
<path d="M617 1070.2 L617.94 1070.21 L618.87 1070.22 L619.81 1070.23 L620.75 1070.24 L621.69 1070.24 L622.62 1070.25 L623.56 1070.26 L624.5 1070.27 L625.44 1070.28 L626.37 1070.29 L627.31 1070.3 L628.25 1070.31 L629.19 1070.33 L630.12 1070.34 L631.06 1070.35 L632 1070.36 L632.93 1070.38 L633.87 1070.39 L634.81 1070.4 L635.75 1070.42 L636.68 1070.43 L637.62 1070.45 L638.56 1070.47 L639.5 1070.49 L640.43 1070.5 L641.37 1070.52 L642.31 1070.54 L643.25 1070.56 L644.18 1070.59 L645.12 1070.61 L646.06 1070.63 L646.99 1070.66 L647.93 1070.68 L648.87 1070.71 L649.81 1070.74 L650.74 1070.77 L651.68 1070.8 L652.62 1070.83 L653.56 1070.87 L654.49 1070.91 L655.43 1070.95 L656.37 1071 L657.31 1071.05 L658.24 1071.1 L659.18 1071.16 L660.12 1071.23 L661.06 1071.3 L661.99 1071.37 L662.93 1071.45 L663.87 1071.54 L664.8 1071.64 L665.74 1071.74 L666.68 1071.85 L667.62 1071.96 L668.55 1072.09 L669.49 1072.22 L670.43 1072.36 L671.37 1072.51 L672.3 1072.67 L673.24 1072.84 L674.18 1073.02 L675.12 1073.21 L676.05 1073.4 L676.99 1073.61 L677.93 1073.83 L678.86 1074.05 L679.8 1074.29 L680.74 1074.54 L681.68 1074.8 L682.61 1075.07 L683.55 1075.35 L684.49 1075.64 L685.43 1075.94 L686.36 1076.25 L687.3 1076.58 L688.24 1076.92 L689.18 1077.27 L690.11 1077.63 L691.05 1078 L691.99 1078.39 L692.92 1078.79 L693.86 1079.2 L694.8 1079.63 L695.74 1080.07 L696.67 1080.53 L697.61 1081 L698.55 1081.48 L699.49 1081.98 L700.42 1082.49 L701.36 1083.02 L702.3 1083.57 L703.24 1084.13 L704.17 1084.71 L705.11 1085.31 L706.05 1085.92 L706.98 1086.55 L707.92 1087.19 L708.86 1087.86 L709.8 1088.54 L710.73 1089.23 L711.67 1089.94 L712.61 1090.67 L713.55 1091.42 L714.48 1092.18 L715.42 1092.96 L716.36 1093.75 L717.3 1094.56 L718.23 1095.39 L719.17 1096.23 L720.11 1097.08 L721.05 1097.96 L721.98 1098.84 L722.92 1099.75 L723.86 1100.67 L724.79 1101.62 L725.73 1102.58 L726.67 1103.58 L727.61 1104.59 L728.54 1105.64 L729.48 1106.72 L730.42 1107.82 L731.36 1108.97 L732.29 1110.14 L733.23 1111.36 L734.17 1112.61 L735.11 1113.91 L736.04 1115.25 L736.98 1116.64 L737.92 1118.09 L738.85 1119.59 L739.79 1121.16 L740.73 1122.78 L741.67 1124.48 L742.6 1126.26 L743.54 1128.11 L744.48 1130.04 L745.42 1132.05 L746.35 1134.12 L747.29 1136.24 L748.23 1138.41 L749.17 1140.59 L750.1 1142.79 L751.04 1144.99 L751.98 1147.18 L752.91 1149.35 L753.85 1151.49 L754.79 1153.58 L755.73 1155.62 L756.66 1157.6 L757.6 1159.51 L758.54 1161.34 L759.48 1163.08 L760.41 1164.74 L761.35 1166.31 L762.29 1167.77 L763.23 1169.13 L764.16 1170.38 L765.1 1171.53 L766.04 1172.58 L766.97 1173.53 L767.91 1174.4 L768.85 1175.19 L769.79 1175.89 L770.72 1176.53 L771.66 1177.11 L772.6 1177.62 L773.54 1178.08 L774.47 1178.48 L775.41 1178.83 L776.35 1179.14 L777.29 1179.41 L778.22 1179.64 L779.16 1179.84 L780.1 1180.01 L781.04 1180.16 L781.97 1180.29 L782.91 1180.4 L783.85 1180.5 L784.78 1180.59 L785.72 1180.68 L786.66 1180.78 L787.6 1180.87 L788.53 1180.96 L789.47 1181.06 L790.41 1181.16 L791.35 1181.26 L792.28 1181.36 L793.22 1181.46 L794.16 1181.56 L795.1 1181.67 L796.03 1181.77 L796.97 1181.87 L797.91 1181.97 L798.84 1182.08 L799.78 1182.18 L800.72 1182.28 L801.66 1182.38 L802.59 1182.48 L803.53 1182.57 L804.47 1182.67 L805.41 1182.76 L806.34 1182.85 L807.28 1182.94 L808.22 1183.02 L809.16 1183.1 L810.09 1183.18 L811.03 1183.26 L811.97 1183.33 L812.9 1183.4 L813.84 1183.46 L814.78 1183.53 L815.72 1183.59 L816.65 1183.64 L817.59 1183.7 L818.53 1183.75 L819.47 1183.8 L820.4 1183.85 L821.34 1183.89 L822.28 1183.93 L823.22 1183.97 L824.15 1184.01 L825.09 1184.05 L826.03 1184.08 L826.96 1184.11 L827.9 1184.15 L828.84 1184.18 L829.78 1184.2 L830.71 1184.23 L831.65 1184.26 L832.59 1184.28 L833.53 1184.3 L834.46 1184.33 L835.4 1184.35 L836.34 1184.37 L837.28 1184.39 L838.21 1184.41 L839.15 1184.43 L840.09 1184.45 L841.03 1184.47 L841.96 1184.49 L842.9 1184.51 L843.84 1184.53 L844.77 1184.54 L845.71 1184.56 L846.65 1184.58 L847.59 1184.6 L848.52 1184.62 L849.46 1184.64 L850.4 1184.66 L851.34 1184.68 L852.27 1184.7 L853.21 1184.72 L854.15 1184.74 L855.09 1184.76 L856.02 1184.78 L856.96 1184.8 L857.9 1184.82 L858.83 1184.84 L859.77 1184.86 L860.71 1184.88 L861.65 1184.9 L862.58 1184.92 L863.52 1184.94 L864.46 1184.96 L865.4 1184.98 L866.33 1185 L867.27 1185.02 L868.21 1185.04 L869.15 1185.06 L870.08 1185.08 L871.02 1185.1 L871.96 1185.12 L872.89 1185.14 L873.83 1185.16 L874.77 1185.19 L875.71 1185.21 L876.64 1185.23 L877.58 1185.25 L878.52 1185.27 L879.46 1185.29 L880.39 1185.31 L881.33 1185.33 L882.27 1185.35 L883.21 1185.37 L884.14 1185.39 L885.08 1185.41 L886.02 1185.43 L886.95 1185.45 L887.89 1185.47 L888.83 1185.49 L889.77 1185.51 L890.7 1185.53 L891.64 1185.55 L892.58 1185.57 L893.52 1185.59 L894.45 1185.61 L895.39 1185.63 L896.33 1185.65 L897.27 1185.67 L898.2 1185.69 L899.14 1185.71 L900.08 1185.73 L901.02 1185.75 L901.95 1185.77 L902.89 1185.79 L903.83 1185.81 L904.76 1185.83 L905.7 1185.85 L906.64 1185.87 L907.58 1185.89 L908.51 1185.91 L909.45 1185.93 L910.39 1185.94 L911.33 1185.96 L912.26 1185.98 L913.2 1186 L914.14 1186.02 L915.08 1186.04 L916.01 1186.05 L916.95 1186.07 L917.89 1186.09 L918.82 1186.11 L919.76 1186.12 L920.7 1186.14 L921.64 1186.16 L922.57 1186.17 L923.51 1186.19 L924.45 1186.21 L925.39 1186.22 L926.32 1186.24 L927.26 1186.25 L928.2 1186.27 L929.14 1186.29 L930.07 1186.3 L931.01 1186.32 L931.95 1186.33 L932.88 1186.35 L933.82 1186.36 L934.76 1186.37 L935.7 1186.39 L936.63 1186.4 L937.57 1186.42 L938.51 1186.43 L939.45 1186.44 L940.38 1186.46 L941.32 1186.47 L942.26 1186.48 L943.2 1186.49 L944.13 1186.51 L945.07 1186.52 L946.01 1186.53 L946.94 1186.54 L947.88 1186.56 L948.82 1186.57 L949.76 1186.58 L950.69 1186.59 L951.63 1186.6 L952.57 1186.61 L953.51 1186.62 L954.44 1186.64 L955.38 1186.65 L956.32 1186.66 L957.26 1186.67 L958.19 1186.68 L959.13 1186.69 L960.07 1186.7 L961.01 1186.71 L961.94 1186.72 L962.88 1186.73 L963.82 1186.74 L964.75 1186.75 L965.69 1186.76 L966.63 1186.77 L967.57 1186.78 L968.5 1186.79 L969.44 1186.8 L970.38 1186.81 L971.32 1186.82 L972.25 1186.82 L973.19 1186.83 L974.13 1186.84 L975.07 1186.85 L976 1186.86 L976.94 1186.87 L977.88 1186.88 L978.81 1186.89 L979.75 1186.9 L980.69 1186.91 L981.63 1186.91 L982.56 1186.92 L983.5 1186.93 L984.44 1186.94 L985.38 1186.95 L986.31 1186.96 L987.25 1186.97 L988.19 1186.97 L989.13 1186.98 L990.06 1186.99 L991 1187" fill="none" stroke="#367ab2" stroke-width="5" stroke-linejoin="round" stroke-linecap="round"/>
<path d="M655.47 1679.97 L656.61 1679.97 L657.74 1679.97 L658.87 1679.97 L660 1679.97 L661.13 1679.97 L662.25 1679.97 L663.38 1679.97 L664.5 1679.97 L665.61 1679.97 L666.73 1679.97 L667.84 1679.97 L668.95 1679.97 L670.06 1679.97 L671.17 1679.97 L672.27 1679.97 L673.37 1679.97 L674.47 1679.98 L675.57 1679.98 L676.67 1679.98 L677.76 1679.98 L678.85 1679.98 L679.94 1679.98 L681.02 1679.98 L682.11 1679.98 L683.19 1679.98 L684.27 1679.98 L685.34 1679.98 L686.42 1679.99 L687.49 1679.99 L688.56 1679.99 L689.63 1679.99 L690.7 1680 L691.76 1680 L692.82 1680.01 L693.88 1680.01 L694.94 1680.02 L695.99 1680.02 L697.04 1680.03 L698.09 1680.04 L699.14 1680.05 L700.18 1680.06 L701.23 1680.07 L702.27 1680.08 L703.31 1680.09 L704.34 1680.1 L705.38 1680.11 L706.41 1680.13 L707.44 1680.14 L708.47 1680.16 L709.49 1680.18 L710.52 1680.19 L711.54 1680.21 L712.55 1680.24 L713.57 1680.26 L714.58 1680.28 L715.6 1680.3 L716.61 1680.33 L717.61 1680.36 L718.62 1680.39 L719.62 1680.42 L720.62 1680.45 L721.62 1680.48 L722.62 1680.51 L723.61 1680.55 L724.6 1680.59 L725.59 1680.63 L726.58 1680.67 L727.56 1680.71 L728.55 1680.75 L729.53 1680.8 L730.51 1680.84 L731.48 1680.89 L732.46 1680.94 L733.43 1681 L734.4 1681.05 L735.36 1681.11 L736.33 1681.16 L737.29 1681.22 L738.25 1681.28 L739.21 1681.35 L740.17 1681.41 L741.12 1681.48 L742.07 1681.55 L743.02 1681.62 L743.97 1681.69 L744.91 1681.77 L745.86 1681.85 L746.8 1681.93 L747.74 1682.01 L748.67 1682.09 L749.61 1682.18 L750.54 1682.26 L751.47 1682.35 L752.4 1682.45 L753.32 1682.54 L754.24 1682.64 L755.17 1682.74 L756.08 1682.84 L757 1682.94 L757.92 1683.05 L758.83 1683.15 L759.74 1683.26 L760.64 1683.38 L761.55 1683.49 L762.45 1683.61 L763.35 1683.73 L764.25 1683.85 L765.15 1683.97 L766.05 1684.1 L766.94 1684.23 L767.83 1684.36 L768.72 1684.49 L769.6 1684.63 L770.49 1684.77 L771.37 1684.91 L772.25 1685.05 L773.12 1685.19 L774 1685.34 L774.87 1685.49 L775.74 1685.65 L776.61 1685.8 L777.48 1685.96 L778.34 1686.12 L779.2 1686.28 L780.06 1686.45 L780.92 1686.61 L781.77 1686.79 L782.63 1686.96 L783.48 1687.13 L784.33 1687.31 L785.17 1687.49 L786.02 1687.67 L786.86 1687.86 L787.7 1688.05 L788.54 1688.24 L789.37 1688.43 L790.21 1688.63 L791.04 1688.82 L791.87 1689.02 L792.7 1689.23 L793.52 1689.43 L794.34 1689.64 L795.16 1689.85 L795.98 1690.07 L796.8 1690.28 L797.61 1690.5 L798.43 1690.72 L799.24 1690.95 L800.04 1691.17 L800.85 1691.4 L801.65 1691.63 L802.45 1691.87 L803.25 1692.1 L804.05 1692.34 L804.84 1692.58 L805.64 1692.83 L806.43 1693.08 L807.22 1693.33 L808 1693.58 L808.79 1693.83 L809.57 1694.09 L810.35 1694.35 L811.13 1694.61 L811.9 1694.88 L812.68 1695.14 L813.45 1695.42 L814.22 1695.69 L814.98 1695.96 L815.75 1696.24 L816.51 1696.52 L817.27 1696.81 L818.03 1697.09 L818.79 1697.38 L819.54 1697.67 L820.29 1697.96 L821.04 1698.26 L821.79 1698.56 L822.54 1698.86 L823.28 1699.16 L824.02 1699.47 L824.76 1699.78 L825.5 1700.09 L826.23 1700.41 L826.97 1700.72 L827.7 1701.04 L828.43 1701.36 L829.15 1701.69 L829.88 1702.01 L830.6 1702.34 L831.32 1702.68 L832.04 1703.01 L832.75 1703.35 L833.47 1703.69 L834.18 1704.03 L834.89 1704.37 L835.6 1704.72 L836.3 1705.07 L837.01 1705.42 L837.71 1705.78 L838.41 1706.14 L839.1 1706.49 L839.8 1706.86 L840.49 1707.22 L841.18 1707.59 L841.87 1707.96 L842.56 1708.33 L843.24 1708.71 L843.93 1709.08 L844.61 1709.46 L845.29 1709.84 L845.96 1710.23 L846.64 1710.62 L847.31 1711 L847.98 1711.4 L848.65 1711.79 L849.31 1712.19 L849.98 1712.59 L850.64 1712.99 L851.3 1713.39 L851.95 1713.8 L852.61 1714.21 L853.26 1714.62 L853.91 1715.03 L854.56 1715.45 L855.21 1715.87 L855.86 1716.29 L856.5 1716.71 L857.14 1717.13 L857.78 1717.56 L858.41 1717.99 L859.05 1718.42 L859.68 1718.86 L860.31 1719.3 L860.94 1719.74 L861.57 1720.18 L862.19 1720.62 L862.81 1721.07 L863.43 1721.52 L864.05 1721.97 L864.67 1722.42 L865.28 1722.88 L865.9 1723.33 L866.51 1723.79 L867.11 1724.26 L867.72 1724.72 L868.32 1725.19 L868.92 1725.66 L869.52 1726.13 L870.12 1726.6 L870.72 1727.08 L871.31 1727.55 L871.9 1728.03 L872.49 1728.52 L873.08 1729 L873.67 1729.49 L874.25 1729.98 L874.83 1730.47 L875.41 1730.96 L875.99 1731.46 L876.56 1731.95 L877.13 1732.45 L877.71 1732.95 L878.28 1733.46 L878.84 1733.96 L879.41 1734.47 L879.97 1734.98 L880.53 1735.49 L881.09 1736.01 L881.65 1736.52 L882.2 1737.04 L882.76 1737.56 L883.31 1738.08 L883.86 1738.61 L884.4 1739.13 L884.95 1739.66 L885.49 1740.19 L886.03 1740.73 L886.57 1741.26 L887.11 1741.8 L887.64 1742.33 L888.17 1742.87 L888.7 1743.42 L889.23 1743.96 L889.76 1744.51 L890.29 1745.06 L890.81 1745.6 L891.33 1746.16 L891.85 1746.71 L892.36 1747.27 L892.88 1747.82 L893.39 1748.38 L893.9 1748.94 L894.41 1749.51 L894.92 1750.07 L895.42 1750.64 L895.93 1751.21 L896.43 1751.78 L896.93 1752.35 L897.42 1752.92 L897.92 1753.5 L898.41 1754.08 L898.9 1754.66 L899.39 1755.24 L899.88 1755.82 L900.36 1756.4 L900.85 1756.99 L901.33 1757.58 L901.81 1758.17 L902.28 1758.76 L902.76 1759.35 L903.23 1759.95 L903.7 1760.54 L904.17 1761.14 L904.64 1761.74 L905.1 1762.34 L905.57 1762.95 L906.03 1763.55 L906.49 1764.16 L906.95 1764.76 L907.4 1765.37 L907.85 1765.98 L908.31 1766.6 L908.76 1767.21 L909.2 1767.83 L909.65 1768.44 L910.09 1769.06 L910.54 1769.68 L910.98 1770.3 L911.41 1770.93 L911.85 1771.55 L912.28 1772.18 L912.72 1772.81 L913.15 1773.44 L913.57 1774.07 L914 1774.7 L914.42 1775.33 L914.85 1775.97 L915.27 1776.6 L915.69 1777.24 L916.1 1777.88 L916.52 1778.52 L916.93 1779.16 L917.34 1779.8 L917.75 1780.45 L918.16 1781.09 L918.56 1781.74 L918.97 1782.39 L919.37 1783.04 L919.77 1783.69 L920.16 1784.34 L920.56 1785 L920.95 1785.65 L921.35 1786.31 L921.73 1786.96 L922.12 1787.62 L922.51 1788.28 L922.89 1788.94 L923.28 1789.6 L923.66 1790.27 L924.03 1790.93 L924.41 1791.6 L924.79 1792.26 L925.16 1792.93 L925.53 1793.6 L925.9 1794.27 L926.27 1794.94 L926.63 1795.61 L926.99 1796.29 L927.36 1796.96 L927.71 1797.64 L928.07 1798.31 L928.43 1798.99 L928.78 1799.67 L929.13 1800.35 L929.48 1801.03 L929.83 1801.71 L930.18 1802.39 L930.52 1803.08 L930.87 1803.76 L931.21 1804.44 L931.55 1805.13 L931.88 1805.82 L932.22 1806.51 L932.55 1807.19 L932.88 1807.88 L933.21 1808.57 L933.54 1809.27 L933.87 1809.96 L934.19 1810.65 L934.51 1811.35 L934.83 1812.04 L935.15 1812.74 L935.47 1813.43 L935.78 1814.13 L936.1 1814.83 L936.41 1815.53 L936.72 1816.23 L937.03 1816.93 L937.33 1817.63 L937.64 1818.33 L937.94 1819.03 L938.24 1819.73 L938.54 1820.44 L938.83 1821.14 L939.13 1821.85 L939.42 1822.55 L939.71 1823.26 L940 1823.96 L940.29 1824.67 L940.57 1825.38 L940.86 1826.09 L941.14 1826.8 L941.42 1827.51 L941.7 1828.22 L941.98 1828.93 L942.25 1829.64 L942.52 1830.35 L942.8 1831.06 L943.07 1831.78 L943.33 1832.49 L943.6 1833.2 L943.86 1833.92 L944.13 1834.63 L944.39 1835.35 L944.64 1836.06 L944.9 1836.78 L945.16 1837.49 L945.41 1838.21 L945.66 1838.93 L945.91 1839.64 L946.16 1840.36 L946.41 1841.08 L946.65 1841.8 L946.89 1842.51 L947.14 1843.23 L947.37 1843.95 L947.61 1844.67 L947.85 1845.39 L948.08 1846.11 L948.31 1846.83 L948.55 1847.55 L948.77 1848.27 L949 1848.99 L949.23 1849.71 L949.45 1850.43 L949.67 1851.15 L949.89 1851.88 L950.11 1852.6 L950.33 1853.32 L950.54 1854.04 L950.76 1854.76 L950.97 1855.48 L951.18 1856.2 L951.39 1856.93 L951.59 1857.65 L951.8 1858.37 L952 1859.09 L952.2 1859.81 L952.4 1860.53 L952.6 1861.26 L952.79 1861.98 L952.99 1862.7 L953.18 1863.42 L953.37 1864.14 L953.56 1864.86 L953.75 1865.58 L953.94 1866.3 L954.12 1867.02 L954.3 1867.75 L954.48 1868.47 L954.66 1869.19 L954.84 1869.91 L955.02 1870.63 L955.19 1871.35 L955.36 1872.07 L955.53 1872.78 L955.7 1873.5 L955.87 1874.22 L956.04 1874.94 L956.2 1875.66 L956.36 1876.38 L956.52 1877.09 L956.68 1877.81 L956.84 1878.53 L957 1879.24 L957.15 1879.96 L957.31 1880.67 L957.46 1881.39 L957.61 1882.1 L957.75 1882.82 L957.9 1883.53 L958.05 1884.24 L958.19 1884.96 L958.33 1885.67 L958.47 1886.38 L958.61 1887.09 L958.74 1887.8 L958.88 1888.51 L959.01 1889.22 L959.15 1889.93 L959.28 1890.64 L959.4 1891.34 L959.53 1892.05 L959.66 1892.76 L959.78 1893.46 L959.9 1894.17 L960.02 1894.87 L960.14 1895.57 L960.26 1896.28 L960.38 1896.98 L960.49 1897.68 L960.61 1898.38 L960.72 1899.08 L960.83 1899.77 L960.93 1900.47 L961.04 1901.17 L961.15 1901.86 L961.25 1902.56 L961.35 1903.25 L961.45 1903.94 L961.55 1904.64 L961.65 1905.33 L961.75 1906.02 L961.84 1906.7 L961.94 1907.39 L962.03 1908.08 L962.12 1908.76 L962.21 1909.45 L962.29 1910.13 L962.38 1910.81 L962.46 1911.49 L962.55 1912.17 L962.63 1912.85 L962.71 1913.52 L962.79 1914.2 L962.86 1914.87 L962.94 1915.55 L963.01 1916.22 L963.08 1916.89 L963.16 1917.56 L963.23 1918.22 L963.29 1918.89 L963.36 1919.55 L963.43 1920.21 L963.49 1920.87 L963.55 1921.53 L963.61 1922.19 L963.67 1922.84 L963.73 1923.5 L963.79 1924.15 L963.84 1924.8 L963.9 1925.45 L963.95 1926.09 L964 1926.74 L964.05 1927.38 L964.1 1928.02 L964.15 1928.66 L964.2 1929.3 L964.24 1929.93 L964.28 1930.56 L964.33 1931.19 L964.37 1931.82 L964.41 1932.44 L964.45 1933.06 L964.48 1933.68 L964.52 1934.3 L964.55 1934.91 L964.59 1935.52 L964.62 1936.13 L964.65 1936.74 L964.68 1937.34 L964.71 1937.94 L964.73 1938.54 L964.76 1939.13 L964.78 1939.72 L964.81 1940.3 L964.83 1940.89 L964.85 1941.46 L964.87 1942.04 L964.89 1942.61 L964.91 1943.17 L964.92 1943.73 L964.94 1944.29 L964.95 1944.84 L964.97 1945.39 L964.98 1945.93 L964.99 1946.46 L965 1946.99 L965.01 1947.51 L965.01 1948.02 L965.02 1948.52 L965.03 1949.02 L965.03 1949.5 L965.04 1949.97 L965.04 1950.43 L965.04 1950.87 L965.04 1951.29 L965.04 1951.68 L965.04 1952" fill="none" stroke="#e01c1f" stroke-width="4.6" stroke-linejoin="round" stroke-linecap="round"/>
<path d="M655.8 1843.6 L656.57 1843.57 L657.34 1843.54 L658.12 1843.51 L658.89 1843.49 L659.66 1843.46 L660.43 1843.43 L661.21 1843.4 L661.98 1843.38 L662.75 1843.35 L663.52 1843.33 L664.3 1843.31 L665.07 1843.28 L665.84 1843.26 L666.61 1843.24 L667.39 1843.23 L668.16 1843.21 L668.93 1843.19 L669.7 1843.18 L670.48 1843.17 L671.25 1843.16 L672.02 1843.15 L672.79 1843.14 L673.57 1843.14 L674.34 1843.14 L675.11 1843.14 L675.88 1843.14 L676.66 1843.15 L677.43 1843.16 L678.2 1843.17 L678.97 1843.18 L679.75 1843.2 L680.52 1843.22 L681.29 1843.24 L682.06 1843.27 L682.84 1843.3 L683.61 1843.33 L684.38 1843.37 L685.15 1843.41 L685.92 1843.45 L686.7 1843.5 L687.47 1843.55 L688.24 1843.61 L689.01 1843.67 L689.79 1843.73 L690.56 1843.8 L691.33 1843.88 L692.1 1843.96 L692.88 1844.04 L693.65 1844.13 L694.42 1844.23 L695.19 1844.33 L695.97 1844.44 L696.74 1844.56 L697.51 1844.68 L698.28 1844.81 L699.06 1844.95 L699.83 1845.09 L700.6 1845.25 L701.37 1845.41 L702.15 1845.58 L702.92 1845.76 L703.69 1845.95 L704.46 1846.14 L705.24 1846.35 L706.01 1846.56 L706.78 1846.79 L707.55 1847.02 L708.33 1847.26 L709.1 1847.5 L709.87 1847.76 L710.64 1848.02 L711.42 1848.29 L712.19 1848.56 L712.96 1848.84 L713.73 1849.13 L714.5 1849.42 L715.28 1849.72 L716.05 1850.03 L716.82 1850.34 L717.59 1850.65 L718.37 1850.97 L719.14 1851.3 L719.91 1851.63 L720.68 1851.96 L721.46 1852.3 L722.23 1852.65 L723 1853 L723.77 1853.36 L724.55 1853.73 L725.32 1854.11 L726.09 1854.49 L726.86 1854.89 L727.64 1855.29 L728.41 1855.71 L729.18 1856.14 L729.95 1856.58 L730.73 1857.03 L731.5 1857.5 L732.27 1857.98 L733.04 1858.48 L733.82 1858.99 L734.59 1859.52 L735.36 1860.07 L736.13 1860.63 L736.91 1861.21 L737.68 1861.81 L738.45 1862.43 L739.22 1863.06 L739.99 1863.7 L740.77 1864.36 L741.54 1865.03 L742.31 1865.71 L743.08 1866.4 L743.86 1867.1 L744.63 1867.81 L745.4 1868.53 L746.17 1869.25 L746.95 1869.98 L747.72 1870.72 L748.49 1871.45 L749.26 1872.2 L750.04 1872.95 L750.81 1873.71 L751.58 1874.49 L752.35 1875.29 L753.13 1876.11 L753.9 1876.96 L754.67 1877.85 L755.44 1878.77 L756.22 1879.73 L756.99 1880.73 L757.76 1881.78 L758.53 1882.88 L759.31 1884.03 L760.08 1885.24 L760.85 1886.5 L761.62 1887.82 L762.4 1889.19 L763.17 1890.6 L763.94 1892.07 L764.71 1893.58 L765.49 1895.14 L766.26 1896.74 L767.03 1898.39 L767.8 1900.08 L768.57 1901.79 L769.35 1903.53 L770.12 1905.29 L770.89 1907.07 L771.66 1908.85 L772.44 1910.62 L773.21 1912.4 L773.98 1914.16 L774.75 1915.92 L775.53 1917.67 L776.3 1919.41 L777.07 1921.14 L777.84 1922.86 L778.62 1924.56 L779.39 1926.24 L780.16 1927.89 L780.93 1929.49 L781.71 1931.04 L782.48 1932.53 L783.25 1933.93 L784.02 1935.25 L784.8 1936.47 L785.57 1937.58 L786.34 1938.61 L787.11 1939.54 L787.89 1940.37 L788.66 1941.13 L789.43 1941.8 L790.2 1942.39 L790.98 1942.9 L791.75 1943.35 L792.52 1943.74 L793.29 1944.06 L794.07 1944.34 L794.84 1944.58 L795.61 1944.78 L796.38 1944.95 L797.15 1945.1 L797.93 1945.23 L798.7 1945.35 L799.47 1945.47 L800.24 1945.59 L801.02 1945.71 L801.79 1945.83 L802.56 1945.95 L803.33 1946.07 L804.11 1946.19 L804.88 1946.31 L805.65 1946.43 L806.42 1946.55 L807.2 1946.67 L807.97 1946.79 L808.74 1946.91 L809.51 1947.02 L810.29 1947.14 L811.06 1947.25 L811.83 1947.36 L812.6 1947.47 L813.38 1947.58 L814.15 1947.68 L814.92 1947.78 L815.69 1947.88 L816.47 1947.98 L817.24 1948.07 L818.01 1948.16 L818.78 1948.25 L819.56 1948.33 L820.33 1948.41 L821.1 1948.49 L821.87 1948.56 L822.65 1948.62 L823.42 1948.69 L824.19 1948.75 L824.96 1948.81 L825.73 1948.86 L826.51 1948.91 L827.28 1948.96 L828.05 1949 L828.82 1949.04 L829.6 1949.08 L830.37 1949.12 L831.14 1949.15 L831.91 1949.18 L832.69 1949.21 L833.46 1949.24 L834.23 1949.26 L835 1949.28 L835.78 1949.3 L836.55 1949.32 L837.32 1949.34 L838.09 1949.36 L838.87 1949.37 L839.64 1949.38 L840.41 1949.4 L841.18 1949.41 L841.96 1949.42 L842.73 1949.43 L843.5 1949.44 L844.27 1949.44 L845.05 1949.45 L845.82 1949.46 L846.59 1949.47 L847.36 1949.47 L848.14 1949.48 L848.91 1949.49 L849.68 1949.49 L850.45 1949.5 L851.23 1949.51 L852 1949.52 L852.77 1949.53 L853.54 1949.54 L854.31 1949.55 L855.09 1949.56 L855.86 1949.57 L856.63 1949.58 L857.4 1949.59 L858.18 1949.6 L858.95 1949.61 L859.72 1949.62 L860.49 1949.63 L861.27 1949.65 L862.04 1949.66 L862.81 1949.67 L863.58 1949.68 L864.36 1949.7 L865.13 1949.71 L865.9 1949.72 L866.67 1949.74 L867.45 1949.75 L868.22 1949.77 L868.99 1949.78 L869.76 1949.8 L870.54 1949.81 L871.31 1949.83 L872.08 1949.84 L872.85 1949.86 L873.63 1949.87 L874.4 1949.89 L875.17 1949.9 L875.94 1949.92 L876.72 1949.93 L877.49 1949.95 L878.26 1949.97 L879.03 1949.98 L879.81 1950 L880.58 1950.01 L881.35 1950.03 L882.12 1950.05 L882.89 1950.06 L883.67 1950.08 L884.44 1950.1 L885.21 1950.11 L885.98 1950.13 L886.76 1950.14 L887.53 1950.16 L888.3 1950.18 L889.07 1950.19 L889.85 1950.21 L890.62 1950.22 L891.39 1950.24 L892.16 1950.25 L892.94 1950.27 L893.71 1950.28 L894.48 1950.3 L895.25 1950.31 L896.03 1950.33 L896.8 1950.34 L897.57 1950.36 L898.34 1950.37 L899.12 1950.38 L899.89 1950.4 L900.66 1950.41 L901.43 1950.42 L902.21 1950.44 L902.98 1950.45 L903.75 1950.46 L904.52 1950.48 L905.3 1950.49 L906.07 1950.5 L906.84 1950.51 L907.61 1950.52 L908.38 1950.53 L909.16 1950.54 L909.93 1950.56 L910.7 1950.57 L911.47 1950.58 L912.25 1950.59 L913.02 1950.6 L913.79 1950.61 L914.56 1950.62 L915.34 1950.63 L916.11 1950.64 L916.88 1950.65 L917.65 1950.65 L918.43 1950.66 L919.2 1950.67 L919.97 1950.68 L920.74 1950.69 L921.52 1950.7 L922.29 1950.71 L923.06 1950.71 L923.83 1950.72 L924.61 1950.73 L925.38 1950.74 L926.15 1950.74 L926.92 1950.75 L927.7 1950.76 L928.47 1950.77 L929.24 1950.77 L930.01 1950.78 L930.79 1950.79 L931.56 1950.79 L932.33 1950.8 L933.1 1950.81 L933.88 1950.81 L934.65 1950.82 L935.42 1950.82 L936.19 1950.83 L936.96 1950.84 L937.74 1950.84 L938.51 1950.85 L939.28 1950.85 L940.05 1950.86 L940.83 1950.86 L941.6 1950.87 L942.37 1950.87 L943.14 1950.88 L943.92 1950.89 L944.69 1950.89 L945.46 1950.9 L946.23 1950.9 L947.01 1950.9 L947.78 1950.91 L948.55 1950.91 L949.32 1950.92 L950.1 1950.92 L950.87 1950.93 L951.64 1950.93 L952.41 1950.94 L953.19 1950.94 L953.96 1950.95 L954.73 1950.95 L955.5 1950.95 L956.28 1950.96 L957.05 1950.96 L957.82 1950.97 L958.59 1950.97 L959.37 1950.98 L960.14 1950.98 L960.91 1950.98 L961.68 1950.99 L962.46 1950.99 L963.23 1951 L964 1951" fill="none" stroke="#367ab2" stroke-width="4.6" stroke-linejoin="round" stroke-linecap="round"/>
<text x="1.5" y="58" font-size="60" text-anchor="start" font-family='"Liberation Serif", "Times New Roman", serif' >(a)</text>
<text x="-0.5" y="862" font-size="60" text-anchor="start" font-family='"Liberation Serif", "Times New Roman", serif' >(b)</text>
<text x="-1" y="1622" font-size="60" text-anchor="start" font-family='"Liberation Serif", "Times New Roman", serif' >(c)</text>
<text x="213" y="88.5" font-size="43" text-anchor="start" font-family='"Liberation Sans", Arial, Helvetica, sans-serif' >KV<tspan font-size="28.38" dy="11">3</tspan><tspan dy="-11">Sb</tspan><tspan font-size="28.38" dy="11">5</tspan></text>
<text x="337" y="889.5" font-size="43" text-anchor="start" font-family='"Liberation Sans", Arial, Helvetica, sans-serif' >KV<tspan font-size="28.38" dy="11">3</tspan><tspan dy="-11">Sb</tspan><tspan font-size="28.38" dy="11">5</tspan></text>
<text x="215.7" y="1700.3" font-size="43" text-anchor="start" font-family='"Liberation Sans", Arial, Helvetica, sans-serif' >KV<tspan font-size="28.38" dy="11">3</tspan><tspan dy="-11">Sb</tspan><tspan font-size="28.38" dy="11">5</tspan><tspan dy="-11">, H</tspan><tspan font-family="'DejaVu Sans', sans-serif" font-weight="200" font-size="44" dx="15.1" dy="-7.5">|</tspan><tspan font-family="'DejaVu Sans', sans-serif" font-weight="200" font-size="44" dx="6.6">|</tspan><tspan dx="14.6" dy="7.5">c</tspan></text>
<text transform="translate(54.8 441.2) rotate(-90)" font-size="37" font-family='"Liberation Sans", Arial, Helvetica, sans-serif'><tspan x="0" font-size="39">σ</tspan><tspan x="27.9" font-size="28" dy="12" letter-spacing="1.6">sc,c</tspan><tspan x="82.5" dy="-12" font-size="42">(</tspan><tspan x="96.4">μ</tspan><tspan x="121.6">s</tspan><tspan x="143.8" font-size="21" dy="-19">-</tspan><tspan x="154" font-size="21">1</tspan><tspan x="169.3" dy="19" font-size="42">)</tspan></text>
<text transform="translate(54.8 1197.7) rotate(-90)" font-size="37" font-family='"Liberation Sans", Arial, Helvetica, sans-serif'><tspan x="0" font-size="39">σ</tspan><tspan x="27.3" font-size="28" dy="12" letter-spacing="0.2">sc,ab</tspan><tspan x="94.4" dy="-12" font-size="42">(</tspan><tspan x="110">μ</tspan><tspan x="134.4">s</tspan><tspan x="152.9" font-size="21" dy="-19">-</tspan><tspan x="159.7" font-size="21">1</tspan><tspan x="177.2" dy="19" font-size="42">)</tspan></text>
<text transform="translate(54.8 1998.7) rotate(-90)" font-size="37" font-family='"Liberation Sans", Arial, Helvetica, sans-serif'><tspan x="0" font-size="39">σ</tspan><tspan x="26.3" font-size="28" dy="12" letter-spacing="0">sc,ac</tspan><tspan x="90.1" dy="-12" font-size="42">(</tspan><tspan x="104.7">μ</tspan><tspan x="129.5">s</tspan><tspan x="151.9" font-size="21" dy="-19">-</tspan><tspan x="160.7" font-size="21">1</tspan><tspan x="177.3" dy="19" font-size="42">)</tspan></text>
<text transform="translate(512.5 323) rotate(-90)" font-size="34" font-family='"Liberation Sans", Arial, Helvetica, sans-serif'>Δ<tspan font-size="22.44" dy="7">1</tspan><tspan dy="-7">, Δ</tspan><tspan font-size="22.44" dy="7">2</tspan><tspan dy="-7"> (meV)</tspan></text>
<text transform="translate(512.5 1113) rotate(-90)" font-size="34" font-family='"Liberation Sans", Arial, Helvetica, sans-serif'>Δ<tspan font-size="22.44" dy="7">1</tspan><tspan dy="-7">, Δ</tspan><tspan font-size="22.44" dy="7">2</tspan><tspan dy="-7"> (meV)</tspan></text>
<text transform="translate(563 1886.5) rotate(-90)" font-size="30" font-family='"Liberation Sans", Arial, Helvetica, sans-serif'>Δ<tspan font-size="19.8" dy="7">1</tspan><tspan dy="-7">, Δ</tspan><tspan font-size="19.8" dy="7">2</tspan><tspan dy="-7"> (meV)</tspan></text>
<text x="586.5" y="793" font-size="42.5" text-anchor="start" font-family='"Liberation Sans", Arial, Helvetica, sans-serif' ><tspan font-style="italic">T</tspan>(K)</text>
<text x="580" y="1583" font-size="42.5" text-anchor="start" font-family='"Liberation Sans", Arial, Helvetica, sans-serif' ><tspan font-style="italic">T</tspan> (K)</text>
<text x="580" y="2376" font-size="42.5" text-anchor="start" font-family='"Liberation Sans", Arial, Helvetica, sans-serif' ><tspan font-style="italic">T</tspan> (K)</text>
<text x="780" y="494.4" font-size="34" text-anchor="start" font-family='"Liberation Sans", Arial, Helvetica, sans-serif' ><tspan font-style="italic">T</tspan> (K)</text>
<text x="780" y="1284.4" font-size="34" text-anchor="start" font-family='"Liberation Sans", Arial, Helvetica, sans-serif' ><tspan font-style="italic">T</tspan> (K)</text>
<text x="810.5" y="2040" font-size="29.6" text-anchor="start" font-family='"Liberation Sans", Arial, Helvetica, sans-serif' ><tspan font-style="italic">T</tspan> (K)</text>
<circle cx="1127.1" cy="549.1" r="13.7" fill="#a59f19"/>
<text x="1186" y="563.5" font-size="42.8" text-anchor="start" font-family='"Liberation Sans", Arial, Helvetica, sans-serif' >5 mT</text>
<line x1="1079.5" y1="603.2" x2="1174.7" y2="603.2" stroke="#000" stroke-width="4.5" stroke-linecap="round"/>
<text x="1187.1" y="616.5" font-size="42.8" text-anchor="start" font-family='"Liberation Sans", Arial, Helvetica, sans-serif' >Gamma model</text>
<line x1="1079.5" y1="656.1" x2="1174.7" y2="656.1" stroke="#9a40f8" stroke-width="4.5" stroke-linecap="round"/>
<text x="1186.1" y="669.5" font-size="42.8" text-anchor="start" font-family='"Liberation Sans", Arial, Helvetica, sans-serif' >Beyond the limitation of Gamma model</text>
<circle cx="1124.6" cy="1316.6" r="13.7" fill="#a59f19"/>
<text x="1183.5" y="1330.2" font-size="42.8" text-anchor="start" font-family='"Liberation Sans", Arial, Helvetica, sans-serif' >5 mT</text>
<line x1="1077" y1="1370" x2="1172.3" y2="1370" stroke="#000" stroke-width="4.5" stroke-linecap="round"/>
<text x="1184.6" y="1383.3" font-size="42.8" text-anchor="start" font-family='"Liberation Sans", Arial, Helvetica, sans-serif' >Gamma model</text>
<line x1="1077" y1="1423.4" x2="1172.3" y2="1423.4" stroke="#9a40f8" stroke-width="4.5" stroke-linecap="round"/>
<text x="1183.6" y="1436.6" font-size="42.8" text-anchor="start" font-family='"Liberation Sans", Arial, Helvetica, sans-serif' >Beyond the limitation of Gamma model</text>
<circle cx="695.5" cy="2103.2" r="13.4" fill="#a59f19"/>
<text x="755.1" y="2116.1" font-size="42.8" text-anchor="start" font-family='"Liberation Sans", Arial, Helvetica, sans-serif' >10 mT</text>
<line x1="648" y1="2156.1" x2="743" y2="2156.1" stroke="#000" stroke-width="4.5" stroke-linecap="round"/>
<text x="755.5" y="2168.3" font-size="42.8" text-anchor="start" font-family='"Liberation Sans", Arial, Helvetica, sans-serif' >Gamma model</text>
</svg></body></html>
